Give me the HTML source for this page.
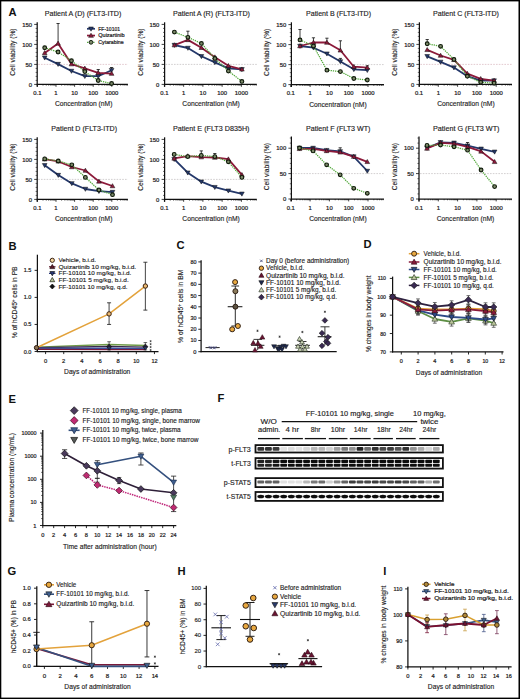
<!DOCTYPE html>
<html><head><meta charset="utf-8"><style>
html,body{margin:0;padding:0;background:#fff;}
svg{display:block;}
text{font-family:"Liberation Sans",sans-serif;stroke:#1e1c1d;}
</style></head><body>
<svg width="520" height="699" viewBox="0 0 520 699" fill="#1e1c1d">
<rect x="0" y="0" width="520" height="699" fill="#fff"/>
<text x="8.60" y="15.90" font-size="11.2" font-weight="bold" fill="#111" stroke-width="0">A</text>
<line x1="38.20" y1="64.40" x2="127.90" y2="64.40" stroke="#dcbcc4" stroke-width="0.8" stroke-dasharray="1.6,1.2"/>
<line x1="37.20" y1="22.30" x2="37.20" y2="86.80" stroke="#111" stroke-width="1.25"/>
<line x1="34.20" y1="84.40" x2="37.20" y2="84.40" stroke="#111" stroke-width="0.8"/>
<line x1="35.60" y1="80.40" x2="37.20" y2="80.40" stroke="#111" stroke-width="0.6"/>
<line x1="35.60" y1="76.40" x2="37.20" y2="76.40" stroke="#111" stroke-width="0.6"/>
<line x1="35.60" y1="72.40" x2="37.20" y2="72.40" stroke="#111" stroke-width="0.6"/>
<line x1="35.60" y1="68.40" x2="37.20" y2="68.40" stroke="#111" stroke-width="0.6"/>
<line x1="34.20" y1="64.40" x2="37.20" y2="64.40" stroke="#111" stroke-width="0.8"/>
<line x1="35.60" y1="60.40" x2="37.20" y2="60.40" stroke="#111" stroke-width="0.6"/>
<line x1="35.60" y1="56.40" x2="37.20" y2="56.40" stroke="#111" stroke-width="0.6"/>
<line x1="35.60" y1="52.40" x2="37.20" y2="52.40" stroke="#111" stroke-width="0.6"/>
<line x1="35.60" y1="48.40" x2="37.20" y2="48.40" stroke="#111" stroke-width="0.6"/>
<line x1="34.20" y1="44.40" x2="37.20" y2="44.40" stroke="#111" stroke-width="0.8"/>
<line x1="35.60" y1="40.40" x2="37.20" y2="40.40" stroke="#111" stroke-width="0.6"/>
<line x1="35.60" y1="36.40" x2="37.20" y2="36.40" stroke="#111" stroke-width="0.6"/>
<line x1="35.60" y1="32.40" x2="37.20" y2="32.40" stroke="#111" stroke-width="0.6"/>
<line x1="35.60" y1="28.40" x2="37.20" y2="28.40" stroke="#111" stroke-width="0.6"/>
<line x1="34.20" y1="24.40" x2="37.20" y2="24.40" stroke="#111" stroke-width="0.8"/>
<text x="32.00" y="86.50" font-size="5.9" text-anchor="end" stroke-width="0.22">0</text>
<text x="32.00" y="66.50" font-size="5.9" text-anchor="end" stroke-width="0.22">50</text>
<text x="32.00" y="46.50" font-size="5.9" text-anchor="end" stroke-width="0.22">100</text>
<text x="32.00" y="26.50" font-size="5.9" text-anchor="end" stroke-width="0.22">150</text>
<line x1="36.70" y1="84.40" x2="127.90" y2="84.40" stroke="#111" stroke-width="1.25"/>
<line x1="37.40" y1="84.40" x2="37.40" y2="86.80" stroke="#111" stroke-width="0.8"/>
<text x="37.40" y="95.00" font-size="5.9" text-anchor="middle" stroke-width="0.22">0.1</text>
<line x1="43.00" y1="84.40" x2="43.00" y2="85.70" stroke="#111" stroke-width="0.6"/>
<line x1="46.27" y1="84.40" x2="46.27" y2="85.70" stroke="#111" stroke-width="0.6"/>
<line x1="48.60" y1="84.40" x2="48.60" y2="85.70" stroke="#111" stroke-width="0.6"/>
<line x1="50.40" y1="84.40" x2="50.40" y2="85.70" stroke="#111" stroke-width="0.6"/>
<line x1="51.87" y1="84.40" x2="51.87" y2="85.70" stroke="#111" stroke-width="0.6"/>
<line x1="53.12" y1="84.40" x2="53.12" y2="85.70" stroke="#111" stroke-width="0.6"/>
<line x1="54.20" y1="84.40" x2="54.20" y2="85.70" stroke="#111" stroke-width="0.6"/>
<line x1="55.15" y1="84.40" x2="55.15" y2="85.70" stroke="#111" stroke-width="0.6"/>
<line x1="56.00" y1="84.40" x2="56.00" y2="86.80" stroke="#111" stroke-width="0.8"/>
<text x="56.00" y="95.00" font-size="5.9" text-anchor="middle" stroke-width="0.22">1</text>
<line x1="61.60" y1="84.40" x2="61.60" y2="85.70" stroke="#111" stroke-width="0.6"/>
<line x1="64.87" y1="84.40" x2="64.87" y2="85.70" stroke="#111" stroke-width="0.6"/>
<line x1="67.20" y1="84.40" x2="67.20" y2="85.70" stroke="#111" stroke-width="0.6"/>
<line x1="69.00" y1="84.40" x2="69.00" y2="85.70" stroke="#111" stroke-width="0.6"/>
<line x1="70.47" y1="84.40" x2="70.47" y2="85.70" stroke="#111" stroke-width="0.6"/>
<line x1="71.72" y1="84.40" x2="71.72" y2="85.70" stroke="#111" stroke-width="0.6"/>
<line x1="72.80" y1="84.40" x2="72.80" y2="85.70" stroke="#111" stroke-width="0.6"/>
<line x1="73.75" y1="84.40" x2="73.75" y2="85.70" stroke="#111" stroke-width="0.6"/>
<line x1="74.60" y1="84.40" x2="74.60" y2="86.80" stroke="#111" stroke-width="0.8"/>
<text x="74.60" y="95.00" font-size="5.9" text-anchor="middle" stroke-width="0.22">10</text>
<line x1="80.20" y1="84.40" x2="80.20" y2="85.70" stroke="#111" stroke-width="0.6"/>
<line x1="83.47" y1="84.40" x2="83.47" y2="85.70" stroke="#111" stroke-width="0.6"/>
<line x1="85.80" y1="84.40" x2="85.80" y2="85.70" stroke="#111" stroke-width="0.6"/>
<line x1="87.60" y1="84.40" x2="87.60" y2="85.70" stroke="#111" stroke-width="0.6"/>
<line x1="89.07" y1="84.40" x2="89.07" y2="85.70" stroke="#111" stroke-width="0.6"/>
<line x1="90.32" y1="84.40" x2="90.32" y2="85.70" stroke="#111" stroke-width="0.6"/>
<line x1="91.40" y1="84.40" x2="91.40" y2="85.70" stroke="#111" stroke-width="0.6"/>
<line x1="92.35" y1="84.40" x2="92.35" y2="85.70" stroke="#111" stroke-width="0.6"/>
<line x1="93.20" y1="84.40" x2="93.20" y2="86.80" stroke="#111" stroke-width="0.8"/>
<text x="93.20" y="95.00" font-size="5.9" text-anchor="middle" stroke-width="0.22">100</text>
<line x1="98.80" y1="84.40" x2="98.80" y2="85.70" stroke="#111" stroke-width="0.6"/>
<line x1="102.07" y1="84.40" x2="102.07" y2="85.70" stroke="#111" stroke-width="0.6"/>
<line x1="104.40" y1="84.40" x2="104.40" y2="85.70" stroke="#111" stroke-width="0.6"/>
<line x1="106.20" y1="84.40" x2="106.20" y2="85.70" stroke="#111" stroke-width="0.6"/>
<line x1="107.67" y1="84.40" x2="107.67" y2="85.70" stroke="#111" stroke-width="0.6"/>
<line x1="108.92" y1="84.40" x2="108.92" y2="85.70" stroke="#111" stroke-width="0.6"/>
<line x1="110.00" y1="84.40" x2="110.00" y2="85.70" stroke="#111" stroke-width="0.6"/>
<line x1="110.95" y1="84.40" x2="110.95" y2="85.70" stroke="#111" stroke-width="0.6"/>
<line x1="111.80" y1="84.40" x2="111.80" y2="86.80" stroke="#111" stroke-width="0.8"/>
<text x="111.80" y="95.00" font-size="5.9" text-anchor="middle" stroke-width="0.22">1000</text>
<line x1="117.40" y1="84.40" x2="117.40" y2="85.70" stroke="#111" stroke-width="0.6"/>
<line x1="120.67" y1="84.40" x2="120.67" y2="85.70" stroke="#111" stroke-width="0.6"/>
<line x1="123.00" y1="84.40" x2="123.00" y2="85.70" stroke="#111" stroke-width="0.6"/>
<line x1="124.80" y1="84.40" x2="124.80" y2="85.70" stroke="#111" stroke-width="0.6"/>
<line x1="126.27" y1="84.40" x2="126.27" y2="85.70" stroke="#111" stroke-width="0.6"/>
<line x1="127.52" y1="84.40" x2="127.52" y2="85.70" stroke="#111" stroke-width="0.6"/>
<text x="83.05" y="15.70" font-size="7.0" text-anchor="middle" textLength="76.50" lengthAdjust="spacingAndGlyphs" stroke-width="0.14">Patient A (D) (FLT3-ITD)</text>
<text x="83.70" y="106.40" font-size="7.2" text-anchor="middle" textLength="57.50" lengthAdjust="spacingAndGlyphs" stroke-width="0.14">Concentration (nM)</text>
<text x="15.20" y="52.10" font-size="7.0" text-anchor="middle" textLength="47.20" lengthAdjust="spacingAndGlyphs" transform="rotate(-90 15.20 52.10)" stroke-width="0.14">Cell viability (%)</text>
<polyline points="44.70,57.70 58.08,64.10 71.46,71.00 84.84,76.20 98.22,76.20 111.60,70.20" fill="none" stroke="#24386a" stroke-width="1.8" stroke-linejoin="round"/>
<polyline points="44.70,52.90 58.08,43.40 71.46,64.10 84.84,68.40 98.22,72.80 111.60,73.60" fill="none" stroke="#8c1a3a" stroke-width="1.8" stroke-linejoin="round"/>
<polyline points="44.70,47.70 58.08,52.00 71.46,60.70 84.84,71.60 98.22,80.50 111.60,83.50" fill="none" stroke="#52a83a" stroke-width="1.25" stroke-linejoin="round" stroke-dasharray="1.3,0.9"/>
<line x1="58.08" y1="43.40" x2="58.08" y2="23.50" stroke="#1a1a1a" stroke-width="0.85"/>
<line x1="56.48" y1="23.50" x2="59.68" y2="23.50" stroke="#1a1a1a" stroke-width="0.85"/>
<line x1="98.22" y1="72.80" x2="98.22" y2="69.50" stroke="#1a1a1a" stroke-width="0.85"/>
<line x1="96.62" y1="69.50" x2="99.82" y2="69.50" stroke="#1a1a1a" stroke-width="0.85"/>
<line x1="111.60" y1="70.20" x2="111.60" y2="67.50" stroke="#1a1a1a" stroke-width="0.85"/>
<line x1="110.00" y1="67.50" x2="113.20" y2="67.50" stroke="#1a1a1a" stroke-width="0.85"/>
<path d="M44.70,60.06 L47.06,55.93 L42.34,55.93Z" fill="#24386a" stroke="#111" stroke-width="0.5"/>
<path d="M58.08,66.46 L60.44,62.33 L55.72,62.33Z" fill="#24386a" stroke="#111" stroke-width="0.5"/>
<path d="M71.46,73.36 L73.82,69.23 L69.10,69.23Z" fill="#24386a" stroke="#111" stroke-width="0.5"/>
<path d="M84.84,78.56 L87.20,74.43 L82.48,74.43Z" fill="#24386a" stroke="#111" stroke-width="0.5"/>
<path d="M98.22,78.56 L100.58,74.43 L95.86,74.43Z" fill="#24386a" stroke="#111" stroke-width="0.5"/>
<path d="M111.60,72.56 L113.96,68.43 L109.24,68.43Z" fill="#24386a" stroke="#111" stroke-width="0.5"/>
<path d="M44.70,50.54 L47.06,54.67 L42.34,54.67Z" fill="#8c1a3a" stroke="#111" stroke-width="0.5"/>
<path d="M58.08,41.04 L60.44,45.17 L55.72,45.17Z" fill="#8c1a3a" stroke="#111" stroke-width="0.5"/>
<path d="M71.46,61.74 L73.82,65.87 L69.10,65.87Z" fill="#8c1a3a" stroke="#111" stroke-width="0.5"/>
<path d="M84.84,66.04 L87.20,70.17 L82.48,70.17Z" fill="#8c1a3a" stroke="#111" stroke-width="0.5"/>
<path d="M98.22,70.44 L100.58,74.57 L95.86,74.57Z" fill="#8c1a3a" stroke="#111" stroke-width="0.5"/>
<path d="M111.60,71.24 L113.96,75.37 L109.24,75.37Z" fill="#8c1a3a" stroke="#111" stroke-width="0.5"/>
<circle cx="44.70" cy="47.70" r="1.85" fill="#7d8a6a" stroke="#0f1a0a" stroke-width="1.15"/>
<circle cx="58.08" cy="52.00" r="1.85" fill="#7d8a6a" stroke="#0f1a0a" stroke-width="1.15"/>
<circle cx="71.46" cy="60.70" r="1.85" fill="#7d8a6a" stroke="#0f1a0a" stroke-width="1.15"/>
<circle cx="84.84" cy="71.60" r="1.85" fill="#7d8a6a" stroke="#0f1a0a" stroke-width="1.15"/>
<circle cx="98.22" cy="80.50" r="1.85" fill="#7d8a6a" stroke="#0f1a0a" stroke-width="1.15"/>
<circle cx="111.60" cy="83.50" r="1.85" fill="#7d8a6a" stroke="#0f1a0a" stroke-width="1.15"/>
<line x1="87.00" y1="28.80" x2="95.00" y2="28.80" stroke="#24386a" stroke-width="1.7"/>
<path d="M91.00,31.21 L93.42,26.99 L88.58,26.99Z" fill="#24386a" stroke="#111" stroke-width="0.5"/>
<text x="98.30" y="30.70" font-size="5.5" textLength="21.70" lengthAdjust="spacingAndGlyphs" stroke-width="0.22">FF-10101</text>
<line x1="87.00" y1="35.55" x2="95.00" y2="35.55" stroke="#8c1a3a" stroke-width="1.7"/>
<path d="M91.00,33.13 L93.42,37.36 L88.58,37.36Z" fill="#8c1a3a" stroke="#111" stroke-width="0.5"/>
<text x="98.30" y="37.45" font-size="5.5" stroke-width="0.22">Quizartinib</text>
<line x1="87.00" y1="42.30" x2="95.00" y2="42.30" stroke="#52a83a" stroke-width="1.2" stroke-dasharray="1.2,0.9"/>
<circle cx="91.00" cy="42.30" r="1.90" fill="#7d8a6a" stroke="#1a2616" stroke-width="1.0"/>
<text x="98.30" y="44.20" font-size="5.5" textLength="25.40" lengthAdjust="spacingAndGlyphs" stroke-width="0.22">Cytarabine</text>
<line x1="165.60" y1="64.40" x2="256.80" y2="64.40" stroke="#c6c3c4" stroke-width="0.8" stroke-dasharray="1.6,1.2"/>
<line x1="164.60" y1="22.30" x2="164.60" y2="86.80" stroke="#111" stroke-width="1.25"/>
<line x1="161.60" y1="84.40" x2="164.60" y2="84.40" stroke="#111" stroke-width="0.8"/>
<line x1="163.00" y1="80.40" x2="164.60" y2="80.40" stroke="#111" stroke-width="0.6"/>
<line x1="163.00" y1="76.40" x2="164.60" y2="76.40" stroke="#111" stroke-width="0.6"/>
<line x1="163.00" y1="72.40" x2="164.60" y2="72.40" stroke="#111" stroke-width="0.6"/>
<line x1="163.00" y1="68.40" x2="164.60" y2="68.40" stroke="#111" stroke-width="0.6"/>
<line x1="161.60" y1="64.40" x2="164.60" y2="64.40" stroke="#111" stroke-width="0.8"/>
<line x1="163.00" y1="60.40" x2="164.60" y2="60.40" stroke="#111" stroke-width="0.6"/>
<line x1="163.00" y1="56.40" x2="164.60" y2="56.40" stroke="#111" stroke-width="0.6"/>
<line x1="163.00" y1="52.40" x2="164.60" y2="52.40" stroke="#111" stroke-width="0.6"/>
<line x1="163.00" y1="48.40" x2="164.60" y2="48.40" stroke="#111" stroke-width="0.6"/>
<line x1="161.60" y1="44.40" x2="164.60" y2="44.40" stroke="#111" stroke-width="0.8"/>
<line x1="163.00" y1="40.40" x2="164.60" y2="40.40" stroke="#111" stroke-width="0.6"/>
<line x1="163.00" y1="36.40" x2="164.60" y2="36.40" stroke="#111" stroke-width="0.6"/>
<line x1="163.00" y1="32.40" x2="164.60" y2="32.40" stroke="#111" stroke-width="0.6"/>
<line x1="163.00" y1="28.40" x2="164.60" y2="28.40" stroke="#111" stroke-width="0.6"/>
<line x1="161.60" y1="24.40" x2="164.60" y2="24.40" stroke="#111" stroke-width="0.8"/>
<text x="159.40" y="86.50" font-size="5.9" text-anchor="end" stroke-width="0.22">0</text>
<text x="159.40" y="66.50" font-size="5.9" text-anchor="end" stroke-width="0.22">50</text>
<text x="159.40" y="46.50" font-size="5.9" text-anchor="end" stroke-width="0.22">100</text>
<text x="159.40" y="26.50" font-size="5.9" text-anchor="end" stroke-width="0.22">150</text>
<line x1="164.10" y1="84.40" x2="256.80" y2="84.40" stroke="#111" stroke-width="1.25"/>
<line x1="164.40" y1="84.40" x2="164.40" y2="86.80" stroke="#111" stroke-width="0.8"/>
<text x="164.40" y="95.00" font-size="5.9" text-anchor="middle" stroke-width="0.22">0.1</text>
<line x1="170.19" y1="84.40" x2="170.19" y2="85.70" stroke="#111" stroke-width="0.6"/>
<line x1="173.58" y1="84.40" x2="173.58" y2="85.70" stroke="#111" stroke-width="0.6"/>
<line x1="175.99" y1="84.40" x2="175.99" y2="85.70" stroke="#111" stroke-width="0.6"/>
<line x1="177.86" y1="84.40" x2="177.86" y2="85.70" stroke="#111" stroke-width="0.6"/>
<line x1="179.38" y1="84.40" x2="179.38" y2="85.70" stroke="#111" stroke-width="0.6"/>
<line x1="180.67" y1="84.40" x2="180.67" y2="85.70" stroke="#111" stroke-width="0.6"/>
<line x1="181.78" y1="84.40" x2="181.78" y2="85.70" stroke="#111" stroke-width="0.6"/>
<line x1="182.77" y1="84.40" x2="182.77" y2="85.70" stroke="#111" stroke-width="0.6"/>
<line x1="183.65" y1="84.40" x2="183.65" y2="86.80" stroke="#111" stroke-width="0.8"/>
<text x="183.65" y="95.00" font-size="5.9" text-anchor="middle" stroke-width="0.22">1</text>
<line x1="189.44" y1="84.40" x2="189.44" y2="85.70" stroke="#111" stroke-width="0.6"/>
<line x1="192.83" y1="84.40" x2="192.83" y2="85.70" stroke="#111" stroke-width="0.6"/>
<line x1="195.24" y1="84.40" x2="195.24" y2="85.70" stroke="#111" stroke-width="0.6"/>
<line x1="197.11" y1="84.40" x2="197.11" y2="85.70" stroke="#111" stroke-width="0.6"/>
<line x1="198.63" y1="84.40" x2="198.63" y2="85.70" stroke="#111" stroke-width="0.6"/>
<line x1="199.92" y1="84.40" x2="199.92" y2="85.70" stroke="#111" stroke-width="0.6"/>
<line x1="201.03" y1="84.40" x2="201.03" y2="85.70" stroke="#111" stroke-width="0.6"/>
<line x1="202.02" y1="84.40" x2="202.02" y2="85.70" stroke="#111" stroke-width="0.6"/>
<line x1="202.90" y1="84.40" x2="202.90" y2="86.80" stroke="#111" stroke-width="0.8"/>
<text x="202.90" y="95.00" font-size="5.9" text-anchor="middle" stroke-width="0.22">10</text>
<line x1="208.69" y1="84.40" x2="208.69" y2="85.70" stroke="#111" stroke-width="0.6"/>
<line x1="212.08" y1="84.40" x2="212.08" y2="85.70" stroke="#111" stroke-width="0.6"/>
<line x1="214.49" y1="84.40" x2="214.49" y2="85.70" stroke="#111" stroke-width="0.6"/>
<line x1="216.36" y1="84.40" x2="216.36" y2="85.70" stroke="#111" stroke-width="0.6"/>
<line x1="217.88" y1="84.40" x2="217.88" y2="85.70" stroke="#111" stroke-width="0.6"/>
<line x1="219.17" y1="84.40" x2="219.17" y2="85.70" stroke="#111" stroke-width="0.6"/>
<line x1="220.28" y1="84.40" x2="220.28" y2="85.70" stroke="#111" stroke-width="0.6"/>
<line x1="221.27" y1="84.40" x2="221.27" y2="85.70" stroke="#111" stroke-width="0.6"/>
<line x1="222.15" y1="84.40" x2="222.15" y2="86.80" stroke="#111" stroke-width="0.8"/>
<text x="222.15" y="95.00" font-size="5.9" text-anchor="middle" stroke-width="0.22">100</text>
<line x1="227.94" y1="84.40" x2="227.94" y2="85.70" stroke="#111" stroke-width="0.6"/>
<line x1="231.33" y1="84.40" x2="231.33" y2="85.70" stroke="#111" stroke-width="0.6"/>
<line x1="233.74" y1="84.40" x2="233.74" y2="85.70" stroke="#111" stroke-width="0.6"/>
<line x1="235.61" y1="84.40" x2="235.61" y2="85.70" stroke="#111" stroke-width="0.6"/>
<line x1="237.13" y1="84.40" x2="237.13" y2="85.70" stroke="#111" stroke-width="0.6"/>
<line x1="238.42" y1="84.40" x2="238.42" y2="85.70" stroke="#111" stroke-width="0.6"/>
<line x1="239.53" y1="84.40" x2="239.53" y2="85.70" stroke="#111" stroke-width="0.6"/>
<line x1="240.52" y1="84.40" x2="240.52" y2="85.70" stroke="#111" stroke-width="0.6"/>
<line x1="241.40" y1="84.40" x2="241.40" y2="86.80" stroke="#111" stroke-width="0.8"/>
<text x="241.40" y="95.00" font-size="5.9" text-anchor="middle" stroke-width="0.22">1000</text>
<line x1="247.19" y1="84.40" x2="247.19" y2="85.70" stroke="#111" stroke-width="0.6"/>
<line x1="250.58" y1="84.40" x2="250.58" y2="85.70" stroke="#111" stroke-width="0.6"/>
<line x1="252.99" y1="84.40" x2="252.99" y2="85.70" stroke="#111" stroke-width="0.6"/>
<line x1="254.86" y1="84.40" x2="254.86" y2="85.70" stroke="#111" stroke-width="0.6"/>
<line x1="256.38" y1="84.40" x2="256.38" y2="85.70" stroke="#111" stroke-width="0.6"/>
<text x="211.50" y="15.70" font-size="7.0" text-anchor="middle" textLength="77.00" lengthAdjust="spacingAndGlyphs" stroke-width="0.14">Patient A (R) (FLT3-ITD)</text>
<text x="211.10" y="106.40" font-size="7.2" text-anchor="middle" textLength="57.50" lengthAdjust="spacingAndGlyphs" stroke-width="0.14">Concentration (nM)</text>
<text x="142.60" y="52.10" font-size="7.0" text-anchor="middle" textLength="47.20" lengthAdjust="spacingAndGlyphs" transform="rotate(-90 142.60 52.10)" stroke-width="0.14">Cell viability (%)</text>
<polyline points="174.40,45.10 187.90,48.00 201.40,56.30 214.90,62.40 228.40,68.40 241.90,69.30" fill="none" stroke="#24386a" stroke-width="1.8" stroke-linejoin="round"/>
<polyline points="174.40,45.10 187.90,39.90 201.40,47.70 214.90,57.20 228.40,65.80 241.90,69.30" fill="none" stroke="#8c1a3a" stroke-width="1.8" stroke-linejoin="round"/>
<polyline points="174.40,32.10 187.90,37.30 201.40,43.40 214.90,58.40 228.40,71.00 241.90,81.40" fill="none" stroke="#52a83a" stroke-width="1.25" stroke-linejoin="round" stroke-dasharray="1.3,0.9"/>
<line x1="187.90" y1="37.30" x2="187.90" y2="31.20" stroke="#1a1a1a" stroke-width="0.85"/>
<line x1="186.30" y1="31.20" x2="189.50" y2="31.20" stroke="#1a1a1a" stroke-width="0.85"/>
<path d="M174.40,47.46 L176.76,43.33 L172.04,43.33Z" fill="#24386a" stroke="#111" stroke-width="0.5"/>
<path d="M187.90,50.36 L190.26,46.23 L185.54,46.23Z" fill="#24386a" stroke="#111" stroke-width="0.5"/>
<path d="M201.40,58.66 L203.76,54.53 L199.04,54.53Z" fill="#24386a" stroke="#111" stroke-width="0.5"/>
<path d="M214.90,64.76 L217.26,60.63 L212.54,60.63Z" fill="#24386a" stroke="#111" stroke-width="0.5"/>
<path d="M228.40,70.76 L230.76,66.63 L226.04,66.63Z" fill="#24386a" stroke="#111" stroke-width="0.5"/>
<path d="M241.90,71.66 L244.26,67.53 L239.54,67.53Z" fill="#24386a" stroke="#111" stroke-width="0.5"/>
<path d="M174.40,42.74 L176.76,46.87 L172.04,46.87Z" fill="#8c1a3a" stroke="#111" stroke-width="0.5"/>
<path d="M187.90,37.54 L190.26,41.67 L185.54,41.67Z" fill="#8c1a3a" stroke="#111" stroke-width="0.5"/>
<path d="M201.40,45.34 L203.76,49.47 L199.04,49.47Z" fill="#8c1a3a" stroke="#111" stroke-width="0.5"/>
<path d="M214.90,54.84 L217.26,58.97 L212.54,58.97Z" fill="#8c1a3a" stroke="#111" stroke-width="0.5"/>
<path d="M228.40,63.44 L230.76,67.57 L226.04,67.57Z" fill="#8c1a3a" stroke="#111" stroke-width="0.5"/>
<path d="M241.90,66.94 L244.26,71.07 L239.54,71.07Z" fill="#8c1a3a" stroke="#111" stroke-width="0.5"/>
<circle cx="174.40" cy="32.10" r="1.85" fill="#7d8a6a" stroke="#0f1a0a" stroke-width="1.15"/>
<circle cx="187.90" cy="37.30" r="1.85" fill="#7d8a6a" stroke="#0f1a0a" stroke-width="1.15"/>
<circle cx="201.40" cy="43.40" r="1.85" fill="#7d8a6a" stroke="#0f1a0a" stroke-width="1.15"/>
<circle cx="214.90" cy="58.40" r="1.85" fill="#7d8a6a" stroke="#0f1a0a" stroke-width="1.15"/>
<circle cx="228.40" cy="71.00" r="1.85" fill="#7d8a6a" stroke="#0f1a0a" stroke-width="1.15"/>
<circle cx="241.90" cy="81.40" r="1.85" fill="#7d8a6a" stroke="#0f1a0a" stroke-width="1.15"/>
<line x1="292.40" y1="64.60" x2="384.00" y2="64.60" stroke="#c6c3c4" stroke-width="0.8" stroke-dasharray="1.6,1.2"/>
<line x1="291.40" y1="22.30" x2="291.40" y2="87.00" stroke="#111" stroke-width="1.25"/>
<line x1="288.40" y1="84.60" x2="291.40" y2="84.60" stroke="#111" stroke-width="0.8"/>
<line x1="289.80" y1="80.60" x2="291.40" y2="80.60" stroke="#111" stroke-width="0.6"/>
<line x1="289.80" y1="76.60" x2="291.40" y2="76.60" stroke="#111" stroke-width="0.6"/>
<line x1="289.80" y1="72.60" x2="291.40" y2="72.60" stroke="#111" stroke-width="0.6"/>
<line x1="289.80" y1="68.60" x2="291.40" y2="68.60" stroke="#111" stroke-width="0.6"/>
<line x1="288.40" y1="64.60" x2="291.40" y2="64.60" stroke="#111" stroke-width="0.8"/>
<line x1="289.80" y1="60.60" x2="291.40" y2="60.60" stroke="#111" stroke-width="0.6"/>
<line x1="289.80" y1="56.60" x2="291.40" y2="56.60" stroke="#111" stroke-width="0.6"/>
<line x1="289.80" y1="52.60" x2="291.40" y2="52.60" stroke="#111" stroke-width="0.6"/>
<line x1="289.80" y1="48.60" x2="291.40" y2="48.60" stroke="#111" stroke-width="0.6"/>
<line x1="288.40" y1="44.60" x2="291.40" y2="44.60" stroke="#111" stroke-width="0.8"/>
<line x1="289.80" y1="40.60" x2="291.40" y2="40.60" stroke="#111" stroke-width="0.6"/>
<line x1="289.80" y1="36.60" x2="291.40" y2="36.60" stroke="#111" stroke-width="0.6"/>
<line x1="289.80" y1="32.60" x2="291.40" y2="32.60" stroke="#111" stroke-width="0.6"/>
<line x1="289.80" y1="28.60" x2="291.40" y2="28.60" stroke="#111" stroke-width="0.6"/>
<line x1="288.40" y1="24.60" x2="291.40" y2="24.60" stroke="#111" stroke-width="0.8"/>
<text x="286.20" y="86.70" font-size="5.9" text-anchor="end" stroke-width="0.22">0</text>
<text x="286.20" y="66.70" font-size="5.9" text-anchor="end" stroke-width="0.22">50</text>
<text x="286.20" y="46.70" font-size="5.9" text-anchor="end" stroke-width="0.22">100</text>
<text x="286.20" y="26.70" font-size="5.9" text-anchor="end" stroke-width="0.22">150</text>
<line x1="290.90" y1="84.60" x2="384.00" y2="84.60" stroke="#111" stroke-width="1.25"/>
<line x1="290.80" y1="84.60" x2="290.80" y2="87.00" stroke="#111" stroke-width="0.8"/>
<text x="290.80" y="95.20" font-size="5.9" text-anchor="middle" stroke-width="0.22">0.1</text>
<line x1="296.61" y1="84.60" x2="296.61" y2="85.90" stroke="#111" stroke-width="0.6"/>
<line x1="300.01" y1="84.60" x2="300.01" y2="85.90" stroke="#111" stroke-width="0.6"/>
<line x1="302.42" y1="84.60" x2="302.42" y2="85.90" stroke="#111" stroke-width="0.6"/>
<line x1="304.29" y1="84.60" x2="304.29" y2="85.90" stroke="#111" stroke-width="0.6"/>
<line x1="305.82" y1="84.60" x2="305.82" y2="85.90" stroke="#111" stroke-width="0.6"/>
<line x1="307.11" y1="84.60" x2="307.11" y2="85.90" stroke="#111" stroke-width="0.6"/>
<line x1="308.23" y1="84.60" x2="308.23" y2="85.90" stroke="#111" stroke-width="0.6"/>
<line x1="309.22" y1="84.60" x2="309.22" y2="85.90" stroke="#111" stroke-width="0.6"/>
<line x1="310.10" y1="84.60" x2="310.10" y2="87.00" stroke="#111" stroke-width="0.8"/>
<text x="310.10" y="95.20" font-size="5.9" text-anchor="middle" stroke-width="0.22">1</text>
<line x1="315.91" y1="84.60" x2="315.91" y2="85.90" stroke="#111" stroke-width="0.6"/>
<line x1="319.31" y1="84.60" x2="319.31" y2="85.90" stroke="#111" stroke-width="0.6"/>
<line x1="321.72" y1="84.60" x2="321.72" y2="85.90" stroke="#111" stroke-width="0.6"/>
<line x1="323.59" y1="84.60" x2="323.59" y2="85.90" stroke="#111" stroke-width="0.6"/>
<line x1="325.12" y1="84.60" x2="325.12" y2="85.90" stroke="#111" stroke-width="0.6"/>
<line x1="326.41" y1="84.60" x2="326.41" y2="85.90" stroke="#111" stroke-width="0.6"/>
<line x1="327.53" y1="84.60" x2="327.53" y2="85.90" stroke="#111" stroke-width="0.6"/>
<line x1="328.52" y1="84.60" x2="328.52" y2="85.90" stroke="#111" stroke-width="0.6"/>
<line x1="329.40" y1="84.60" x2="329.40" y2="87.00" stroke="#111" stroke-width="0.8"/>
<text x="329.40" y="95.20" font-size="5.9" text-anchor="middle" stroke-width="0.22">10</text>
<line x1="335.21" y1="84.60" x2="335.21" y2="85.90" stroke="#111" stroke-width="0.6"/>
<line x1="338.61" y1="84.60" x2="338.61" y2="85.90" stroke="#111" stroke-width="0.6"/>
<line x1="341.02" y1="84.60" x2="341.02" y2="85.90" stroke="#111" stroke-width="0.6"/>
<line x1="342.89" y1="84.60" x2="342.89" y2="85.90" stroke="#111" stroke-width="0.6"/>
<line x1="344.42" y1="84.60" x2="344.42" y2="85.90" stroke="#111" stroke-width="0.6"/>
<line x1="345.71" y1="84.60" x2="345.71" y2="85.90" stroke="#111" stroke-width="0.6"/>
<line x1="346.83" y1="84.60" x2="346.83" y2="85.90" stroke="#111" stroke-width="0.6"/>
<line x1="347.82" y1="84.60" x2="347.82" y2="85.90" stroke="#111" stroke-width="0.6"/>
<line x1="348.70" y1="84.60" x2="348.70" y2="87.00" stroke="#111" stroke-width="0.8"/>
<text x="348.70" y="95.20" font-size="5.9" text-anchor="middle" stroke-width="0.22">100</text>
<line x1="354.51" y1="84.60" x2="354.51" y2="85.90" stroke="#111" stroke-width="0.6"/>
<line x1="357.91" y1="84.60" x2="357.91" y2="85.90" stroke="#111" stroke-width="0.6"/>
<line x1="360.32" y1="84.60" x2="360.32" y2="85.90" stroke="#111" stroke-width="0.6"/>
<line x1="362.19" y1="84.60" x2="362.19" y2="85.90" stroke="#111" stroke-width="0.6"/>
<line x1="363.72" y1="84.60" x2="363.72" y2="85.90" stroke="#111" stroke-width="0.6"/>
<line x1="365.01" y1="84.60" x2="365.01" y2="85.90" stroke="#111" stroke-width="0.6"/>
<line x1="366.13" y1="84.60" x2="366.13" y2="85.90" stroke="#111" stroke-width="0.6"/>
<line x1="367.12" y1="84.60" x2="367.12" y2="85.90" stroke="#111" stroke-width="0.6"/>
<line x1="368.00" y1="84.60" x2="368.00" y2="87.00" stroke="#111" stroke-width="0.8"/>
<text x="368.00" y="95.20" font-size="5.9" text-anchor="middle" stroke-width="0.22">1000</text>
<line x1="373.81" y1="84.60" x2="373.81" y2="85.90" stroke="#111" stroke-width="0.6"/>
<line x1="377.21" y1="84.60" x2="377.21" y2="85.90" stroke="#111" stroke-width="0.6"/>
<line x1="379.62" y1="84.60" x2="379.62" y2="85.90" stroke="#111" stroke-width="0.6"/>
<line x1="381.49" y1="84.60" x2="381.49" y2="85.90" stroke="#111" stroke-width="0.6"/>
<line x1="383.02" y1="84.60" x2="383.02" y2="85.90" stroke="#111" stroke-width="0.6"/>
<text x="338.50" y="15.70" font-size="7.0" text-anchor="middle" textLength="65.00" lengthAdjust="spacingAndGlyphs" stroke-width="0.14">Patient B (FLT3-ITD)</text>
<text x="337.90" y="106.60" font-size="7.2" text-anchor="middle" textLength="57.50" lengthAdjust="spacingAndGlyphs" stroke-width="0.14">Concentration (nM)</text>
<text x="269.40" y="52.30" font-size="7.0" text-anchor="middle" textLength="47.20" lengthAdjust="spacingAndGlyphs" transform="rotate(-90 269.40 52.30)" stroke-width="0.14">Cell viability (%)</text>
<polyline points="300.00,46.00 313.46,47.70 326.92,53.70 340.38,61.50 353.84,69.30 367.30,70.20" fill="none" stroke="#24386a" stroke-width="1.8" stroke-linejoin="round"/>
<polyline points="300.00,46.00 313.46,42.50 326.92,42.50 340.38,50.30 353.84,66.70 367.30,67.60" fill="none" stroke="#8c1a3a" stroke-width="1.8" stroke-linejoin="round"/>
<polyline points="300.00,39.90 313.46,46.00 326.92,70.20 340.38,71.60 353.84,78.50 367.30,80.00" fill="none" stroke="#52a83a" stroke-width="1.25" stroke-linejoin="round" stroke-dasharray="1.3,0.9"/>
<line x1="300.00" y1="39.90" x2="300.00" y2="29.50" stroke="#1a1a1a" stroke-width="0.85"/>
<line x1="298.40" y1="29.50" x2="301.60" y2="29.50" stroke="#1a1a1a" stroke-width="0.85"/>
<line x1="313.46" y1="42.50" x2="313.46" y2="37.80" stroke="#1a1a1a" stroke-width="0.85"/>
<line x1="311.86" y1="37.80" x2="315.06" y2="37.80" stroke="#1a1a1a" stroke-width="0.85"/>
<line x1="326.92" y1="42.50" x2="326.92" y2="38.20" stroke="#1a1a1a" stroke-width="0.85"/>
<line x1="325.32" y1="38.20" x2="328.52" y2="38.20" stroke="#1a1a1a" stroke-width="0.85"/>
<line x1="340.38" y1="50.30" x2="340.38" y2="40.80" stroke="#1a1a1a" stroke-width="0.85"/>
<line x1="338.78" y1="40.80" x2="341.98" y2="40.80" stroke="#1a1a1a" stroke-width="0.85"/>
<line x1="340.38" y1="61.50" x2="340.38" y2="58.40" stroke="#1a1a1a" stroke-width="0.85"/>
<line x1="338.78" y1="58.40" x2="341.98" y2="58.40" stroke="#1a1a1a" stroke-width="0.85"/>
<line x1="367.30" y1="67.60" x2="367.30" y2="65.80" stroke="#1a1a1a" stroke-width="0.85"/>
<line x1="365.70" y1="65.80" x2="368.90" y2="65.80" stroke="#1a1a1a" stroke-width="0.85"/>
<path d="M300.00,48.36 L302.36,44.23 L297.64,44.23Z" fill="#24386a" stroke="#111" stroke-width="0.5"/>
<path d="M313.46,50.06 L315.82,45.93 L311.10,45.93Z" fill="#24386a" stroke="#111" stroke-width="0.5"/>
<path d="M326.92,56.06 L329.28,51.93 L324.56,51.93Z" fill="#24386a" stroke="#111" stroke-width="0.5"/>
<path d="M340.38,63.86 L342.74,59.73 L338.02,59.73Z" fill="#24386a" stroke="#111" stroke-width="0.5"/>
<path d="M353.84,71.66 L356.20,67.53 L351.48,67.53Z" fill="#24386a" stroke="#111" stroke-width="0.5"/>
<path d="M367.30,72.56 L369.66,68.43 L364.94,68.43Z" fill="#24386a" stroke="#111" stroke-width="0.5"/>
<path d="M300.00,43.64 L302.36,47.77 L297.64,47.77Z" fill="#8c1a3a" stroke="#111" stroke-width="0.5"/>
<path d="M313.46,40.14 L315.82,44.27 L311.10,44.27Z" fill="#8c1a3a" stroke="#111" stroke-width="0.5"/>
<path d="M326.92,40.14 L329.28,44.27 L324.56,44.27Z" fill="#8c1a3a" stroke="#111" stroke-width="0.5"/>
<path d="M340.38,47.94 L342.74,52.07 L338.02,52.07Z" fill="#8c1a3a" stroke="#111" stroke-width="0.5"/>
<path d="M353.84,64.34 L356.20,68.47 L351.48,68.47Z" fill="#8c1a3a" stroke="#111" stroke-width="0.5"/>
<path d="M367.30,65.24 L369.66,69.37 L364.94,69.37Z" fill="#8c1a3a" stroke="#111" stroke-width="0.5"/>
<circle cx="300.00" cy="39.90" r="1.85" fill="#7d8a6a" stroke="#0f1a0a" stroke-width="1.15"/>
<circle cx="313.46" cy="46.00" r="1.85" fill="#7d8a6a" stroke="#0f1a0a" stroke-width="1.15"/>
<circle cx="326.92" cy="70.20" r="1.85" fill="#7d8a6a" stroke="#0f1a0a" stroke-width="1.15"/>
<circle cx="340.38" cy="71.60" r="1.85" fill="#7d8a6a" stroke="#0f1a0a" stroke-width="1.15"/>
<circle cx="353.84" cy="78.50" r="1.85" fill="#7d8a6a" stroke="#0f1a0a" stroke-width="1.15"/>
<circle cx="367.30" cy="80.00" r="1.85" fill="#7d8a6a" stroke="#0f1a0a" stroke-width="1.15"/>
<line x1="420.40" y1="64.40" x2="512.00" y2="64.40" stroke="#dcbcc4" stroke-width="0.8" stroke-dasharray="1.6,1.2"/>
<line x1="419.40" y1="22.30" x2="419.40" y2="86.80" stroke="#111" stroke-width="1.25"/>
<line x1="416.40" y1="84.40" x2="419.40" y2="84.40" stroke="#111" stroke-width="0.8"/>
<line x1="417.80" y1="80.40" x2="419.40" y2="80.40" stroke="#111" stroke-width="0.6"/>
<line x1="417.80" y1="76.40" x2="419.40" y2="76.40" stroke="#111" stroke-width="0.6"/>
<line x1="417.80" y1="72.40" x2="419.40" y2="72.40" stroke="#111" stroke-width="0.6"/>
<line x1="417.80" y1="68.40" x2="419.40" y2="68.40" stroke="#111" stroke-width="0.6"/>
<line x1="416.40" y1="64.40" x2="419.40" y2="64.40" stroke="#111" stroke-width="0.8"/>
<line x1="417.80" y1="60.40" x2="419.40" y2="60.40" stroke="#111" stroke-width="0.6"/>
<line x1="417.80" y1="56.40" x2="419.40" y2="56.40" stroke="#111" stroke-width="0.6"/>
<line x1="417.80" y1="52.40" x2="419.40" y2="52.40" stroke="#111" stroke-width="0.6"/>
<line x1="417.80" y1="48.40" x2="419.40" y2="48.40" stroke="#111" stroke-width="0.6"/>
<line x1="416.40" y1="44.40" x2="419.40" y2="44.40" stroke="#111" stroke-width="0.8"/>
<line x1="417.80" y1="40.40" x2="419.40" y2="40.40" stroke="#111" stroke-width="0.6"/>
<line x1="417.80" y1="36.40" x2="419.40" y2="36.40" stroke="#111" stroke-width="0.6"/>
<line x1="417.80" y1="32.40" x2="419.40" y2="32.40" stroke="#111" stroke-width="0.6"/>
<line x1="417.80" y1="28.40" x2="419.40" y2="28.40" stroke="#111" stroke-width="0.6"/>
<line x1="416.40" y1="24.40" x2="419.40" y2="24.40" stroke="#111" stroke-width="0.8"/>
<text x="414.20" y="86.50" font-size="5.9" text-anchor="end" stroke-width="0.22">0</text>
<text x="414.20" y="66.50" font-size="5.9" text-anchor="end" stroke-width="0.22">50</text>
<text x="414.20" y="46.50" font-size="5.9" text-anchor="end" stroke-width="0.22">100</text>
<text x="414.20" y="26.50" font-size="5.9" text-anchor="end" stroke-width="0.22">150</text>
<line x1="418.90" y1="84.40" x2="512.00" y2="84.40" stroke="#111" stroke-width="1.25"/>
<line x1="419.00" y1="84.40" x2="419.00" y2="86.80" stroke="#111" stroke-width="0.8"/>
<text x="419.00" y="95.00" font-size="5.9" text-anchor="middle" stroke-width="0.22">0.1</text>
<line x1="424.81" y1="84.40" x2="424.81" y2="85.70" stroke="#111" stroke-width="0.6"/>
<line x1="428.21" y1="84.40" x2="428.21" y2="85.70" stroke="#111" stroke-width="0.6"/>
<line x1="430.62" y1="84.40" x2="430.62" y2="85.70" stroke="#111" stroke-width="0.6"/>
<line x1="432.49" y1="84.40" x2="432.49" y2="85.70" stroke="#111" stroke-width="0.6"/>
<line x1="434.02" y1="84.40" x2="434.02" y2="85.70" stroke="#111" stroke-width="0.6"/>
<line x1="435.31" y1="84.40" x2="435.31" y2="85.70" stroke="#111" stroke-width="0.6"/>
<line x1="436.43" y1="84.40" x2="436.43" y2="85.70" stroke="#111" stroke-width="0.6"/>
<line x1="437.42" y1="84.40" x2="437.42" y2="85.70" stroke="#111" stroke-width="0.6"/>
<line x1="438.30" y1="84.40" x2="438.30" y2="86.80" stroke="#111" stroke-width="0.8"/>
<text x="438.30" y="95.00" font-size="5.9" text-anchor="middle" stroke-width="0.22">1</text>
<line x1="444.11" y1="84.40" x2="444.11" y2="85.70" stroke="#111" stroke-width="0.6"/>
<line x1="447.51" y1="84.40" x2="447.51" y2="85.70" stroke="#111" stroke-width="0.6"/>
<line x1="449.92" y1="84.40" x2="449.92" y2="85.70" stroke="#111" stroke-width="0.6"/>
<line x1="451.79" y1="84.40" x2="451.79" y2="85.70" stroke="#111" stroke-width="0.6"/>
<line x1="453.32" y1="84.40" x2="453.32" y2="85.70" stroke="#111" stroke-width="0.6"/>
<line x1="454.61" y1="84.40" x2="454.61" y2="85.70" stroke="#111" stroke-width="0.6"/>
<line x1="455.73" y1="84.40" x2="455.73" y2="85.70" stroke="#111" stroke-width="0.6"/>
<line x1="456.72" y1="84.40" x2="456.72" y2="85.70" stroke="#111" stroke-width="0.6"/>
<line x1="457.60" y1="84.40" x2="457.60" y2="86.80" stroke="#111" stroke-width="0.8"/>
<text x="457.60" y="95.00" font-size="5.9" text-anchor="middle" stroke-width="0.22">10</text>
<line x1="463.41" y1="84.40" x2="463.41" y2="85.70" stroke="#111" stroke-width="0.6"/>
<line x1="466.81" y1="84.40" x2="466.81" y2="85.70" stroke="#111" stroke-width="0.6"/>
<line x1="469.22" y1="84.40" x2="469.22" y2="85.70" stroke="#111" stroke-width="0.6"/>
<line x1="471.09" y1="84.40" x2="471.09" y2="85.70" stroke="#111" stroke-width="0.6"/>
<line x1="472.62" y1="84.40" x2="472.62" y2="85.70" stroke="#111" stroke-width="0.6"/>
<line x1="473.91" y1="84.40" x2="473.91" y2="85.70" stroke="#111" stroke-width="0.6"/>
<line x1="475.03" y1="84.40" x2="475.03" y2="85.70" stroke="#111" stroke-width="0.6"/>
<line x1="476.02" y1="84.40" x2="476.02" y2="85.70" stroke="#111" stroke-width="0.6"/>
<line x1="476.90" y1="84.40" x2="476.90" y2="86.80" stroke="#111" stroke-width="0.8"/>
<text x="476.90" y="95.00" font-size="5.9" text-anchor="middle" stroke-width="0.22">100</text>
<line x1="482.71" y1="84.40" x2="482.71" y2="85.70" stroke="#111" stroke-width="0.6"/>
<line x1="486.11" y1="84.40" x2="486.11" y2="85.70" stroke="#111" stroke-width="0.6"/>
<line x1="488.52" y1="84.40" x2="488.52" y2="85.70" stroke="#111" stroke-width="0.6"/>
<line x1="490.39" y1="84.40" x2="490.39" y2="85.70" stroke="#111" stroke-width="0.6"/>
<line x1="491.92" y1="84.40" x2="491.92" y2="85.70" stroke="#111" stroke-width="0.6"/>
<line x1="493.21" y1="84.40" x2="493.21" y2="85.70" stroke="#111" stroke-width="0.6"/>
<line x1="494.33" y1="84.40" x2="494.33" y2="85.70" stroke="#111" stroke-width="0.6"/>
<line x1="495.32" y1="84.40" x2="495.32" y2="85.70" stroke="#111" stroke-width="0.6"/>
<line x1="496.20" y1="84.40" x2="496.20" y2="86.80" stroke="#111" stroke-width="0.8"/>
<text x="496.20" y="95.00" font-size="5.9" text-anchor="middle" stroke-width="0.22">1000</text>
<line x1="502.01" y1="84.40" x2="502.01" y2="85.70" stroke="#111" stroke-width="0.6"/>
<line x1="505.41" y1="84.40" x2="505.41" y2="85.70" stroke="#111" stroke-width="0.6"/>
<line x1="507.82" y1="84.40" x2="507.82" y2="85.70" stroke="#111" stroke-width="0.6"/>
<line x1="509.69" y1="84.40" x2="509.69" y2="85.70" stroke="#111" stroke-width="0.6"/>
<line x1="511.22" y1="84.40" x2="511.22" y2="85.70" stroke="#111" stroke-width="0.6"/>
<text x="466.00" y="15.70" font-size="7.0" text-anchor="middle" textLength="66.00" lengthAdjust="spacingAndGlyphs" stroke-width="0.14">Patient C (FLT3-ITD)</text>
<text x="465.90" y="106.40" font-size="7.2" text-anchor="middle" textLength="57.50" lengthAdjust="spacingAndGlyphs" stroke-width="0.14">Concentration (nM)</text>
<text x="397.40" y="52.10" font-size="7.0" text-anchor="middle" textLength="47.20" lengthAdjust="spacingAndGlyphs" transform="rotate(-90 397.40 52.10)" stroke-width="0.14">Cell viability (%)</text>
<polyline points="427.20,56.30 440.58,61.90 453.96,67.60 467.34,76.20 480.72,80.60 494.10,80.60" fill="none" stroke="#24386a" stroke-width="1.8" stroke-linejoin="round"/>
<polyline points="427.20,49.80 440.58,55.50 453.96,59.80 467.34,73.60 480.72,78.80 494.10,80.60" fill="none" stroke="#8c1a3a" stroke-width="1.8" stroke-linejoin="round"/>
<polyline points="427.20,43.70 440.58,46.30 453.96,59.40 467.34,76.20 480.72,82.30 494.10,83.10" fill="none" stroke="#52a83a" stroke-width="1.25" stroke-linejoin="round" stroke-dasharray="1.3,0.9"/>
<line x1="427.20" y1="43.70" x2="427.20" y2="39.50" stroke="#1a1a1a" stroke-width="0.85"/>
<line x1="425.60" y1="39.50" x2="428.80" y2="39.50" stroke="#1a1a1a" stroke-width="0.85"/>
<path d="M427.20,58.66 L429.56,54.53 L424.84,54.53Z" fill="#24386a" stroke="#111" stroke-width="0.5"/>
<path d="M440.58,64.26 L442.94,60.13 L438.22,60.13Z" fill="#24386a" stroke="#111" stroke-width="0.5"/>
<path d="M453.96,69.96 L456.32,65.83 L451.60,65.83Z" fill="#24386a" stroke="#111" stroke-width="0.5"/>
<path d="M467.34,78.56 L469.70,74.43 L464.98,74.43Z" fill="#24386a" stroke="#111" stroke-width="0.5"/>
<path d="M480.72,82.96 L483.08,78.83 L478.36,78.83Z" fill="#24386a" stroke="#111" stroke-width="0.5"/>
<path d="M494.10,82.96 L496.46,78.83 L491.74,78.83Z" fill="#24386a" stroke="#111" stroke-width="0.5"/>
<path d="M427.20,47.44 L429.56,51.57 L424.84,51.57Z" fill="#8c1a3a" stroke="#111" stroke-width="0.5"/>
<path d="M440.58,53.14 L442.94,57.27 L438.22,57.27Z" fill="#8c1a3a" stroke="#111" stroke-width="0.5"/>
<path d="M453.96,57.44 L456.32,61.57 L451.60,61.57Z" fill="#8c1a3a" stroke="#111" stroke-width="0.5"/>
<path d="M467.34,71.24 L469.70,75.37 L464.98,75.37Z" fill="#8c1a3a" stroke="#111" stroke-width="0.5"/>
<path d="M480.72,76.44 L483.08,80.57 L478.36,80.57Z" fill="#8c1a3a" stroke="#111" stroke-width="0.5"/>
<path d="M494.10,78.24 L496.46,82.37 L491.74,82.37Z" fill="#8c1a3a" stroke="#111" stroke-width="0.5"/>
<circle cx="427.20" cy="43.70" r="1.85" fill="#7d8a6a" stroke="#0f1a0a" stroke-width="1.15"/>
<circle cx="440.58" cy="46.30" r="1.85" fill="#7d8a6a" stroke="#0f1a0a" stroke-width="1.15"/>
<circle cx="453.96" cy="59.40" r="1.85" fill="#7d8a6a" stroke="#0f1a0a" stroke-width="1.15"/>
<circle cx="467.34" cy="76.20" r="1.85" fill="#7d8a6a" stroke="#0f1a0a" stroke-width="1.15"/>
<circle cx="480.72" cy="82.30" r="1.85" fill="#7d8a6a" stroke="#0f1a0a" stroke-width="1.15"/>
<circle cx="494.10" cy="83.10" r="1.85" fill="#7d8a6a" stroke="#0f1a0a" stroke-width="1.15"/>
<line x1="38.20" y1="179.40" x2="127.90" y2="179.40" stroke="#c6c3c4" stroke-width="0.8" stroke-dasharray="1.6,1.2"/>
<line x1="37.20" y1="137.30" x2="37.20" y2="201.80" stroke="#111" stroke-width="1.25"/>
<line x1="34.20" y1="199.40" x2="37.20" y2="199.40" stroke="#111" stroke-width="0.8"/>
<line x1="35.60" y1="195.40" x2="37.20" y2="195.40" stroke="#111" stroke-width="0.6"/>
<line x1="35.60" y1="191.40" x2="37.20" y2="191.40" stroke="#111" stroke-width="0.6"/>
<line x1="35.60" y1="187.40" x2="37.20" y2="187.40" stroke="#111" stroke-width="0.6"/>
<line x1="35.60" y1="183.40" x2="37.20" y2="183.40" stroke="#111" stroke-width="0.6"/>
<line x1="34.20" y1="179.40" x2="37.20" y2="179.40" stroke="#111" stroke-width="0.8"/>
<line x1="35.60" y1="175.40" x2="37.20" y2="175.40" stroke="#111" stroke-width="0.6"/>
<line x1="35.60" y1="171.40" x2="37.20" y2="171.40" stroke="#111" stroke-width="0.6"/>
<line x1="35.60" y1="167.40" x2="37.20" y2="167.40" stroke="#111" stroke-width="0.6"/>
<line x1="35.60" y1="163.40" x2="37.20" y2="163.40" stroke="#111" stroke-width="0.6"/>
<line x1="34.20" y1="159.40" x2="37.20" y2="159.40" stroke="#111" stroke-width="0.8"/>
<line x1="35.60" y1="155.40" x2="37.20" y2="155.40" stroke="#111" stroke-width="0.6"/>
<line x1="35.60" y1="151.40" x2="37.20" y2="151.40" stroke="#111" stroke-width="0.6"/>
<line x1="35.60" y1="147.40" x2="37.20" y2="147.40" stroke="#111" stroke-width="0.6"/>
<line x1="35.60" y1="143.40" x2="37.20" y2="143.40" stroke="#111" stroke-width="0.6"/>
<line x1="34.20" y1="139.40" x2="37.20" y2="139.40" stroke="#111" stroke-width="0.8"/>
<text x="32.00" y="201.50" font-size="5.9" text-anchor="end" stroke-width="0.22">0</text>
<text x="32.00" y="181.50" font-size="5.9" text-anchor="end" stroke-width="0.22">50</text>
<text x="32.00" y="161.50" font-size="5.9" text-anchor="end" stroke-width="0.22">100</text>
<text x="32.00" y="141.50" font-size="5.9" text-anchor="end" stroke-width="0.22">150</text>
<line x1="36.70" y1="199.40" x2="127.90" y2="199.40" stroke="#111" stroke-width="1.25"/>
<line x1="37.40" y1="199.40" x2="37.40" y2="201.80" stroke="#111" stroke-width="0.8"/>
<text x="37.40" y="210.00" font-size="5.9" text-anchor="middle" stroke-width="0.22">0.1</text>
<line x1="43.00" y1="199.40" x2="43.00" y2="200.70" stroke="#111" stroke-width="0.6"/>
<line x1="46.27" y1="199.40" x2="46.27" y2="200.70" stroke="#111" stroke-width="0.6"/>
<line x1="48.60" y1="199.40" x2="48.60" y2="200.70" stroke="#111" stroke-width="0.6"/>
<line x1="50.40" y1="199.40" x2="50.40" y2="200.70" stroke="#111" stroke-width="0.6"/>
<line x1="51.87" y1="199.40" x2="51.87" y2="200.70" stroke="#111" stroke-width="0.6"/>
<line x1="53.12" y1="199.40" x2="53.12" y2="200.70" stroke="#111" stroke-width="0.6"/>
<line x1="54.20" y1="199.40" x2="54.20" y2="200.70" stroke="#111" stroke-width="0.6"/>
<line x1="55.15" y1="199.40" x2="55.15" y2="200.70" stroke="#111" stroke-width="0.6"/>
<line x1="56.00" y1="199.40" x2="56.00" y2="201.80" stroke="#111" stroke-width="0.8"/>
<text x="56.00" y="210.00" font-size="5.9" text-anchor="middle" stroke-width="0.22">1</text>
<line x1="61.60" y1="199.40" x2="61.60" y2="200.70" stroke="#111" stroke-width="0.6"/>
<line x1="64.87" y1="199.40" x2="64.87" y2="200.70" stroke="#111" stroke-width="0.6"/>
<line x1="67.20" y1="199.40" x2="67.20" y2="200.70" stroke="#111" stroke-width="0.6"/>
<line x1="69.00" y1="199.40" x2="69.00" y2="200.70" stroke="#111" stroke-width="0.6"/>
<line x1="70.47" y1="199.40" x2="70.47" y2="200.70" stroke="#111" stroke-width="0.6"/>
<line x1="71.72" y1="199.40" x2="71.72" y2="200.70" stroke="#111" stroke-width="0.6"/>
<line x1="72.80" y1="199.40" x2="72.80" y2="200.70" stroke="#111" stroke-width="0.6"/>
<line x1="73.75" y1="199.40" x2="73.75" y2="200.70" stroke="#111" stroke-width="0.6"/>
<line x1="74.60" y1="199.40" x2="74.60" y2="201.80" stroke="#111" stroke-width="0.8"/>
<text x="74.60" y="210.00" font-size="5.9" text-anchor="middle" stroke-width="0.22">10</text>
<line x1="80.20" y1="199.40" x2="80.20" y2="200.70" stroke="#111" stroke-width="0.6"/>
<line x1="83.47" y1="199.40" x2="83.47" y2="200.70" stroke="#111" stroke-width="0.6"/>
<line x1="85.80" y1="199.40" x2="85.80" y2="200.70" stroke="#111" stroke-width="0.6"/>
<line x1="87.60" y1="199.40" x2="87.60" y2="200.70" stroke="#111" stroke-width="0.6"/>
<line x1="89.07" y1="199.40" x2="89.07" y2="200.70" stroke="#111" stroke-width="0.6"/>
<line x1="90.32" y1="199.40" x2="90.32" y2="200.70" stroke="#111" stroke-width="0.6"/>
<line x1="91.40" y1="199.40" x2="91.40" y2="200.70" stroke="#111" stroke-width="0.6"/>
<line x1="92.35" y1="199.40" x2="92.35" y2="200.70" stroke="#111" stroke-width="0.6"/>
<line x1="93.20" y1="199.40" x2="93.20" y2="201.80" stroke="#111" stroke-width="0.8"/>
<text x="93.20" y="210.00" font-size="5.9" text-anchor="middle" stroke-width="0.22">100</text>
<line x1="98.80" y1="199.40" x2="98.80" y2="200.70" stroke="#111" stroke-width="0.6"/>
<line x1="102.07" y1="199.40" x2="102.07" y2="200.70" stroke="#111" stroke-width="0.6"/>
<line x1="104.40" y1="199.40" x2="104.40" y2="200.70" stroke="#111" stroke-width="0.6"/>
<line x1="106.20" y1="199.40" x2="106.20" y2="200.70" stroke="#111" stroke-width="0.6"/>
<line x1="107.67" y1="199.40" x2="107.67" y2="200.70" stroke="#111" stroke-width="0.6"/>
<line x1="108.92" y1="199.40" x2="108.92" y2="200.70" stroke="#111" stroke-width="0.6"/>
<line x1="110.00" y1="199.40" x2="110.00" y2="200.70" stroke="#111" stroke-width="0.6"/>
<line x1="110.95" y1="199.40" x2="110.95" y2="200.70" stroke="#111" stroke-width="0.6"/>
<line x1="111.80" y1="199.40" x2="111.80" y2="201.80" stroke="#111" stroke-width="0.8"/>
<text x="111.80" y="210.00" font-size="5.9" text-anchor="middle" stroke-width="0.22">1000</text>
<line x1="117.40" y1="199.40" x2="117.40" y2="200.70" stroke="#111" stroke-width="0.6"/>
<line x1="120.67" y1="199.40" x2="120.67" y2="200.70" stroke="#111" stroke-width="0.6"/>
<line x1="123.00" y1="199.40" x2="123.00" y2="200.70" stroke="#111" stroke-width="0.6"/>
<line x1="124.80" y1="199.40" x2="124.80" y2="200.70" stroke="#111" stroke-width="0.6"/>
<line x1="126.27" y1="199.40" x2="126.27" y2="200.70" stroke="#111" stroke-width="0.6"/>
<line x1="127.52" y1="199.40" x2="127.52" y2="200.70" stroke="#111" stroke-width="0.6"/>
<text x="84.15" y="130.50" font-size="7.0" text-anchor="middle" textLength="65.70" lengthAdjust="spacingAndGlyphs" stroke-width="0.14">Patient D (FLT3-ITD)</text>
<text x="83.70" y="221.40" font-size="7.2" text-anchor="middle" textLength="57.50" lengthAdjust="spacingAndGlyphs" stroke-width="0.14">Concentration (nM)</text>
<text x="15.20" y="167.10" font-size="7.0" text-anchor="middle" textLength="47.20" lengthAdjust="spacingAndGlyphs" transform="rotate(-90 15.20 167.10)" stroke-width="0.14">Cell viability (%)</text>
<polyline points="44.70,165.30 58.26,175.10 71.82,183.40 85.38,189.00 98.94,191.20 112.50,192.10" fill="none" stroke="#24386a" stroke-width="1.8" stroke-linejoin="round"/>
<polyline points="44.70,159.20 58.26,161.30 71.82,167.00 85.38,170.50 98.94,181.40 112.50,186.00" fill="none" stroke="#8c1a3a" stroke-width="1.8" stroke-linejoin="round"/>
<polyline points="44.70,158.90 58.26,161.00 71.82,164.80 85.38,177.40 98.94,190.00 112.50,194.70" fill="none" stroke="#52a83a" stroke-width="1.25" stroke-linejoin="round" stroke-dasharray="1.3,0.9"/>
<path d="M44.70,167.66 L47.06,163.53 L42.34,163.53Z" fill="#24386a" stroke="#111" stroke-width="0.5"/>
<path d="M58.26,177.46 L60.62,173.33 L55.90,173.33Z" fill="#24386a" stroke="#111" stroke-width="0.5"/>
<path d="M71.82,185.76 L74.18,181.63 L69.46,181.63Z" fill="#24386a" stroke="#111" stroke-width="0.5"/>
<path d="M85.38,191.36 L87.74,187.23 L83.02,187.23Z" fill="#24386a" stroke="#111" stroke-width="0.5"/>
<path d="M98.94,193.56 L101.30,189.43 L96.58,189.43Z" fill="#24386a" stroke="#111" stroke-width="0.5"/>
<path d="M112.50,194.46 L114.86,190.33 L110.14,190.33Z" fill="#24386a" stroke="#111" stroke-width="0.5"/>
<path d="M44.70,156.84 L47.06,160.97 L42.34,160.97Z" fill="#8c1a3a" stroke="#111" stroke-width="0.5"/>
<path d="M58.26,158.94 L60.62,163.07 L55.90,163.07Z" fill="#8c1a3a" stroke="#111" stroke-width="0.5"/>
<path d="M71.82,164.64 L74.18,168.77 L69.46,168.77Z" fill="#8c1a3a" stroke="#111" stroke-width="0.5"/>
<path d="M85.38,168.14 L87.74,172.27 L83.02,172.27Z" fill="#8c1a3a" stroke="#111" stroke-width="0.5"/>
<path d="M98.94,179.04 L101.30,183.17 L96.58,183.17Z" fill="#8c1a3a" stroke="#111" stroke-width="0.5"/>
<path d="M112.50,183.64 L114.86,187.77 L110.14,187.77Z" fill="#8c1a3a" stroke="#111" stroke-width="0.5"/>
<circle cx="44.70" cy="158.90" r="1.85" fill="#7d8a6a" stroke="#0f1a0a" stroke-width="1.15"/>
<circle cx="58.26" cy="161.00" r="1.85" fill="#7d8a6a" stroke="#0f1a0a" stroke-width="1.15"/>
<circle cx="71.82" cy="164.80" r="1.85" fill="#7d8a6a" stroke="#0f1a0a" stroke-width="1.15"/>
<circle cx="85.38" cy="177.40" r="1.85" fill="#7d8a6a" stroke="#0f1a0a" stroke-width="1.15"/>
<circle cx="98.94" cy="190.00" r="1.85" fill="#7d8a6a" stroke="#0f1a0a" stroke-width="1.15"/>
<circle cx="112.50" cy="194.70" r="1.85" fill="#7d8a6a" stroke="#0f1a0a" stroke-width="1.15"/>
<line x1="165.60" y1="179.40" x2="256.80" y2="179.40" stroke="#c6c3c4" stroke-width="0.8" stroke-dasharray="1.6,1.2"/>
<line x1="164.60" y1="137.30" x2="164.60" y2="201.80" stroke="#111" stroke-width="1.25"/>
<line x1="161.60" y1="199.40" x2="164.60" y2="199.40" stroke="#111" stroke-width="0.8"/>
<line x1="163.00" y1="195.40" x2="164.60" y2="195.40" stroke="#111" stroke-width="0.6"/>
<line x1="163.00" y1="191.40" x2="164.60" y2="191.40" stroke="#111" stroke-width="0.6"/>
<line x1="163.00" y1="187.40" x2="164.60" y2="187.40" stroke="#111" stroke-width="0.6"/>
<line x1="163.00" y1="183.40" x2="164.60" y2="183.40" stroke="#111" stroke-width="0.6"/>
<line x1="161.60" y1="179.40" x2="164.60" y2="179.40" stroke="#111" stroke-width="0.8"/>
<line x1="163.00" y1="175.40" x2="164.60" y2="175.40" stroke="#111" stroke-width="0.6"/>
<line x1="163.00" y1="171.40" x2="164.60" y2="171.40" stroke="#111" stroke-width="0.6"/>
<line x1="163.00" y1="167.40" x2="164.60" y2="167.40" stroke="#111" stroke-width="0.6"/>
<line x1="163.00" y1="163.40" x2="164.60" y2="163.40" stroke="#111" stroke-width="0.6"/>
<line x1="161.60" y1="159.40" x2="164.60" y2="159.40" stroke="#111" stroke-width="0.8"/>
<line x1="163.00" y1="155.40" x2="164.60" y2="155.40" stroke="#111" stroke-width="0.6"/>
<line x1="163.00" y1="151.40" x2="164.60" y2="151.40" stroke="#111" stroke-width="0.6"/>
<line x1="163.00" y1="147.40" x2="164.60" y2="147.40" stroke="#111" stroke-width="0.6"/>
<line x1="163.00" y1="143.40" x2="164.60" y2="143.40" stroke="#111" stroke-width="0.6"/>
<line x1="161.60" y1="139.40" x2="164.60" y2="139.40" stroke="#111" stroke-width="0.8"/>
<text x="159.40" y="201.50" font-size="5.9" text-anchor="end" stroke-width="0.22">0</text>
<text x="159.40" y="181.50" font-size="5.9" text-anchor="end" stroke-width="0.22">50</text>
<text x="159.40" y="161.50" font-size="5.9" text-anchor="end" stroke-width="0.22">100</text>
<text x="159.40" y="141.50" font-size="5.9" text-anchor="end" stroke-width="0.22">150</text>
<line x1="164.10" y1="199.40" x2="256.80" y2="199.40" stroke="#111" stroke-width="1.25"/>
<line x1="164.40" y1="199.40" x2="164.40" y2="201.80" stroke="#111" stroke-width="0.8"/>
<text x="164.40" y="210.00" font-size="5.9" text-anchor="middle" stroke-width="0.22">0.1</text>
<line x1="170.19" y1="199.40" x2="170.19" y2="200.70" stroke="#111" stroke-width="0.6"/>
<line x1="173.58" y1="199.40" x2="173.58" y2="200.70" stroke="#111" stroke-width="0.6"/>
<line x1="175.99" y1="199.40" x2="175.99" y2="200.70" stroke="#111" stroke-width="0.6"/>
<line x1="177.86" y1="199.40" x2="177.86" y2="200.70" stroke="#111" stroke-width="0.6"/>
<line x1="179.38" y1="199.40" x2="179.38" y2="200.70" stroke="#111" stroke-width="0.6"/>
<line x1="180.67" y1="199.40" x2="180.67" y2="200.70" stroke="#111" stroke-width="0.6"/>
<line x1="181.78" y1="199.40" x2="181.78" y2="200.70" stroke="#111" stroke-width="0.6"/>
<line x1="182.77" y1="199.40" x2="182.77" y2="200.70" stroke="#111" stroke-width="0.6"/>
<line x1="183.65" y1="199.40" x2="183.65" y2="201.80" stroke="#111" stroke-width="0.8"/>
<text x="183.65" y="210.00" font-size="5.9" text-anchor="middle" stroke-width="0.22">1</text>
<line x1="189.44" y1="199.40" x2="189.44" y2="200.70" stroke="#111" stroke-width="0.6"/>
<line x1="192.83" y1="199.40" x2="192.83" y2="200.70" stroke="#111" stroke-width="0.6"/>
<line x1="195.24" y1="199.40" x2="195.24" y2="200.70" stroke="#111" stroke-width="0.6"/>
<line x1="197.11" y1="199.40" x2="197.11" y2="200.70" stroke="#111" stroke-width="0.6"/>
<line x1="198.63" y1="199.40" x2="198.63" y2="200.70" stroke="#111" stroke-width="0.6"/>
<line x1="199.92" y1="199.40" x2="199.92" y2="200.70" stroke="#111" stroke-width="0.6"/>
<line x1="201.03" y1="199.40" x2="201.03" y2="200.70" stroke="#111" stroke-width="0.6"/>
<line x1="202.02" y1="199.40" x2="202.02" y2="200.70" stroke="#111" stroke-width="0.6"/>
<line x1="202.90" y1="199.40" x2="202.90" y2="201.80" stroke="#111" stroke-width="0.8"/>
<text x="202.90" y="210.00" font-size="5.9" text-anchor="middle" stroke-width="0.22">10</text>
<line x1="208.69" y1="199.40" x2="208.69" y2="200.70" stroke="#111" stroke-width="0.6"/>
<line x1="212.08" y1="199.40" x2="212.08" y2="200.70" stroke="#111" stroke-width="0.6"/>
<line x1="214.49" y1="199.40" x2="214.49" y2="200.70" stroke="#111" stroke-width="0.6"/>
<line x1="216.36" y1="199.40" x2="216.36" y2="200.70" stroke="#111" stroke-width="0.6"/>
<line x1="217.88" y1="199.40" x2="217.88" y2="200.70" stroke="#111" stroke-width="0.6"/>
<line x1="219.17" y1="199.40" x2="219.17" y2="200.70" stroke="#111" stroke-width="0.6"/>
<line x1="220.28" y1="199.40" x2="220.28" y2="200.70" stroke="#111" stroke-width="0.6"/>
<line x1="221.27" y1="199.40" x2="221.27" y2="200.70" stroke="#111" stroke-width="0.6"/>
<line x1="222.15" y1="199.40" x2="222.15" y2="201.80" stroke="#111" stroke-width="0.8"/>
<text x="222.15" y="210.00" font-size="5.9" text-anchor="middle" stroke-width="0.22">100</text>
<line x1="227.94" y1="199.40" x2="227.94" y2="200.70" stroke="#111" stroke-width="0.6"/>
<line x1="231.33" y1="199.40" x2="231.33" y2="200.70" stroke="#111" stroke-width="0.6"/>
<line x1="233.74" y1="199.40" x2="233.74" y2="200.70" stroke="#111" stroke-width="0.6"/>
<line x1="235.61" y1="199.40" x2="235.61" y2="200.70" stroke="#111" stroke-width="0.6"/>
<line x1="237.13" y1="199.40" x2="237.13" y2="200.70" stroke="#111" stroke-width="0.6"/>
<line x1="238.42" y1="199.40" x2="238.42" y2="200.70" stroke="#111" stroke-width="0.6"/>
<line x1="239.53" y1="199.40" x2="239.53" y2="200.70" stroke="#111" stroke-width="0.6"/>
<line x1="240.52" y1="199.40" x2="240.52" y2="200.70" stroke="#111" stroke-width="0.6"/>
<line x1="241.40" y1="199.40" x2="241.40" y2="201.80" stroke="#111" stroke-width="0.8"/>
<text x="241.40" y="210.00" font-size="5.9" text-anchor="middle" stroke-width="0.22">1000</text>
<line x1="247.19" y1="199.40" x2="247.19" y2="200.70" stroke="#111" stroke-width="0.6"/>
<line x1="250.58" y1="199.40" x2="250.58" y2="200.70" stroke="#111" stroke-width="0.6"/>
<line x1="252.99" y1="199.40" x2="252.99" y2="200.70" stroke="#111" stroke-width="0.6"/>
<line x1="254.86" y1="199.40" x2="254.86" y2="200.70" stroke="#111" stroke-width="0.6"/>
<line x1="256.38" y1="199.40" x2="256.38" y2="200.70" stroke="#111" stroke-width="0.6"/>
<text x="211.25" y="130.50" font-size="7.0" text-anchor="middle" textLength="76.50" lengthAdjust="spacingAndGlyphs" stroke-width="0.14">Patient E (FLT3 D835H)</text>
<text x="211.10" y="221.40" font-size="7.2" text-anchor="middle" textLength="57.50" lengthAdjust="spacingAndGlyphs" stroke-width="0.14">Concentration (nM)</text>
<text x="142.60" y="167.10" font-size="7.0" text-anchor="middle" textLength="47.20" lengthAdjust="spacingAndGlyphs" transform="rotate(-90 142.60 167.10)" stroke-width="0.14">Cell viability (%)</text>
<polyline points="174.20,159.20 187.74,172.70 201.28,181.70 214.82,187.20 228.36,190.70 241.90,193.80" fill="none" stroke="#24386a" stroke-width="1.8" stroke-linejoin="round"/>
<polyline points="174.20,158.40 187.74,156.10 201.28,157.10 214.82,157.50 228.36,159.20 241.90,174.80" fill="none" stroke="#8c1a3a" stroke-width="1.8" stroke-linejoin="round"/>
<polyline points="174.20,154.40 187.74,156.60 201.28,155.40 214.82,156.60 228.36,161.80 241.90,177.40" fill="none" stroke="#52a83a" stroke-width="1.25" stroke-linejoin="round" stroke-dasharray="1.3,0.9"/>
<line x1="201.28" y1="155.40" x2="201.28" y2="150.90" stroke="#1a1a1a" stroke-width="0.85"/>
<line x1="199.68" y1="150.90" x2="202.88" y2="150.90" stroke="#1a1a1a" stroke-width="0.85"/>
<line x1="214.82" y1="156.60" x2="214.82" y2="153.50" stroke="#1a1a1a" stroke-width="0.85"/>
<line x1="213.22" y1="153.50" x2="216.42" y2="153.50" stroke="#1a1a1a" stroke-width="0.85"/>
<path d="M174.20,161.56 L176.56,157.43 L171.84,157.43Z" fill="#24386a" stroke="#111" stroke-width="0.5"/>
<path d="M187.74,175.06 L190.10,170.93 L185.38,170.93Z" fill="#24386a" stroke="#111" stroke-width="0.5"/>
<path d="M201.28,184.06 L203.64,179.93 L198.92,179.93Z" fill="#24386a" stroke="#111" stroke-width="0.5"/>
<path d="M214.82,189.56 L217.18,185.43 L212.46,185.43Z" fill="#24386a" stroke="#111" stroke-width="0.5"/>
<path d="M228.36,193.06 L230.72,188.93 L226.00,188.93Z" fill="#24386a" stroke="#111" stroke-width="0.5"/>
<path d="M241.90,196.16 L244.26,192.03 L239.54,192.03Z" fill="#24386a" stroke="#111" stroke-width="0.5"/>
<path d="M174.20,156.04 L176.56,160.17 L171.84,160.17Z" fill="#8c1a3a" stroke="#111" stroke-width="0.5"/>
<path d="M187.74,153.74 L190.10,157.87 L185.38,157.87Z" fill="#8c1a3a" stroke="#111" stroke-width="0.5"/>
<path d="M201.28,154.74 L203.64,158.87 L198.92,158.87Z" fill="#8c1a3a" stroke="#111" stroke-width="0.5"/>
<path d="M214.82,155.14 L217.18,159.27 L212.46,159.27Z" fill="#8c1a3a" stroke="#111" stroke-width="0.5"/>
<path d="M228.36,156.84 L230.72,160.97 L226.00,160.97Z" fill="#8c1a3a" stroke="#111" stroke-width="0.5"/>
<path d="M241.90,172.44 L244.26,176.57 L239.54,176.57Z" fill="#8c1a3a" stroke="#111" stroke-width="0.5"/>
<circle cx="174.20" cy="154.40" r="1.85" fill="#7d8a6a" stroke="#0f1a0a" stroke-width="1.15"/>
<circle cx="187.74" cy="156.60" r="1.85" fill="#7d8a6a" stroke="#0f1a0a" stroke-width="1.15"/>
<circle cx="201.28" cy="155.40" r="1.85" fill="#7d8a6a" stroke="#0f1a0a" stroke-width="1.15"/>
<circle cx="214.82" cy="156.60" r="1.85" fill="#7d8a6a" stroke="#0f1a0a" stroke-width="1.15"/>
<circle cx="228.36" cy="161.80" r="1.85" fill="#7d8a6a" stroke="#0f1a0a" stroke-width="1.15"/>
<circle cx="241.90" cy="177.40" r="1.85" fill="#7d8a6a" stroke="#0f1a0a" stroke-width="1.15"/>
<line x1="292.40" y1="173.60" x2="384.00" y2="173.60" stroke="#c6c3c4" stroke-width="0.8" stroke-dasharray="1.6,1.2"/>
<line x1="291.40" y1="136.50" x2="291.40" y2="201.40" stroke="#111" stroke-width="1.25"/>
<line x1="288.40" y1="199.00" x2="291.40" y2="199.00" stroke="#111" stroke-width="0.8"/>
<line x1="289.80" y1="193.92" x2="291.40" y2="193.92" stroke="#111" stroke-width="0.6"/>
<line x1="289.80" y1="188.84" x2="291.40" y2="188.84" stroke="#111" stroke-width="0.6"/>
<line x1="289.80" y1="183.76" x2="291.40" y2="183.76" stroke="#111" stroke-width="0.6"/>
<line x1="289.80" y1="178.68" x2="291.40" y2="178.68" stroke="#111" stroke-width="0.6"/>
<line x1="288.40" y1="173.60" x2="291.40" y2="173.60" stroke="#111" stroke-width="0.8"/>
<line x1="289.80" y1="168.52" x2="291.40" y2="168.52" stroke="#111" stroke-width="0.6"/>
<line x1="289.80" y1="163.44" x2="291.40" y2="163.44" stroke="#111" stroke-width="0.6"/>
<line x1="289.80" y1="158.36" x2="291.40" y2="158.36" stroke="#111" stroke-width="0.6"/>
<line x1="289.80" y1="153.28" x2="291.40" y2="153.28" stroke="#111" stroke-width="0.6"/>
<line x1="288.40" y1="148.20" x2="291.40" y2="148.20" stroke="#111" stroke-width="0.8"/>
<line x1="289.80" y1="143.12" x2="291.40" y2="143.12" stroke="#111" stroke-width="0.6"/>
<line x1="289.80" y1="138.04" x2="291.40" y2="138.04" stroke="#111" stroke-width="0.6"/>
<text x="286.20" y="201.10" font-size="5.9" text-anchor="end" stroke-width="0.22">0</text>
<text x="286.20" y="175.70" font-size="5.9" text-anchor="end" stroke-width="0.22">50</text>
<text x="286.20" y="150.30" font-size="5.9" text-anchor="end" stroke-width="0.22">100</text>
<line x1="290.90" y1="199.00" x2="384.00" y2="199.00" stroke="#111" stroke-width="1.25"/>
<line x1="290.80" y1="199.00" x2="290.80" y2="201.40" stroke="#111" stroke-width="0.8"/>
<text x="290.80" y="209.60" font-size="5.9" text-anchor="middle" stroke-width="0.22">0.1</text>
<line x1="296.61" y1="199.00" x2="296.61" y2="200.30" stroke="#111" stroke-width="0.6"/>
<line x1="300.01" y1="199.00" x2="300.01" y2="200.30" stroke="#111" stroke-width="0.6"/>
<line x1="302.42" y1="199.00" x2="302.42" y2="200.30" stroke="#111" stroke-width="0.6"/>
<line x1="304.29" y1="199.00" x2="304.29" y2="200.30" stroke="#111" stroke-width="0.6"/>
<line x1="305.82" y1="199.00" x2="305.82" y2="200.30" stroke="#111" stroke-width="0.6"/>
<line x1="307.11" y1="199.00" x2="307.11" y2="200.30" stroke="#111" stroke-width="0.6"/>
<line x1="308.23" y1="199.00" x2="308.23" y2="200.30" stroke="#111" stroke-width="0.6"/>
<line x1="309.22" y1="199.00" x2="309.22" y2="200.30" stroke="#111" stroke-width="0.6"/>
<line x1="310.10" y1="199.00" x2="310.10" y2="201.40" stroke="#111" stroke-width="0.8"/>
<text x="310.10" y="209.60" font-size="5.9" text-anchor="middle" stroke-width="0.22">1</text>
<line x1="315.91" y1="199.00" x2="315.91" y2="200.30" stroke="#111" stroke-width="0.6"/>
<line x1="319.31" y1="199.00" x2="319.31" y2="200.30" stroke="#111" stroke-width="0.6"/>
<line x1="321.72" y1="199.00" x2="321.72" y2="200.30" stroke="#111" stroke-width="0.6"/>
<line x1="323.59" y1="199.00" x2="323.59" y2="200.30" stroke="#111" stroke-width="0.6"/>
<line x1="325.12" y1="199.00" x2="325.12" y2="200.30" stroke="#111" stroke-width="0.6"/>
<line x1="326.41" y1="199.00" x2="326.41" y2="200.30" stroke="#111" stroke-width="0.6"/>
<line x1="327.53" y1="199.00" x2="327.53" y2="200.30" stroke="#111" stroke-width="0.6"/>
<line x1="328.52" y1="199.00" x2="328.52" y2="200.30" stroke="#111" stroke-width="0.6"/>
<line x1="329.40" y1="199.00" x2="329.40" y2="201.40" stroke="#111" stroke-width="0.8"/>
<text x="329.40" y="209.60" font-size="5.9" text-anchor="middle" stroke-width="0.22">10</text>
<line x1="335.21" y1="199.00" x2="335.21" y2="200.30" stroke="#111" stroke-width="0.6"/>
<line x1="338.61" y1="199.00" x2="338.61" y2="200.30" stroke="#111" stroke-width="0.6"/>
<line x1="341.02" y1="199.00" x2="341.02" y2="200.30" stroke="#111" stroke-width="0.6"/>
<line x1="342.89" y1="199.00" x2="342.89" y2="200.30" stroke="#111" stroke-width="0.6"/>
<line x1="344.42" y1="199.00" x2="344.42" y2="200.30" stroke="#111" stroke-width="0.6"/>
<line x1="345.71" y1="199.00" x2="345.71" y2="200.30" stroke="#111" stroke-width="0.6"/>
<line x1="346.83" y1="199.00" x2="346.83" y2="200.30" stroke="#111" stroke-width="0.6"/>
<line x1="347.82" y1="199.00" x2="347.82" y2="200.30" stroke="#111" stroke-width="0.6"/>
<line x1="348.70" y1="199.00" x2="348.70" y2="201.40" stroke="#111" stroke-width="0.8"/>
<text x="348.70" y="209.60" font-size="5.9" text-anchor="middle" stroke-width="0.22">100</text>
<line x1="354.51" y1="199.00" x2="354.51" y2="200.30" stroke="#111" stroke-width="0.6"/>
<line x1="357.91" y1="199.00" x2="357.91" y2="200.30" stroke="#111" stroke-width="0.6"/>
<line x1="360.32" y1="199.00" x2="360.32" y2="200.30" stroke="#111" stroke-width="0.6"/>
<line x1="362.19" y1="199.00" x2="362.19" y2="200.30" stroke="#111" stroke-width="0.6"/>
<line x1="363.72" y1="199.00" x2="363.72" y2="200.30" stroke="#111" stroke-width="0.6"/>
<line x1="365.01" y1="199.00" x2="365.01" y2="200.30" stroke="#111" stroke-width="0.6"/>
<line x1="366.13" y1="199.00" x2="366.13" y2="200.30" stroke="#111" stroke-width="0.6"/>
<line x1="367.12" y1="199.00" x2="367.12" y2="200.30" stroke="#111" stroke-width="0.6"/>
<line x1="368.00" y1="199.00" x2="368.00" y2="201.40" stroke="#111" stroke-width="0.8"/>
<text x="368.00" y="209.60" font-size="5.9" text-anchor="middle" stroke-width="0.22">1000</text>
<line x1="373.81" y1="199.00" x2="373.81" y2="200.30" stroke="#111" stroke-width="0.6"/>
<line x1="377.21" y1="199.00" x2="377.21" y2="200.30" stroke="#111" stroke-width="0.6"/>
<line x1="379.62" y1="199.00" x2="379.62" y2="200.30" stroke="#111" stroke-width="0.6"/>
<line x1="381.49" y1="199.00" x2="381.49" y2="200.30" stroke="#111" stroke-width="0.6"/>
<line x1="383.02" y1="199.00" x2="383.02" y2="200.30" stroke="#111" stroke-width="0.6"/>
<text x="338.25" y="130.50" font-size="7.0" text-anchor="middle" textLength="64.50" lengthAdjust="spacingAndGlyphs" stroke-width="0.14">Patient F (FLT3 WT)</text>
<text x="337.90" y="221.00" font-size="7.2" text-anchor="middle" textLength="57.50" lengthAdjust="spacingAndGlyphs" stroke-width="0.14">Concentration (nM)</text>
<text x="269.40" y="166.70" font-size="7.0" text-anchor="middle" textLength="47.20" lengthAdjust="spacingAndGlyphs" transform="rotate(-90 269.40 166.70)" stroke-width="0.14">Cell viability (%)</text>
<polyline points="299.50,148.00 313.06,148.00 326.62,150.20 340.18,151.40 353.74,156.60 367.30,171.00" fill="none" stroke="#24386a" stroke-width="1.8" stroke-linejoin="round"/>
<polyline points="299.50,148.80 313.06,148.80 326.62,150.90 340.18,152.30 353.74,156.60 367.30,161.80" fill="none" stroke="#8c1a3a" stroke-width="1.8" stroke-linejoin="round"/>
<polyline points="299.50,148.00 313.06,150.90 326.62,164.80 340.18,174.80 353.74,188.30 367.30,193.30" fill="none" stroke="#52a83a" stroke-width="1.25" stroke-linejoin="round" stroke-dasharray="1.3,0.9"/>
<line x1="340.18" y1="151.40" x2="340.18" y2="147.80" stroke="#1a1a1a" stroke-width="0.85"/>
<line x1="338.58" y1="147.80" x2="341.78" y2="147.80" stroke="#1a1a1a" stroke-width="0.85"/>
<path d="M299.50,150.36 L301.86,146.23 L297.14,146.23Z" fill="#24386a" stroke="#111" stroke-width="0.5"/>
<path d="M313.06,150.36 L315.42,146.23 L310.70,146.23Z" fill="#24386a" stroke="#111" stroke-width="0.5"/>
<path d="M326.62,152.56 L328.98,148.43 L324.26,148.43Z" fill="#24386a" stroke="#111" stroke-width="0.5"/>
<path d="M340.18,153.76 L342.54,149.63 L337.82,149.63Z" fill="#24386a" stroke="#111" stroke-width="0.5"/>
<path d="M353.74,158.96 L356.10,154.83 L351.38,154.83Z" fill="#24386a" stroke="#111" stroke-width="0.5"/>
<path d="M367.30,173.36 L369.66,169.23 L364.94,169.23Z" fill="#24386a" stroke="#111" stroke-width="0.5"/>
<path d="M299.50,146.44 L301.86,150.57 L297.14,150.57Z" fill="#8c1a3a" stroke="#111" stroke-width="0.5"/>
<path d="M313.06,146.44 L315.42,150.57 L310.70,150.57Z" fill="#8c1a3a" stroke="#111" stroke-width="0.5"/>
<path d="M326.62,148.54 L328.98,152.67 L324.26,152.67Z" fill="#8c1a3a" stroke="#111" stroke-width="0.5"/>
<path d="M340.18,149.94 L342.54,154.07 L337.82,154.07Z" fill="#8c1a3a" stroke="#111" stroke-width="0.5"/>
<path d="M353.74,154.24 L356.10,158.37 L351.38,158.37Z" fill="#8c1a3a" stroke="#111" stroke-width="0.5"/>
<path d="M367.30,159.44 L369.66,163.57 L364.94,163.57Z" fill="#8c1a3a" stroke="#111" stroke-width="0.5"/>
<circle cx="299.50" cy="148.00" r="1.85" fill="#7d8a6a" stroke="#0f1a0a" stroke-width="1.15"/>
<circle cx="313.06" cy="150.90" r="1.85" fill="#7d8a6a" stroke="#0f1a0a" stroke-width="1.15"/>
<circle cx="326.62" cy="164.80" r="1.85" fill="#7d8a6a" stroke="#0f1a0a" stroke-width="1.15"/>
<circle cx="340.18" cy="174.80" r="1.85" fill="#7d8a6a" stroke="#0f1a0a" stroke-width="1.15"/>
<circle cx="353.74" cy="188.30" r="1.85" fill="#7d8a6a" stroke="#0f1a0a" stroke-width="1.15"/>
<circle cx="367.30" cy="193.30" r="1.85" fill="#7d8a6a" stroke="#0f1a0a" stroke-width="1.15"/>
<line x1="420.00" y1="173.60" x2="512.00" y2="173.60" stroke="#c6c3c4" stroke-width="0.8" stroke-dasharray="1.6,1.2"/>
<line x1="419.00" y1="136.50" x2="419.00" y2="201.40" stroke="#111" stroke-width="1.25"/>
<line x1="416.00" y1="199.00" x2="419.00" y2="199.00" stroke="#111" stroke-width="0.8"/>
<line x1="417.40" y1="193.92" x2="419.00" y2="193.92" stroke="#111" stroke-width="0.6"/>
<line x1="417.40" y1="188.84" x2="419.00" y2="188.84" stroke="#111" stroke-width="0.6"/>
<line x1="417.40" y1="183.76" x2="419.00" y2="183.76" stroke="#111" stroke-width="0.6"/>
<line x1="417.40" y1="178.68" x2="419.00" y2="178.68" stroke="#111" stroke-width="0.6"/>
<line x1="416.00" y1="173.60" x2="419.00" y2="173.60" stroke="#111" stroke-width="0.8"/>
<line x1="417.40" y1="168.52" x2="419.00" y2="168.52" stroke="#111" stroke-width="0.6"/>
<line x1="417.40" y1="163.44" x2="419.00" y2="163.44" stroke="#111" stroke-width="0.6"/>
<line x1="417.40" y1="158.36" x2="419.00" y2="158.36" stroke="#111" stroke-width="0.6"/>
<line x1="417.40" y1="153.28" x2="419.00" y2="153.28" stroke="#111" stroke-width="0.6"/>
<line x1="416.00" y1="148.20" x2="419.00" y2="148.20" stroke="#111" stroke-width="0.8"/>
<line x1="417.40" y1="143.12" x2="419.00" y2="143.12" stroke="#111" stroke-width="0.6"/>
<line x1="417.40" y1="138.04" x2="419.00" y2="138.04" stroke="#111" stroke-width="0.6"/>
<text x="413.80" y="201.10" font-size="5.9" text-anchor="end" stroke-width="0.22">0</text>
<text x="413.80" y="175.70" font-size="5.9" text-anchor="end" stroke-width="0.22">50</text>
<text x="413.80" y="150.30" font-size="5.9" text-anchor="end" stroke-width="0.22">100</text>
<line x1="418.50" y1="199.00" x2="512.00" y2="199.00" stroke="#111" stroke-width="1.25"/>
<line x1="419.00" y1="199.00" x2="419.00" y2="201.40" stroke="#111" stroke-width="0.8"/>
<text x="419.00" y="209.60" font-size="5.9" text-anchor="middle" stroke-width="0.22">0.1</text>
<line x1="424.81" y1="199.00" x2="424.81" y2="200.30" stroke="#111" stroke-width="0.6"/>
<line x1="428.21" y1="199.00" x2="428.21" y2="200.30" stroke="#111" stroke-width="0.6"/>
<line x1="430.62" y1="199.00" x2="430.62" y2="200.30" stroke="#111" stroke-width="0.6"/>
<line x1="432.49" y1="199.00" x2="432.49" y2="200.30" stroke="#111" stroke-width="0.6"/>
<line x1="434.02" y1="199.00" x2="434.02" y2="200.30" stroke="#111" stroke-width="0.6"/>
<line x1="435.31" y1="199.00" x2="435.31" y2="200.30" stroke="#111" stroke-width="0.6"/>
<line x1="436.43" y1="199.00" x2="436.43" y2="200.30" stroke="#111" stroke-width="0.6"/>
<line x1="437.42" y1="199.00" x2="437.42" y2="200.30" stroke="#111" stroke-width="0.6"/>
<line x1="438.30" y1="199.00" x2="438.30" y2="201.40" stroke="#111" stroke-width="0.8"/>
<text x="438.30" y="209.60" font-size="5.9" text-anchor="middle" stroke-width="0.22">1</text>
<line x1="444.11" y1="199.00" x2="444.11" y2="200.30" stroke="#111" stroke-width="0.6"/>
<line x1="447.51" y1="199.00" x2="447.51" y2="200.30" stroke="#111" stroke-width="0.6"/>
<line x1="449.92" y1="199.00" x2="449.92" y2="200.30" stroke="#111" stroke-width="0.6"/>
<line x1="451.79" y1="199.00" x2="451.79" y2="200.30" stroke="#111" stroke-width="0.6"/>
<line x1="453.32" y1="199.00" x2="453.32" y2="200.30" stroke="#111" stroke-width="0.6"/>
<line x1="454.61" y1="199.00" x2="454.61" y2="200.30" stroke="#111" stroke-width="0.6"/>
<line x1="455.73" y1="199.00" x2="455.73" y2="200.30" stroke="#111" stroke-width="0.6"/>
<line x1="456.72" y1="199.00" x2="456.72" y2="200.30" stroke="#111" stroke-width="0.6"/>
<line x1="457.60" y1="199.00" x2="457.60" y2="201.40" stroke="#111" stroke-width="0.8"/>
<text x="457.60" y="209.60" font-size="5.9" text-anchor="middle" stroke-width="0.22">10</text>
<line x1="463.41" y1="199.00" x2="463.41" y2="200.30" stroke="#111" stroke-width="0.6"/>
<line x1="466.81" y1="199.00" x2="466.81" y2="200.30" stroke="#111" stroke-width="0.6"/>
<line x1="469.22" y1="199.00" x2="469.22" y2="200.30" stroke="#111" stroke-width="0.6"/>
<line x1="471.09" y1="199.00" x2="471.09" y2="200.30" stroke="#111" stroke-width="0.6"/>
<line x1="472.62" y1="199.00" x2="472.62" y2="200.30" stroke="#111" stroke-width="0.6"/>
<line x1="473.91" y1="199.00" x2="473.91" y2="200.30" stroke="#111" stroke-width="0.6"/>
<line x1="475.03" y1="199.00" x2="475.03" y2="200.30" stroke="#111" stroke-width="0.6"/>
<line x1="476.02" y1="199.00" x2="476.02" y2="200.30" stroke="#111" stroke-width="0.6"/>
<line x1="476.90" y1="199.00" x2="476.90" y2="201.40" stroke="#111" stroke-width="0.8"/>
<text x="476.90" y="209.60" font-size="5.9" text-anchor="middle" stroke-width="0.22">100</text>
<line x1="482.71" y1="199.00" x2="482.71" y2="200.30" stroke="#111" stroke-width="0.6"/>
<line x1="486.11" y1="199.00" x2="486.11" y2="200.30" stroke="#111" stroke-width="0.6"/>
<line x1="488.52" y1="199.00" x2="488.52" y2="200.30" stroke="#111" stroke-width="0.6"/>
<line x1="490.39" y1="199.00" x2="490.39" y2="200.30" stroke="#111" stroke-width="0.6"/>
<line x1="491.92" y1="199.00" x2="491.92" y2="200.30" stroke="#111" stroke-width="0.6"/>
<line x1="493.21" y1="199.00" x2="493.21" y2="200.30" stroke="#111" stroke-width="0.6"/>
<line x1="494.33" y1="199.00" x2="494.33" y2="200.30" stroke="#111" stroke-width="0.6"/>
<line x1="495.32" y1="199.00" x2="495.32" y2="200.30" stroke="#111" stroke-width="0.6"/>
<line x1="496.20" y1="199.00" x2="496.20" y2="201.40" stroke="#111" stroke-width="0.8"/>
<text x="496.20" y="209.60" font-size="5.9" text-anchor="middle" stroke-width="0.22">1000</text>
<line x1="502.01" y1="199.00" x2="502.01" y2="200.30" stroke="#111" stroke-width="0.6"/>
<line x1="505.41" y1="199.00" x2="505.41" y2="200.30" stroke="#111" stroke-width="0.6"/>
<line x1="507.82" y1="199.00" x2="507.82" y2="200.30" stroke="#111" stroke-width="0.6"/>
<line x1="509.69" y1="199.00" x2="509.69" y2="200.30" stroke="#111" stroke-width="0.6"/>
<line x1="511.22" y1="199.00" x2="511.22" y2="200.30" stroke="#111" stroke-width="0.6"/>
<text x="466.25" y="130.50" font-size="7.0" text-anchor="middle" textLength="66.50" lengthAdjust="spacingAndGlyphs" stroke-width="0.14">Patient G (FLT3 WT)</text>
<text x="465.50" y="221.00" font-size="7.2" text-anchor="middle" textLength="57.50" lengthAdjust="spacingAndGlyphs" stroke-width="0.14">Concentration (nM)</text>
<text x="397.00" y="166.70" font-size="7.0" text-anchor="middle" textLength="47.20" lengthAdjust="spacingAndGlyphs" transform="rotate(-90 397.00 166.70)" stroke-width="0.14">Cell viability (%)</text>
<polyline points="427.00,148.00 440.52,142.30 454.04,142.80 467.56,145.70 481.08,148.80 494.60,151.80" fill="none" stroke="#24386a" stroke-width="1.8" stroke-linejoin="round"/>
<polyline points="427.00,148.50 440.52,142.80 454.04,143.70 467.56,146.80 481.08,151.40 494.60,161.80" fill="none" stroke="#8c1a3a" stroke-width="1.8" stroke-linejoin="round"/>
<polyline points="427.00,145.40 440.52,145.00 454.04,146.80 467.56,150.20 481.08,170.00 494.60,186.60" fill="none" stroke="#52a83a" stroke-width="1.25" stroke-linejoin="round" stroke-dasharray="1.3,0.9"/>
<line x1="467.56" y1="145.70" x2="467.56" y2="142.50" stroke="#1a1a1a" stroke-width="0.85"/>
<line x1="465.96" y1="142.50" x2="469.16" y2="142.50" stroke="#1a1a1a" stroke-width="0.85"/>
<path d="M427.00,150.36 L429.36,146.23 L424.64,146.23Z" fill="#24386a" stroke="#111" stroke-width="0.5"/>
<path d="M440.52,144.66 L442.88,140.53 L438.16,140.53Z" fill="#24386a" stroke="#111" stroke-width="0.5"/>
<path d="M454.04,145.16 L456.40,141.03 L451.68,141.03Z" fill="#24386a" stroke="#111" stroke-width="0.5"/>
<path d="M467.56,148.06 L469.92,143.93 L465.20,143.93Z" fill="#24386a" stroke="#111" stroke-width="0.5"/>
<path d="M481.08,151.16 L483.44,147.03 L478.72,147.03Z" fill="#24386a" stroke="#111" stroke-width="0.5"/>
<path d="M494.60,154.16 L496.96,150.03 L492.24,150.03Z" fill="#24386a" stroke="#111" stroke-width="0.5"/>
<path d="M427.00,146.14 L429.36,150.27 L424.64,150.27Z" fill="#8c1a3a" stroke="#111" stroke-width="0.5"/>
<path d="M440.52,140.44 L442.88,144.57 L438.16,144.57Z" fill="#8c1a3a" stroke="#111" stroke-width="0.5"/>
<path d="M454.04,141.34 L456.40,145.47 L451.68,145.47Z" fill="#8c1a3a" stroke="#111" stroke-width="0.5"/>
<path d="M467.56,144.44 L469.92,148.57 L465.20,148.57Z" fill="#8c1a3a" stroke="#111" stroke-width="0.5"/>
<path d="M481.08,149.04 L483.44,153.17 L478.72,153.17Z" fill="#8c1a3a" stroke="#111" stroke-width="0.5"/>
<path d="M494.60,159.44 L496.96,163.57 L492.24,163.57Z" fill="#8c1a3a" stroke="#111" stroke-width="0.5"/>
<circle cx="427.00" cy="145.40" r="1.85" fill="#7d8a6a" stroke="#0f1a0a" stroke-width="1.15"/>
<circle cx="440.52" cy="145.00" r="1.85" fill="#7d8a6a" stroke="#0f1a0a" stroke-width="1.15"/>
<circle cx="454.04" cy="146.80" r="1.85" fill="#7d8a6a" stroke="#0f1a0a" stroke-width="1.15"/>
<circle cx="467.56" cy="150.20" r="1.85" fill="#7d8a6a" stroke="#0f1a0a" stroke-width="1.15"/>
<circle cx="481.08" cy="170.00" r="1.85" fill="#7d8a6a" stroke="#0f1a0a" stroke-width="1.15"/>
<circle cx="494.60" cy="186.60" r="1.85" fill="#7d8a6a" stroke="#0f1a0a" stroke-width="1.15"/>
<text x="8.40" y="249.50" font-size="11.2" font-weight="bold" fill="#111" stroke-width="0">B</text>
<line x1="37.40" y1="254.70" x2="37.40" y2="352.10" stroke="#111" stroke-width="1.25"/>
<line x1="36.80" y1="351.50" x2="158.50" y2="351.50" stroke="#111" stroke-width="1.25"/>
<line x1="34.60" y1="351.50" x2="37.40" y2="351.50" stroke="#111" stroke-width="0.9"/>
<text x="31.40" y="353.50" font-size="5.8" text-anchor="end" textLength="7.66" lengthAdjust="spacingAndGlyphs" stroke-width="0.22">0.0</text>
<line x1="34.60" y1="324.45" x2="37.40" y2="324.45" stroke="#111" stroke-width="0.9"/>
<text x="31.40" y="326.45" font-size="5.8" text-anchor="end" textLength="7.66" lengthAdjust="spacingAndGlyphs" stroke-width="0.22">0.5</text>
<line x1="34.60" y1="297.40" x2="37.40" y2="297.40" stroke="#111" stroke-width="0.9"/>
<text x="31.40" y="299.40" font-size="5.8" text-anchor="end" textLength="7.66" lengthAdjust="spacingAndGlyphs" stroke-width="0.22">1.0</text>
<line x1="34.60" y1="270.35" x2="37.40" y2="270.35" stroke="#111" stroke-width="0.9"/>
<text x="31.40" y="272.35" font-size="5.8" text-anchor="end" textLength="7.66" lengthAdjust="spacingAndGlyphs" stroke-width="0.22">1.5</text>
<line x1="45.60" y1="351.50" x2="45.60" y2="354.10" stroke="#111" stroke-width="0.9"/>
<text x="45.60" y="363.30" font-size="5.8" text-anchor="middle" stroke-width="0.22">0</text>
<line x1="63.74" y1="351.50" x2="63.74" y2="354.10" stroke="#111" stroke-width="0.9"/>
<text x="63.74" y="363.30" font-size="5.8" text-anchor="middle" stroke-width="0.22">2</text>
<line x1="81.88" y1="351.50" x2="81.88" y2="354.10" stroke="#111" stroke-width="0.9"/>
<text x="81.88" y="363.30" font-size="5.8" text-anchor="middle" stroke-width="0.22">4</text>
<line x1="100.02" y1="351.50" x2="100.02" y2="354.10" stroke="#111" stroke-width="0.9"/>
<text x="100.02" y="363.30" font-size="5.8" text-anchor="middle" stroke-width="0.22">6</text>
<line x1="118.16" y1="351.50" x2="118.16" y2="354.10" stroke="#111" stroke-width="0.9"/>
<text x="118.16" y="363.30" font-size="5.8" text-anchor="middle" stroke-width="0.22">8</text>
<line x1="136.30" y1="351.50" x2="136.30" y2="354.10" stroke="#111" stroke-width="0.9"/>
<text x="136.30" y="363.30" font-size="5.8" text-anchor="middle" textLength="6.13" lengthAdjust="spacingAndGlyphs" stroke-width="0.22">10</text>
<line x1="154.44" y1="351.50" x2="154.44" y2="354.10" stroke="#111" stroke-width="0.9"/>
<text x="154.44" y="363.30" font-size="5.8" text-anchor="middle" textLength="6.13" lengthAdjust="spacingAndGlyphs" stroke-width="0.22">12</text>
<text x="97.20" y="374.40" font-size="7.0" text-anchor="middle" textLength="66.30" lengthAdjust="spacingAndGlyphs" stroke-width="0.14">Days of administration</text>
<text x="16.80" y="302.30" font-size="6.8" text-anchor="middle" textLength="71.70" lengthAdjust="spacingAndGlyphs" transform="rotate(-90 16.80 302.30)" stroke-width="0.14">% of hCD45<tspan dy="-2.2" font-size="4.6">+</tspan><tspan dy="2.2"> cells in PB</tspan></text>
<polyline points="36.53,347.17 109.09,344.47 145.37,345.55" fill="none" stroke="#6f9a48" stroke-width="1.4" stroke-linejoin="round"/>
<polyline points="36.53,347.71 109.09,346.36 145.37,347.17" fill="none" stroke="#3b2a4e" stroke-width="1.4" stroke-linejoin="round"/>
<polyline points="36.53,348.25 109.09,348.25 145.37,348.52" fill="none" stroke="#3a4f9a" stroke-width="1.4" stroke-linejoin="round"/>
<polyline points="36.53,349.34 109.09,349.61 145.37,349.61" fill="none" stroke="#7a1a3a" stroke-width="1.4" stroke-linejoin="round"/>
<polyline points="36.53,347.71 109.09,313.90 145.37,286.04" fill="none" stroke="#e3a23b" stroke-width="1.5" stroke-linejoin="round"/>
<line x1="109.09" y1="302.81" x2="109.09" y2="324.45" stroke="#222" stroke-width="0.85"/>
<line x1="107.09" y1="302.81" x2="111.09" y2="302.81" stroke="#222" stroke-width="0.85"/>
<line x1="107.09" y1="324.45" x2="111.09" y2="324.45" stroke="#222" stroke-width="0.85"/>
<line x1="145.37" y1="262.24" x2="145.37" y2="310.11" stroke="#222" stroke-width="0.85"/>
<line x1="143.37" y1="262.24" x2="147.37" y2="262.24" stroke="#222" stroke-width="0.85"/>
<line x1="143.37" y1="310.11" x2="147.37" y2="310.11" stroke="#222" stroke-width="0.85"/>
<line x1="109.09" y1="341.76" x2="109.09" y2="349.88" stroke="#222" stroke-width="0.7"/>
<line x1="107.29" y1="341.76" x2="110.89" y2="341.76" stroke="#222" stroke-width="0.7"/>
<line x1="107.29" y1="349.88" x2="110.89" y2="349.88" stroke="#222" stroke-width="0.7"/>
<line x1="145.37" y1="342.57" x2="145.37" y2="349.88" stroke="#222" stroke-width="0.7"/>
<line x1="143.57" y1="342.57" x2="147.17" y2="342.57" stroke="#222" stroke-width="0.7"/>
<line x1="143.57" y1="349.88" x2="147.17" y2="349.88" stroke="#222" stroke-width="0.7"/>
<circle cx="36.53" cy="347.71" r="2.20" fill="#8a7050" stroke="#2a1a10" stroke-width="1.0"/>
<path d="M109.09,344.03 L111.69,346.63 L109.09,349.23 L106.49,346.63Z" fill="#2a2238" stroke="#111" stroke-width="0.5"/>
<path d="M109.09,350.32 L111.16,346.70 L107.02,346.70Z" fill="#2a3a6a" stroke="#111" stroke-width="0.5"/>
<path d="M145.37,344.03 L147.97,346.63 L145.37,349.23 L142.77,346.63Z" fill="#2a2238" stroke="#111" stroke-width="0.5"/>
<path d="M145.37,350.32 L147.44,346.70 L143.30,346.70Z" fill="#2a3a6a" stroke="#111" stroke-width="0.5"/>
<circle cx="109.09" cy="313.90" r="2.20" fill="#e9b870" stroke="#3a2010" stroke-width="1.0"/>
<circle cx="145.37" cy="286.04" r="2.20" fill="#e9b870" stroke="#3a2010" stroke-width="1.0"/>
<path d="M150.60,340.20L150.60,342.20M151.47,340.70L149.73,341.70M151.47,341.70L149.73,340.70" stroke="#222" stroke-width="0.55"/>
<path d="M150.60,343.15L150.60,345.15M151.47,343.65L149.73,344.65M151.47,344.65L149.73,343.65" stroke="#222" stroke-width="0.55"/>
<path d="M150.60,346.10L150.60,348.10M151.47,346.60L149.73,347.60M151.47,347.60L149.73,346.60" stroke="#222" stroke-width="0.55"/>
<path d="M150.60,349.05L150.60,351.05M151.47,349.55L149.73,350.55M151.47,350.55L149.73,349.55" stroke="#222" stroke-width="0.55"/>
<circle cx="52.30" cy="260.30" r="2.10" fill="#f4d7a0" stroke="#3a2010" stroke-width="1.0"/>
<text x="58.50" y="262.30" font-size="6.2" textLength="37.40" lengthAdjust="spacingAndGlyphs" stroke-width="0.14">Vehicle, b.i.d.</text>
<line x1="49.00" y1="266.80" x2="55.50" y2="266.80" stroke="#5a1a2a" stroke-width="1.2"/>
<path d="M52.30,264.38 L54.71,268.61 L49.88,268.61Z" fill="#5a1a2a" stroke="#2a0a10" stroke-width="0.7"/>
<text x="58.50" y="268.80" font-size="6.2" textLength="77.70" lengthAdjust="spacingAndGlyphs" stroke-width="0.14">Quizartinib 10 mg/kg, b.i.d.</text>
<line x1="49.00" y1="273.40" x2="55.50" y2="273.40" stroke="#2a3a7a" stroke-width="1.2"/>
<path d="M52.30,275.81 L54.71,271.59 L49.88,271.59Z" fill="#2a3a7a" stroke="#111" stroke-width="0.7"/>
<text x="58.50" y="275.40" font-size="6.2" textLength="72.70" lengthAdjust="spacingAndGlyphs" stroke-width="0.14">FF-10101 10 mg/kg, b.i.d.</text>
<path d="M52.30,277.48 L54.71,281.71 L49.88,281.71Z" fill="#b9c49a" stroke="#1a2010" stroke-width="0.7"/>
<text x="58.50" y="281.90" font-size="6.2" textLength="70.20" lengthAdjust="spacingAndGlyphs" stroke-width="0.14">FF-10101 5 mg/kg, b.i.d.</text>
<path d="M52.30,284.03 L54.77,286.50 L52.30,288.97 L49.83,286.50Z" fill="#111" stroke="#111" stroke-width="0.7"/>
<text x="58.50" y="288.50" font-size="6.2" textLength="69.00" lengthAdjust="spacingAndGlyphs" stroke-width="0.14">FF-10101 10 mg/kg, q.d.</text>
<text x="176.60" y="249.00" font-size="11.2" font-weight="bold" fill="#111" stroke-width="0">C</text>
<line x1="201.10" y1="260.20" x2="201.10" y2="352.30" stroke="#111" stroke-width="1.25"/>
<line x1="200.50" y1="351.70" x2="336.70" y2="351.70" stroke="#111" stroke-width="1.25"/>
<line x1="198.30" y1="351.70" x2="201.10" y2="351.70" stroke="#111" stroke-width="0.9"/>
<text x="196.40" y="353.70" font-size="5.7" text-anchor="end" stroke-width="0.22">0</text>
<line x1="198.30" y1="340.47" x2="201.10" y2="340.47" stroke="#111" stroke-width="0.9"/>
<text x="196.40" y="342.47" font-size="5.7" text-anchor="end" textLength="6.02" lengthAdjust="spacingAndGlyphs" stroke-width="0.22">10</text>
<line x1="198.30" y1="329.25" x2="201.10" y2="329.25" stroke="#111" stroke-width="0.9"/>
<text x="196.40" y="331.25" font-size="5.7" text-anchor="end" textLength="6.02" lengthAdjust="spacingAndGlyphs" stroke-width="0.22">20</text>
<line x1="198.30" y1="318.02" x2="201.10" y2="318.02" stroke="#111" stroke-width="0.9"/>
<text x="196.40" y="320.02" font-size="5.7" text-anchor="end" textLength="6.02" lengthAdjust="spacingAndGlyphs" stroke-width="0.22">30</text>
<line x1="198.30" y1="306.80" x2="201.10" y2="306.80" stroke="#111" stroke-width="0.9"/>
<text x="196.40" y="308.80" font-size="5.7" text-anchor="end" textLength="6.02" lengthAdjust="spacingAndGlyphs" stroke-width="0.22">40</text>
<line x1="198.30" y1="295.57" x2="201.10" y2="295.57" stroke="#111" stroke-width="0.9"/>
<text x="196.40" y="297.57" font-size="5.7" text-anchor="end" textLength="6.02" lengthAdjust="spacingAndGlyphs" stroke-width="0.22">50</text>
<line x1="198.30" y1="284.35" x2="201.10" y2="284.35" stroke="#111" stroke-width="0.9"/>
<text x="196.40" y="286.35" font-size="5.7" text-anchor="end" textLength="6.02" lengthAdjust="spacingAndGlyphs" stroke-width="0.22">60</text>
<line x1="198.30" y1="273.12" x2="201.10" y2="273.12" stroke="#111" stroke-width="0.9"/>
<text x="196.40" y="275.12" font-size="5.7" text-anchor="end" textLength="6.02" lengthAdjust="spacingAndGlyphs" stroke-width="0.22">70</text>
<line x1="198.30" y1="261.90" x2="201.10" y2="261.90" stroke="#111" stroke-width="0.9"/>
<text x="196.40" y="263.90" font-size="5.7" text-anchor="end" textLength="6.02" lengthAdjust="spacingAndGlyphs" stroke-width="0.22">80</text>
<text x="183.00" y="306.30" font-size="6.8" text-anchor="middle" textLength="73.20" lengthAdjust="spacingAndGlyphs" transform="rotate(-90 183.00 306.30)" stroke-width="0.14">% of hCD45<tspan dy="-2.2" font-size="4.6">+</tspan><tspan dy="2.2"> cells in BM</tspan></text>
<line x1="205.50" y1="347.60" x2="219.70" y2="347.60" stroke="#222" stroke-width="1.0"/>
<path d="M208.56,345.96 L210.64,348.04 M210.64,345.96 L208.56,348.04" stroke="#4a4e7a" stroke-width="0.6"/>
<path d="M210.06,347.06 L212.14,349.14 M212.14,347.06 L210.06,349.14" stroke="#4a4e7a" stroke-width="0.6"/>
<path d="M211.56,346.26 L213.64,348.34 M213.64,346.26 L211.56,348.34" stroke="#4a4e7a" stroke-width="0.6"/>
<path d="M213.06,347.16 L215.14,349.24 M215.14,347.16 L213.06,349.24" stroke="#4a4e7a" stroke-width="0.6"/>
<path d="M214.56,346.16 L216.64,348.24 M216.64,346.16 L214.56,348.24" stroke="#4a4e7a" stroke-width="0.6"/>
<path d="M213.56,346.76 L215.64,348.84 M215.64,346.76 L213.56,348.84" stroke="#4a4e7a" stroke-width="0.6"/>
<path d="M209.56,346.76 L211.64,348.84 M211.64,346.76 L209.56,348.84" stroke="#4a4e7a" stroke-width="0.6"/>
<line x1="235.30" y1="286.00" x2="235.30" y2="326.00" stroke="#222" stroke-width="0.95"/>
<line x1="231.40" y1="286.00" x2="239.10" y2="286.00" stroke="#222" stroke-width="0.95"/>
<line x1="231.40" y1="326.00" x2="239.10" y2="326.00" stroke="#222" stroke-width="0.95"/>
<line x1="227.70" y1="306.70" x2="242.40" y2="306.70" stroke="#222" stroke-width="1.1"/>
<circle cx="235.10" cy="282.10" r="2.50" fill="#e8a840" stroke="#2a1a10" stroke-width="0.95"/>
<circle cx="235.40" cy="291.20" r="2.50" fill="#8a7a5a" stroke="#2a1a10" stroke-width="0.95"/>
<circle cx="235.40" cy="306.70" r="2.50" fill="#5a5040" stroke="#2a1a10" stroke-width="0.95"/>
<circle cx="237.90" cy="326.00" r="2.50" fill="#e8a840" stroke="#2a1a10" stroke-width="0.95"/>
<circle cx="232.20" cy="329.30" r="2.50" fill="#e8a840" stroke="#2a1a10" stroke-width="0.95"/>
<line x1="257.70" y1="339.40" x2="257.70" y2="350.00" stroke="#222" stroke-width="0.9"/>
<line x1="253.50" y1="339.40" x2="262.00" y2="339.40" stroke="#222" stroke-width="0.9"/>
<line x1="251.00" y1="345.30" x2="264.40" y2="345.30" stroke="#222" stroke-width="1.0"/>
<path d="M262.30,334.67 L264.83,339.10 L259.77,339.10Z" fill="#6a1432" stroke="#2a0a14" stroke-width="0.55"/>
<path d="M253.30,340.37 L255.83,344.80 L250.77,344.80Z" fill="#6a1432" stroke="#2a0a14" stroke-width="0.55"/>
<path d="M258.00,340.77 L260.53,345.20 L255.47,345.20Z" fill="#6a1432" stroke="#2a0a14" stroke-width="0.55"/>
<path d="M260.60,343.87 L263.13,348.30 L258.07,348.30Z" fill="#6a1432" stroke="#2a0a14" stroke-width="0.55"/>
<path d="M255.00,347.47 L257.53,351.90 L252.47,351.90Z" fill="#6a1432" stroke="#2a0a14" stroke-width="0.55"/>
<path d="M257.50,329.65L257.50,331.95M258.50,330.23L256.50,331.38M258.50,331.38L256.50,330.23" stroke="#222" stroke-width="0.6"/>
<line x1="272.00" y1="345.80" x2="287.00" y2="345.80" stroke="#222" stroke-width="1.0"/>
<path d="M274.00,348.92 L276.42,344.69 L271.58,344.69Z" fill="#1e2a50" stroke="#111" stroke-width="0.45"/>
<path d="M277.50,350.92 L279.92,346.69 L275.08,346.69Z" fill="#1e2a50" stroke="#111" stroke-width="0.45"/>
<path d="M280.50,349.42 L282.92,345.19 L278.08,345.19Z" fill="#1e2a50" stroke="#111" stroke-width="0.45"/>
<path d="M283.50,348.42 L285.92,344.19 L281.08,344.19Z" fill="#1e2a50" stroke="#111" stroke-width="0.45"/>
<path d="M286.00,348.92 L288.42,344.69 L283.58,344.69Z" fill="#1e2a50" stroke="#111" stroke-width="0.45"/>
<path d="M279.00,351.92 L281.42,347.69 L276.58,347.69Z" fill="#1e2a50" stroke="#111" stroke-width="0.45"/>
<path d="M282.00,351.92 L284.42,347.69 L279.58,347.69Z" fill="#1e2a50" stroke="#111" stroke-width="0.45"/>
<path d="M279.60,335.55L279.60,337.85M280.60,336.12L278.60,337.27M280.60,337.27L278.60,336.12" stroke="#222" stroke-width="0.6"/>
<line x1="302.50" y1="341.50" x2="302.50" y2="349.50" stroke="#222" stroke-width="0.9"/>
<line x1="298.50" y1="341.50" x2="306.50" y2="341.50" stroke="#222" stroke-width="0.9"/>
<line x1="295.20" y1="345.30" x2="309.90" y2="345.30" stroke="#222" stroke-width="1.0"/>
<path d="M299.50,336.48 L301.92,340.71 L297.08,340.71Z" fill="#cdd6b8" stroke="#1a2414" stroke-width="0.6"/>
<path d="M302.00,339.58 L304.42,343.81 L299.58,343.81Z" fill="#cdd6b8" stroke="#1a2414" stroke-width="0.6"/>
<path d="M298.00,343.98 L300.42,348.21 L295.58,348.21Z" fill="#cdd6b8" stroke="#1a2414" stroke-width="0.6"/>
<path d="M302.50,343.98 L304.92,348.21 L300.08,348.21Z" fill="#cdd6b8" stroke="#1a2414" stroke-width="0.6"/>
<path d="M307.00,343.98 L309.42,348.21 L304.58,348.21Z" fill="#cdd6b8" stroke="#1a2414" stroke-width="0.6"/>
<path d="M300.00,347.08 L302.42,351.31 L297.58,351.31Z" fill="#cdd6b8" stroke="#1a2414" stroke-width="0.6"/>
<path d="M305.00,347.08 L307.42,351.31 L302.58,351.31Z" fill="#cdd6b8" stroke="#1a2414" stroke-width="0.6"/>
<path d="M302.40,330.85L302.40,333.15M303.40,331.43L301.40,332.57M303.40,332.57L301.40,331.43" stroke="#222" stroke-width="0.6"/>
<line x1="324.90" y1="326.80" x2="324.90" y2="345.00" stroke="#222" stroke-width="0.9"/>
<line x1="320.50" y1="326.80" x2="329.50" y2="326.80" stroke="#222" stroke-width="0.9"/>
<line x1="317.70" y1="336.70" x2="331.50" y2="336.70" stroke="#222" stroke-width="1.1"/>
<path d="M324.90,317.54 L327.76,320.40 L324.90,323.26 L322.04,320.40Z" fill="#3a2a52" stroke="#111" stroke-width="0.55"/>
<path d="M322.00,330.34 L324.86,333.20 L322.00,336.06 L319.14,333.20Z" fill="#3a2a52" stroke="#111" stroke-width="0.55"/>
<path d="M328.00,334.34 L330.86,337.20 L328.00,340.06 L325.14,337.20Z" fill="#3a2a52" stroke="#111" stroke-width="0.55"/>
<path d="M326.30,338.64 L329.16,341.50 L326.30,344.36 L323.44,341.50Z" fill="#3a2a52" stroke="#111" stroke-width="0.55"/>
<path d="M322.00,342.94 L324.86,345.80 L322.00,348.66 L319.14,345.80Z" fill="#3a2a52" stroke="#111" stroke-width="0.55"/>
<path d="M328.00,340.44 L330.86,343.30 L328.00,346.16 L325.14,343.30Z" fill="#3a2a52" stroke="#111" stroke-width="0.55"/>
<path d="M324.90,310.65L324.90,312.95M325.90,311.23L323.90,312.38M325.90,312.38L323.90,311.23" stroke="#222" stroke-width="0.6"/>
<path d="M260.20,259.70 L262.60,262.10 M262.60,259.70 L260.20,262.10" stroke="#4a4e7a" stroke-width="0.9"/>
<text x="266.00" y="263.00" font-size="6.3" textLength="83.20" lengthAdjust="spacingAndGlyphs" stroke-width="0.14">Day 0 (before administration)</text>
<circle cx="261.40" cy="268.20" r="2.20" fill="#e8a840" stroke="#2a1a10" stroke-width="0.9"/>
<text x="266.00" y="270.30" font-size="6.3" textLength="38.20" lengthAdjust="spacingAndGlyphs" stroke-width="0.14">Vehicle, b.i.d.</text>
<path d="M261.40,272.87 L263.93,277.30 L258.87,277.30Z" fill="#6a1432" stroke="#2a0a14" stroke-width="0.6"/>
<text x="266.00" y="277.50" font-size="6.3" textLength="78.60" lengthAdjust="spacingAndGlyphs" stroke-width="0.14">Quizartinib 10 mg/kg, b.i.d.</text>
<path d="M261.40,285.13 L263.93,280.70 L258.87,280.70Z" fill="#1e2a50" stroke="#111" stroke-width="0.6"/>
<text x="266.00" y="284.70" font-size="6.3" textLength="74.80" lengthAdjust="spacingAndGlyphs" stroke-width="0.14">FF-10101 10 mg/kg, b.i.d.</text>
<path d="M261.40,287.37 L263.93,291.80 L258.87,291.80Z" fill="#cdd6b8" stroke="#1a2414" stroke-width="0.6"/>
<text x="266.00" y="292.00" font-size="6.3" textLength="70.20" lengthAdjust="spacingAndGlyphs" stroke-width="0.14">FF-10101 5 mg/kg, b.i.d.</text>
<path d="M261.40,294.34 L264.26,297.20 L261.40,300.06 L258.54,297.20Z" fill="#3a2a52" stroke="#111" stroke-width="0.6"/>
<text x="266.00" y="299.30" font-size="6.3" textLength="71.00" lengthAdjust="spacingAndGlyphs" stroke-width="0.14">FF-10101 10 mg/kg, q.d.</text>
<text x="363.40" y="247.90" font-size="11.2" font-weight="bold" fill="#111" stroke-width="0">D</text>
<line x1="392.60" y1="276.60" x2="392.60" y2="352.50" stroke="#111" stroke-width="1.25"/>
<line x1="392.00" y1="351.90" x2="503.50" y2="351.90" stroke="#111" stroke-width="1.25"/>
<line x1="389.80" y1="351.90" x2="392.60" y2="351.90" stroke="#111" stroke-width="0.9"/>
<text x="386.00" y="353.90" font-size="5.5" text-anchor="end" textLength="5.81" lengthAdjust="spacingAndGlyphs" stroke-width="0.22">70</text>
<line x1="389.80" y1="333.53" x2="392.60" y2="333.53" stroke="#111" stroke-width="0.9"/>
<text x="386.00" y="335.53" font-size="5.5" text-anchor="end" textLength="5.81" lengthAdjust="spacingAndGlyphs" stroke-width="0.22">80</text>
<line x1="389.80" y1="315.16" x2="392.60" y2="315.16" stroke="#111" stroke-width="0.9"/>
<text x="386.00" y="317.16" font-size="5.5" text-anchor="end" textLength="5.81" lengthAdjust="spacingAndGlyphs" stroke-width="0.22">90</text>
<line x1="389.80" y1="296.79" x2="392.60" y2="296.79" stroke="#111" stroke-width="0.9"/>
<text x="386.00" y="298.79" font-size="5.5" text-anchor="end" textLength="8.72" lengthAdjust="spacingAndGlyphs" stroke-width="0.22">100</text>
<line x1="389.80" y1="278.42" x2="392.60" y2="278.42" stroke="#111" stroke-width="0.9"/>
<text x="386.00" y="280.42" font-size="5.5" text-anchor="end" textLength="8.33" lengthAdjust="spacingAndGlyphs" stroke-width="0.22">110</text>
<line x1="401.30" y1="351.90" x2="401.30" y2="354.50" stroke="#111" stroke-width="0.9"/>
<text x="401.30" y="363.40" font-size="5.5" text-anchor="middle" stroke-width="0.22">0</text>
<line x1="418.10" y1="351.90" x2="418.10" y2="354.50" stroke="#111" stroke-width="0.9"/>
<text x="418.10" y="363.40" font-size="5.5" text-anchor="middle" stroke-width="0.22">2</text>
<line x1="434.90" y1="351.90" x2="434.90" y2="354.50" stroke="#111" stroke-width="0.9"/>
<text x="434.90" y="363.40" font-size="5.5" text-anchor="middle" stroke-width="0.22">4</text>
<line x1="451.70" y1="351.90" x2="451.70" y2="354.50" stroke="#111" stroke-width="0.9"/>
<text x="451.70" y="363.40" font-size="5.5" text-anchor="middle" stroke-width="0.22">6</text>
<line x1="468.50" y1="351.90" x2="468.50" y2="354.50" stroke="#111" stroke-width="0.9"/>
<text x="468.50" y="363.40" font-size="5.5" text-anchor="middle" stroke-width="0.22">8</text>
<line x1="485.30" y1="351.90" x2="485.30" y2="354.50" stroke="#111" stroke-width="0.9"/>
<text x="485.30" y="363.40" font-size="5.5" text-anchor="middle" textLength="5.81" lengthAdjust="spacingAndGlyphs" stroke-width="0.22">10</text>
<line x1="502.10" y1="351.90" x2="502.10" y2="354.50" stroke="#111" stroke-width="0.9"/>
<text x="502.10" y="363.40" font-size="5.5" text-anchor="middle" textLength="5.81" lengthAdjust="spacingAndGlyphs" stroke-width="0.22">12</text>
<text x="449.00" y="374.60" font-size="7.0" text-anchor="middle" textLength="66.30" lengthAdjust="spacingAndGlyphs" stroke-width="0.14">Days of administration</text>
<text x="370.70" y="313.70" font-size="6.8" text-anchor="middle" textLength="76.40" lengthAdjust="spacingAndGlyphs" transform="rotate(-90 370.70 313.70)" stroke-width="0.14">% changes in body weight</text>
<line x1="418.00" y1="306.80" x2="418.00" y2="315.20" stroke="#444" stroke-width="0.75"/>
<line x1="416.10" y1="306.80" x2="419.90" y2="306.80" stroke="#444" stroke-width="0.75"/>
<line x1="416.10" y1="315.20" x2="419.90" y2="315.20" stroke="#444" stroke-width="0.75"/>
<line x1="434.80" y1="314.80" x2="434.80" y2="323.20" stroke="#444" stroke-width="0.75"/>
<line x1="432.90" y1="314.80" x2="436.70" y2="314.80" stroke="#444" stroke-width="0.75"/>
<line x1="432.90" y1="323.20" x2="436.70" y2="323.20" stroke="#444" stroke-width="0.75"/>
<line x1="451.60" y1="317.70" x2="451.60" y2="326.10" stroke="#444" stroke-width="0.75"/>
<line x1="449.70" y1="317.70" x2="453.50" y2="317.70" stroke="#444" stroke-width="0.75"/>
<line x1="449.70" y1="326.10" x2="453.50" y2="326.10" stroke="#444" stroke-width="0.75"/>
<line x1="468.40" y1="314.10" x2="468.40" y2="322.50" stroke="#444" stroke-width="0.75"/>
<line x1="466.50" y1="314.10" x2="470.30" y2="314.10" stroke="#444" stroke-width="0.75"/>
<line x1="466.50" y1="322.50" x2="470.30" y2="322.50" stroke="#444" stroke-width="0.75"/>
<line x1="485.50" y1="316.50" x2="485.50" y2="324.90" stroke="#444" stroke-width="0.75"/>
<line x1="483.60" y1="316.50" x2="487.40" y2="316.50" stroke="#444" stroke-width="0.75"/>
<line x1="483.60" y1="324.90" x2="487.40" y2="324.90" stroke="#444" stroke-width="0.75"/>
<line x1="493.70" y1="318.90" x2="493.70" y2="327.30" stroke="#444" stroke-width="0.75"/>
<line x1="491.80" y1="318.90" x2="495.60" y2="318.90" stroke="#444" stroke-width="0.75"/>
<line x1="491.80" y1="327.30" x2="495.60" y2="327.30" stroke="#444" stroke-width="0.75"/>
<line x1="418.00" y1="306.10" x2="418.00" y2="314.50" stroke="#444" stroke-width="0.75"/>
<line x1="416.10" y1="306.10" x2="419.90" y2="306.10" stroke="#444" stroke-width="0.75"/>
<line x1="416.10" y1="314.50" x2="419.90" y2="314.50" stroke="#444" stroke-width="0.75"/>
<line x1="434.80" y1="310.50" x2="434.80" y2="318.90" stroke="#444" stroke-width="0.75"/>
<line x1="432.90" y1="310.50" x2="436.70" y2="310.50" stroke="#444" stroke-width="0.75"/>
<line x1="432.90" y1="318.90" x2="436.70" y2="318.90" stroke="#444" stroke-width="0.75"/>
<line x1="451.60" y1="312.80" x2="451.60" y2="321.20" stroke="#444" stroke-width="0.75"/>
<line x1="449.70" y1="312.80" x2="453.50" y2="312.80" stroke="#444" stroke-width="0.75"/>
<line x1="449.70" y1="321.20" x2="453.50" y2="321.20" stroke="#444" stroke-width="0.75"/>
<line x1="468.40" y1="313.60" x2="468.40" y2="322.00" stroke="#444" stroke-width="0.75"/>
<line x1="466.50" y1="313.60" x2="470.30" y2="313.60" stroke="#444" stroke-width="0.75"/>
<line x1="466.50" y1="322.00" x2="470.30" y2="322.00" stroke="#444" stroke-width="0.75"/>
<line x1="485.50" y1="315.30" x2="485.50" y2="323.70" stroke="#444" stroke-width="0.75"/>
<line x1="483.60" y1="315.30" x2="487.40" y2="315.30" stroke="#444" stroke-width="0.75"/>
<line x1="483.60" y1="323.70" x2="487.40" y2="323.70" stroke="#444" stroke-width="0.75"/>
<line x1="493.70" y1="314.10" x2="493.70" y2="322.50" stroke="#444" stroke-width="0.75"/>
<line x1="491.80" y1="314.10" x2="495.60" y2="314.10" stroke="#444" stroke-width="0.75"/>
<line x1="491.80" y1="322.50" x2="495.60" y2="322.50" stroke="#444" stroke-width="0.75"/>
<line x1="418.00" y1="304.40" x2="418.00" y2="312.80" stroke="#444" stroke-width="0.75"/>
<line x1="416.10" y1="304.40" x2="419.90" y2="304.40" stroke="#444" stroke-width="0.75"/>
<line x1="416.10" y1="312.80" x2="419.90" y2="312.80" stroke="#444" stroke-width="0.75"/>
<line x1="434.80" y1="305.20" x2="434.80" y2="313.60" stroke="#444" stroke-width="0.75"/>
<line x1="432.90" y1="305.20" x2="436.70" y2="305.20" stroke="#444" stroke-width="0.75"/>
<line x1="432.90" y1="313.60" x2="436.70" y2="313.60" stroke="#444" stroke-width="0.75"/>
<line x1="451.60" y1="305.20" x2="451.60" y2="313.60" stroke="#444" stroke-width="0.75"/>
<line x1="449.70" y1="305.20" x2="453.50" y2="305.20" stroke="#444" stroke-width="0.75"/>
<line x1="449.70" y1="313.60" x2="453.50" y2="313.60" stroke="#444" stroke-width="0.75"/>
<line x1="468.40" y1="304.40" x2="468.40" y2="312.80" stroke="#444" stroke-width="0.75"/>
<line x1="466.50" y1="304.40" x2="470.30" y2="304.40" stroke="#444" stroke-width="0.75"/>
<line x1="466.50" y1="312.80" x2="470.30" y2="312.80" stroke="#444" stroke-width="0.75"/>
<line x1="485.50" y1="304.90" x2="485.50" y2="313.30" stroke="#444" stroke-width="0.75"/>
<line x1="483.60" y1="304.90" x2="487.40" y2="304.90" stroke="#444" stroke-width="0.75"/>
<line x1="483.60" y1="313.30" x2="487.40" y2="313.30" stroke="#444" stroke-width="0.75"/>
<line x1="493.70" y1="306.80" x2="493.70" y2="315.20" stroke="#444" stroke-width="0.75"/>
<line x1="491.80" y1="306.80" x2="495.60" y2="306.80" stroke="#444" stroke-width="0.75"/>
<line x1="491.80" y1="315.20" x2="495.60" y2="315.20" stroke="#444" stroke-width="0.75"/>
<line x1="418.00" y1="305.20" x2="418.00" y2="313.60" stroke="#444" stroke-width="0.75"/>
<line x1="416.10" y1="305.20" x2="419.90" y2="305.20" stroke="#444" stroke-width="0.75"/>
<line x1="416.10" y1="313.60" x2="419.90" y2="313.60" stroke="#444" stroke-width="0.75"/>
<line x1="434.80" y1="306.40" x2="434.80" y2="314.80" stroke="#444" stroke-width="0.75"/>
<line x1="432.90" y1="306.40" x2="436.70" y2="306.40" stroke="#444" stroke-width="0.75"/>
<line x1="432.90" y1="314.80" x2="436.70" y2="314.80" stroke="#444" stroke-width="0.75"/>
<line x1="451.60" y1="305.70" x2="451.60" y2="314.10" stroke="#444" stroke-width="0.75"/>
<line x1="449.70" y1="305.70" x2="453.50" y2="305.70" stroke="#444" stroke-width="0.75"/>
<line x1="449.70" y1="314.10" x2="453.50" y2="314.10" stroke="#444" stroke-width="0.75"/>
<line x1="468.40" y1="305.20" x2="468.40" y2="313.60" stroke="#444" stroke-width="0.75"/>
<line x1="466.50" y1="305.20" x2="470.30" y2="305.20" stroke="#444" stroke-width="0.75"/>
<line x1="466.50" y1="313.60" x2="470.30" y2="313.60" stroke="#444" stroke-width="0.75"/>
<line x1="485.50" y1="306.80" x2="485.50" y2="315.20" stroke="#444" stroke-width="0.75"/>
<line x1="483.60" y1="306.80" x2="487.40" y2="306.80" stroke="#444" stroke-width="0.75"/>
<line x1="483.60" y1="315.20" x2="487.40" y2="315.20" stroke="#444" stroke-width="0.75"/>
<line x1="493.70" y1="308.10" x2="493.70" y2="316.50" stroke="#444" stroke-width="0.75"/>
<line x1="491.80" y1="308.10" x2="495.60" y2="308.10" stroke="#444" stroke-width="0.75"/>
<line x1="491.80" y1="316.50" x2="495.60" y2="316.50" stroke="#444" stroke-width="0.75"/>
<line x1="418.00" y1="298.90" x2="418.00" y2="307.30" stroke="#444" stroke-width="0.75"/>
<line x1="416.10" y1="298.90" x2="419.90" y2="298.90" stroke="#444" stroke-width="0.75"/>
<line x1="416.10" y1="307.30" x2="419.90" y2="307.30" stroke="#444" stroke-width="0.75"/>
<line x1="434.80" y1="302.50" x2="434.80" y2="310.90" stroke="#444" stroke-width="0.75"/>
<line x1="432.90" y1="302.50" x2="436.70" y2="302.50" stroke="#444" stroke-width="0.75"/>
<line x1="432.90" y1="310.90" x2="436.70" y2="310.90" stroke="#444" stroke-width="0.75"/>
<line x1="451.60" y1="300.80" x2="451.60" y2="309.20" stroke="#444" stroke-width="0.75"/>
<line x1="449.70" y1="300.80" x2="453.50" y2="300.80" stroke="#444" stroke-width="0.75"/>
<line x1="449.70" y1="309.20" x2="453.50" y2="309.20" stroke="#444" stroke-width="0.75"/>
<line x1="468.40" y1="295.60" x2="468.40" y2="304.00" stroke="#444" stroke-width="0.75"/>
<line x1="466.50" y1="295.60" x2="470.30" y2="295.60" stroke="#444" stroke-width="0.75"/>
<line x1="466.50" y1="304.00" x2="470.30" y2="304.00" stroke="#444" stroke-width="0.75"/>
<line x1="485.50" y1="302.80" x2="485.50" y2="311.20" stroke="#444" stroke-width="0.75"/>
<line x1="483.60" y1="302.80" x2="487.40" y2="302.80" stroke="#444" stroke-width="0.75"/>
<line x1="483.60" y1="311.20" x2="487.40" y2="311.20" stroke="#444" stroke-width="0.75"/>
<line x1="493.70" y1="302.80" x2="493.70" y2="311.20" stroke="#444" stroke-width="0.75"/>
<line x1="491.80" y1="302.80" x2="495.60" y2="302.80" stroke="#444" stroke-width="0.75"/>
<line x1="491.80" y1="311.20" x2="495.60" y2="311.20" stroke="#444" stroke-width="0.75"/>
<polyline points="392.60,296.80 418.00,311.00 434.80,319.00 451.60,321.90 468.40,318.30 485.50,320.70 493.70,323.10" fill="none" stroke="#5e8f45" stroke-width="1.8" stroke-linejoin="round"/>
<polyline points="392.60,296.80 418.00,310.30 434.80,314.70 451.60,317.00 468.40,317.80 485.50,319.50 493.70,318.30" fill="none" stroke="#2e4a88" stroke-width="1.8" stroke-linejoin="round"/>
<polyline points="392.60,296.80 418.00,308.60 434.80,309.40 451.60,309.40 468.40,308.60 485.50,309.10 493.70,311.00" fill="none" stroke="#e3a23b" stroke-width="1.8" stroke-linejoin="round"/>
<polyline points="392.60,296.80 418.00,309.40 434.80,310.60 451.60,309.90 468.40,309.40 485.50,311.00 493.70,312.30" fill="none" stroke="#8a1a3a" stroke-width="1.8" stroke-linejoin="round"/>
<polyline points="392.60,296.80 418.00,303.10 434.80,306.70 451.60,305.00 468.40,299.80 485.50,307.00 493.70,307.00" fill="none" stroke="#2e2240" stroke-width="1.8" stroke-linejoin="round"/>
<path d="M392.60,293.93 L395.48,298.96 L389.73,298.96Z" fill="#b9c49a" stroke="#1a2414" stroke-width="0.55"/>
<path d="M418.00,308.12 L420.88,313.16 L415.12,313.16Z" fill="#b9c49a" stroke="#1a2414" stroke-width="0.55"/>
<path d="M434.80,316.12 L437.68,321.16 L431.93,321.16Z" fill="#b9c49a" stroke="#1a2414" stroke-width="0.55"/>
<path d="M451.60,319.02 L454.48,324.06 L448.73,324.06Z" fill="#b9c49a" stroke="#1a2414" stroke-width="0.55"/>
<path d="M468.40,315.43 L471.27,320.46 L465.52,320.46Z" fill="#b9c49a" stroke="#1a2414" stroke-width="0.55"/>
<path d="M485.50,317.82 L488.38,322.86 L482.62,322.86Z" fill="#b9c49a" stroke="#1a2414" stroke-width="0.55"/>
<path d="M493.70,320.23 L496.57,325.26 L490.82,325.26Z" fill="#b9c49a" stroke="#1a2414" stroke-width="0.55"/>
<path d="M392.60,299.68 L395.48,294.64 L389.73,294.64Z" fill="#2e4a88" stroke="#111" stroke-width="0.55"/>
<path d="M418.00,313.18 L420.88,308.14 L415.12,308.14Z" fill="#2e4a88" stroke="#111" stroke-width="0.55"/>
<path d="M434.80,317.57 L437.68,312.54 L431.93,312.54Z" fill="#2e4a88" stroke="#111" stroke-width="0.55"/>
<path d="M451.60,319.88 L454.48,314.84 L448.73,314.84Z" fill="#2e4a88" stroke="#111" stroke-width="0.55"/>
<path d="M468.40,320.68 L471.27,315.64 L465.52,315.64Z" fill="#2e4a88" stroke="#111" stroke-width="0.55"/>
<path d="M485.50,322.38 L488.38,317.34 L482.62,317.34Z" fill="#2e4a88" stroke="#111" stroke-width="0.55"/>
<path d="M493.70,321.18 L496.57,316.14 L490.82,316.14Z" fill="#2e4a88" stroke="#111" stroke-width="0.55"/>
<circle cx="392.60" cy="296.80" r="2.50" fill="#e8a840" stroke="#2a1a10" stroke-width="0.9"/>
<circle cx="418.00" cy="308.60" r="2.50" fill="#e8a840" stroke="#2a1a10" stroke-width="0.9"/>
<circle cx="434.80" cy="309.40" r="2.50" fill="#e8a840" stroke="#2a1a10" stroke-width="0.9"/>
<circle cx="451.60" cy="309.40" r="2.50" fill="#e8a840" stroke="#2a1a10" stroke-width="0.9"/>
<circle cx="468.40" cy="308.60" r="2.50" fill="#e8a840" stroke="#2a1a10" stroke-width="0.9"/>
<circle cx="485.50" cy="309.10" r="2.50" fill="#e8a840" stroke="#2a1a10" stroke-width="0.9"/>
<circle cx="493.70" cy="311.00" r="2.50" fill="#e8a840" stroke="#2a1a10" stroke-width="0.9"/>
<path d="M392.60,293.93 L395.48,298.96 L389.73,298.96Z" fill="#8a1a3a" stroke="#2a0a14" stroke-width="0.55"/>
<path d="M418.00,306.52 L420.88,311.56 L415.12,311.56Z" fill="#8a1a3a" stroke="#2a0a14" stroke-width="0.55"/>
<path d="M434.80,307.73 L437.68,312.76 L431.93,312.76Z" fill="#8a1a3a" stroke="#2a0a14" stroke-width="0.55"/>
<path d="M451.60,307.02 L454.48,312.06 L448.73,312.06Z" fill="#8a1a3a" stroke="#2a0a14" stroke-width="0.55"/>
<path d="M468.40,306.52 L471.27,311.56 L465.52,311.56Z" fill="#8a1a3a" stroke="#2a0a14" stroke-width="0.55"/>
<path d="M485.50,308.12 L488.38,313.16 L482.62,313.16Z" fill="#8a1a3a" stroke="#2a0a14" stroke-width="0.55"/>
<path d="M493.70,309.43 L496.57,314.46 L490.82,314.46Z" fill="#8a1a3a" stroke="#2a0a14" stroke-width="0.55"/>
<path d="M392.60,293.55 L395.85,296.80 L392.60,300.05 L389.35,296.80Z" fill="#3a2a52" stroke="#111" stroke-width="0.55"/>
<path d="M418.00,299.85 L421.25,303.10 L418.00,306.35 L414.75,303.10Z" fill="#3a2a52" stroke="#111" stroke-width="0.55"/>
<path d="M434.80,303.45 L438.05,306.70 L434.80,309.95 L431.55,306.70Z" fill="#3a2a52" stroke="#111" stroke-width="0.55"/>
<path d="M451.60,301.75 L454.85,305.00 L451.60,308.25 L448.35,305.00Z" fill="#3a2a52" stroke="#111" stroke-width="0.55"/>
<path d="M468.40,296.55 L471.65,299.80 L468.40,303.05 L465.15,299.80Z" fill="#3a2a52" stroke="#111" stroke-width="0.55"/>
<path d="M485.50,303.75 L488.75,307.00 L485.50,310.25 L482.25,307.00Z" fill="#3a2a52" stroke="#111" stroke-width="0.55"/>
<path d="M493.70,303.75 L496.95,307.00 L493.70,310.25 L490.45,307.00Z" fill="#3a2a52" stroke="#111" stroke-width="0.55"/>
<line x1="408.80" y1="253.70" x2="419.40" y2="253.70" stroke="#e3a23b" stroke-width="1.5"/>
<circle cx="414.10" cy="253.70" r="2.50" fill="#e8a840" stroke="#2a1a10" stroke-width="0.9"/>
<text x="423.60" y="255.80" font-size="6.3" stroke-width="0.14">Vehicle, b.i.d.</text>
<line x1="408.80" y1="262.00" x2="419.40" y2="262.00" stroke="#8a1a3a" stroke-width="1.5"/>
<path d="M414.10,259.12 L416.98,264.16 L411.23,264.16Z" fill="#8a1a3a" stroke="#2a0a14" stroke-width="0.6"/>
<text x="423.60" y="264.10" font-size="6.3" textLength="78.00" lengthAdjust="spacingAndGlyphs" stroke-width="0.14">Quizartinib 10 mg/kg, b.i.d.</text>
<line x1="408.80" y1="269.50" x2="419.40" y2="269.50" stroke="#2e4a88" stroke-width="1.5"/>
<path d="M414.10,272.38 L416.98,267.34 L411.23,267.34Z" fill="#2e4a88" stroke="#111" stroke-width="0.6"/>
<text x="423.60" y="271.60" font-size="6.3" textLength="73.30" lengthAdjust="spacingAndGlyphs" stroke-width="0.14">FF-10101 10 mg/kg, b.i.d.</text>
<line x1="408.80" y1="277.40" x2="419.40" y2="277.40" stroke="#5e8f45" stroke-width="1.5"/>
<path d="M414.10,274.52 L416.98,279.56 L411.23,279.56Z" fill="#b9c49a" stroke="#1a2414" stroke-width="0.6"/>
<text x="423.60" y="279.50" font-size="6.3" textLength="69.90" lengthAdjust="spacingAndGlyphs" stroke-width="0.14">FF-10101 5 mg/kg, b.i.d.</text>
<line x1="408.80" y1="285.40" x2="419.40" y2="285.40" stroke="#2e2240" stroke-width="1.5"/>
<path d="M414.10,282.15 L417.35,285.40 L414.10,288.65 L410.85,285.40Z" fill="#3a2a52" stroke="#111" stroke-width="0.6"/>
<text x="423.60" y="287.50" font-size="6.3" textLength="70.30" lengthAdjust="spacingAndGlyphs" stroke-width="0.14">FF-10101 10 mg/kg, q.d.</text>
<text x="8.40" y="402.60" font-size="11.2" font-weight="bold" fill="#111" stroke-width="0">E</text>
<line x1="42.80" y1="430.00" x2="42.80" y2="526.10" stroke="#111" stroke-width="1.25"/>
<line x1="42.20" y1="525.50" x2="176.30" y2="525.50" stroke="#111" stroke-width="1.25"/>
<line x1="40.00" y1="525.50" x2="42.80" y2="525.50" stroke="#111" stroke-width="0.9"/>
<text x="36.50" y="527.50" font-size="5.7" text-anchor="end" stroke-width="0.22">1</text>
<line x1="40.00" y1="502.40" x2="42.80" y2="502.40" stroke="#111" stroke-width="0.9"/>
<text x="36.50" y="504.40" font-size="5.7" text-anchor="end" textLength="6.02" lengthAdjust="spacingAndGlyphs" stroke-width="0.22">10</text>
<line x1="40.00" y1="479.30" x2="42.80" y2="479.30" stroke="#111" stroke-width="0.9"/>
<text x="36.50" y="481.30" font-size="5.7" text-anchor="end" textLength="9.03" lengthAdjust="spacingAndGlyphs" stroke-width="0.22">100</text>
<line x1="40.00" y1="456.20" x2="42.80" y2="456.20" stroke="#111" stroke-width="0.9"/>
<text x="36.50" y="458.20" font-size="5.7" text-anchor="end" textLength="12.04" lengthAdjust="spacingAndGlyphs" stroke-width="0.22">1000</text>
<line x1="40.00" y1="433.10" x2="42.80" y2="433.10" stroke="#111" stroke-width="0.9"/>
<text x="36.50" y="435.10" font-size="5.7" text-anchor="end" textLength="15.06" lengthAdjust="spacingAndGlyphs" stroke-width="0.22">10000</text>
<line x1="41.20" y1="518.55" x2="42.80" y2="518.55" stroke="#111" stroke-width="0.7"/>
<line x1="41.20" y1="514.48" x2="42.80" y2="514.48" stroke="#111" stroke-width="0.7"/>
<line x1="41.20" y1="511.59" x2="42.80" y2="511.59" stroke="#111" stroke-width="0.7"/>
<line x1="41.20" y1="509.35" x2="42.80" y2="509.35" stroke="#111" stroke-width="0.7"/>
<line x1="41.20" y1="507.52" x2="42.80" y2="507.52" stroke="#111" stroke-width="0.7"/>
<line x1="41.20" y1="505.98" x2="42.80" y2="505.98" stroke="#111" stroke-width="0.7"/>
<line x1="41.20" y1="504.64" x2="42.80" y2="504.64" stroke="#111" stroke-width="0.7"/>
<line x1="41.20" y1="503.46" x2="42.80" y2="503.46" stroke="#111" stroke-width="0.7"/>
<line x1="41.20" y1="495.45" x2="42.80" y2="495.45" stroke="#111" stroke-width="0.7"/>
<line x1="41.20" y1="491.38" x2="42.80" y2="491.38" stroke="#111" stroke-width="0.7"/>
<line x1="41.20" y1="488.49" x2="42.80" y2="488.49" stroke="#111" stroke-width="0.7"/>
<line x1="41.20" y1="486.25" x2="42.80" y2="486.25" stroke="#111" stroke-width="0.7"/>
<line x1="41.20" y1="484.42" x2="42.80" y2="484.42" stroke="#111" stroke-width="0.7"/>
<line x1="41.20" y1="482.88" x2="42.80" y2="482.88" stroke="#111" stroke-width="0.7"/>
<line x1="41.20" y1="481.54" x2="42.80" y2="481.54" stroke="#111" stroke-width="0.7"/>
<line x1="41.20" y1="480.36" x2="42.80" y2="480.36" stroke="#111" stroke-width="0.7"/>
<line x1="41.20" y1="472.35" x2="42.80" y2="472.35" stroke="#111" stroke-width="0.7"/>
<line x1="41.20" y1="468.28" x2="42.80" y2="468.28" stroke="#111" stroke-width="0.7"/>
<line x1="41.20" y1="465.39" x2="42.80" y2="465.39" stroke="#111" stroke-width="0.7"/>
<line x1="41.20" y1="463.15" x2="42.80" y2="463.15" stroke="#111" stroke-width="0.7"/>
<line x1="41.20" y1="461.32" x2="42.80" y2="461.32" stroke="#111" stroke-width="0.7"/>
<line x1="41.20" y1="459.78" x2="42.80" y2="459.78" stroke="#111" stroke-width="0.7"/>
<line x1="41.20" y1="458.44" x2="42.80" y2="458.44" stroke="#111" stroke-width="0.7"/>
<line x1="41.20" y1="457.26" x2="42.80" y2="457.26" stroke="#111" stroke-width="0.7"/>
<line x1="41.20" y1="449.25" x2="42.80" y2="449.25" stroke="#111" stroke-width="0.7"/>
<line x1="41.20" y1="445.18" x2="42.80" y2="445.18" stroke="#111" stroke-width="0.7"/>
<line x1="41.20" y1="442.29" x2="42.80" y2="442.29" stroke="#111" stroke-width="0.7"/>
<line x1="41.20" y1="440.05" x2="42.80" y2="440.05" stroke="#111" stroke-width="0.7"/>
<line x1="41.20" y1="438.22" x2="42.80" y2="438.22" stroke="#111" stroke-width="0.7"/>
<line x1="41.20" y1="436.68" x2="42.80" y2="436.68" stroke="#111" stroke-width="0.7"/>
<line x1="41.20" y1="435.34" x2="42.80" y2="435.34" stroke="#111" stroke-width="0.7"/>
<line x1="41.20" y1="434.16" x2="42.80" y2="434.16" stroke="#111" stroke-width="0.7"/>
<line x1="42.80" y1="525.50" x2="42.80" y2="528.10" stroke="#111" stroke-width="0.9"/>
<text x="42.80" y="536.80" font-size="5.7" text-anchor="middle" stroke-width="0.22">0</text>
<line x1="53.70" y1="525.50" x2="53.70" y2="528.10" stroke="#111" stroke-width="0.9"/>
<text x="53.70" y="536.80" font-size="5.7" text-anchor="middle" stroke-width="0.22">2</text>
<line x1="64.60" y1="525.50" x2="64.60" y2="528.10" stroke="#111" stroke-width="0.9"/>
<text x="64.60" y="536.80" font-size="5.7" text-anchor="middle" stroke-width="0.22">4</text>
<line x1="75.50" y1="525.50" x2="75.50" y2="528.10" stroke="#111" stroke-width="0.9"/>
<text x="75.50" y="536.80" font-size="5.7" text-anchor="middle" stroke-width="0.22">6</text>
<line x1="86.40" y1="525.50" x2="86.40" y2="528.10" stroke="#111" stroke-width="0.9"/>
<text x="86.40" y="536.80" font-size="5.7" text-anchor="middle" stroke-width="0.22">8</text>
<line x1="97.30" y1="525.50" x2="97.30" y2="528.10" stroke="#111" stroke-width="0.9"/>
<text x="97.30" y="536.80" font-size="5.7" text-anchor="middle" textLength="6.02" lengthAdjust="spacingAndGlyphs" stroke-width="0.22">10</text>
<line x1="108.20" y1="525.50" x2="108.20" y2="528.10" stroke="#111" stroke-width="0.9"/>
<text x="108.20" y="536.80" font-size="5.7" text-anchor="middle" textLength="6.02" lengthAdjust="spacingAndGlyphs" stroke-width="0.22">12</text>
<line x1="119.10" y1="525.50" x2="119.10" y2="528.10" stroke="#111" stroke-width="0.9"/>
<text x="119.10" y="536.80" font-size="5.7" text-anchor="middle" textLength="6.02" lengthAdjust="spacingAndGlyphs" stroke-width="0.22">14</text>
<line x1="130.00" y1="525.50" x2="130.00" y2="528.10" stroke="#111" stroke-width="0.9"/>
<text x="130.00" y="536.80" font-size="5.7" text-anchor="middle" textLength="6.02" lengthAdjust="spacingAndGlyphs" stroke-width="0.22">16</text>
<line x1="140.90" y1="525.50" x2="140.90" y2="528.10" stroke="#111" stroke-width="0.9"/>
<text x="140.90" y="536.80" font-size="5.7" text-anchor="middle" textLength="6.02" lengthAdjust="spacingAndGlyphs" stroke-width="0.22">18</text>
<line x1="151.80" y1="525.50" x2="151.80" y2="528.10" stroke="#111" stroke-width="0.9"/>
<text x="151.80" y="536.80" font-size="5.7" text-anchor="middle" textLength="6.02" lengthAdjust="spacingAndGlyphs" stroke-width="0.22">20</text>
<line x1="162.70" y1="525.50" x2="162.70" y2="528.10" stroke="#111" stroke-width="0.9"/>
<text x="162.70" y="536.80" font-size="5.7" text-anchor="middle" textLength="6.02" lengthAdjust="spacingAndGlyphs" stroke-width="0.22">22</text>
<line x1="173.60" y1="525.50" x2="173.60" y2="528.10" stroke="#111" stroke-width="0.9"/>
<text x="173.60" y="536.80" font-size="5.7" text-anchor="middle" textLength="6.02" lengthAdjust="spacingAndGlyphs" stroke-width="0.22">24</text>
<text x="109.90" y="548.60" font-size="7.0" text-anchor="middle" textLength="93.70" lengthAdjust="spacingAndGlyphs" stroke-width="0.14">Time after administration (hour)</text>
<text x="14.00" y="477.50" font-size="6.8" text-anchor="middle" textLength="89.00" lengthAdjust="spacingAndGlyphs" transform="rotate(-90 14.00 477.50)" stroke-width="0.14">Plasma concentration (ng/mL)</text>
<polyline points="97.30,464.69 140.90,456.30 173.60,482.32" fill="none" stroke="#34507e" stroke-width="1.6" stroke-linejoin="round"/>
<polyline points="64.60,453.50 86.40,465.80 97.30,470.81 119.10,480.47 140.90,489.01 173.60,492.81" fill="none" stroke="#2e1f38" stroke-width="1.6" stroke-linejoin="round"/>
<polyline points="86.40,475.43 97.30,484.94 119.10,490.58 173.60,507.52" fill="none" stroke="#c0267a" stroke-width="1.5" stroke-linejoin="round" stroke-dasharray="1.5,0.9"/>
<line x1="64.60" y1="449.76" x2="64.60" y2="458.44" stroke="#222" stroke-width="0.8"/>
<line x1="62.00" y1="449.76" x2="67.20" y2="449.76" stroke="#222" stroke-width="0.8"/>
<line x1="62.00" y1="458.44" x2="67.20" y2="458.44" stroke="#222" stroke-width="0.8"/>
<line x1="97.30" y1="460.68" x2="97.30" y2="478.34" stroke="#222" stroke-width="0.8"/>
<line x1="94.90" y1="460.68" x2="99.70" y2="460.68" stroke="#222" stroke-width="0.8"/>
<line x1="94.90" y1="478.34" x2="99.70" y2="478.34" stroke="#222" stroke-width="0.8"/>
<line x1="97.30" y1="478.34" x2="97.30" y2="482.19" stroke="#222" stroke-width="0.7"/>
<line x1="95.10" y1="478.34" x2="99.50" y2="478.34" stroke="#222" stroke-width="0.7"/>
<line x1="95.10" y1="482.19" x2="99.50" y2="482.19" stroke="#222" stroke-width="0.7"/>
<line x1="119.10" y1="477.47" x2="119.10" y2="483.62" stroke="#222" stroke-width="0.7"/>
<line x1="116.90" y1="477.47" x2="121.30" y2="477.47" stroke="#222" stroke-width="0.7"/>
<line x1="116.90" y1="483.62" x2="121.30" y2="483.62" stroke="#222" stroke-width="0.7"/>
<line x1="140.90" y1="452.97" x2="140.90" y2="465.02" stroke="#222" stroke-width="0.8"/>
<line x1="138.30" y1="452.97" x2="143.50" y2="452.97" stroke="#222" stroke-width="0.8"/>
<line x1="138.30" y1="465.02" x2="143.50" y2="465.02" stroke="#222" stroke-width="0.8"/>
<line x1="173.60" y1="476.14" x2="173.60" y2="511.59" stroke="#222" stroke-width="0.8"/>
<line x1="171.00" y1="476.14" x2="176.20" y2="476.14" stroke="#222" stroke-width="0.8"/>
<line x1="171.00" y1="511.59" x2="176.20" y2="511.59" stroke="#222" stroke-width="0.8"/>
<path d="M97.30,467.68 L100.29,462.45 L94.31,462.45Z" fill="#3f5f8e" stroke="#1a2a4a" stroke-width="0.6"/>
<path d="M140.90,459.29 L143.89,454.06 L137.91,454.06Z" fill="#3f5f8e" stroke="#1a2a4a" stroke-width="0.6"/>
<path d="M173.60,485.31 L176.59,480.08 L170.61,480.08Z" fill="#3f5f8e" stroke="#1a2a4a" stroke-width="0.6"/>
<path d="M64.60,450.12 L67.98,453.50 L64.60,456.88 L61.22,453.50Z" fill="#4a3a5c" stroke="#111" stroke-width="0.7"/>
<path d="M86.40,462.42 L89.78,465.80 L86.40,469.18 L83.02,465.80Z" fill="#4a3a5c" stroke="#111" stroke-width="0.7"/>
<path d="M97.30,467.43 L100.68,470.81 L97.30,474.19 L93.92,470.81Z" fill="#4a3a5c" stroke="#111" stroke-width="0.7"/>
<path d="M119.10,477.09 L122.48,480.47 L119.10,483.85 L115.72,480.47Z" fill="#4a3a5c" stroke="#111" stroke-width="0.7"/>
<path d="M140.90,485.63 L144.28,489.01 L140.90,492.39 L137.52,489.01Z" fill="#4a3a5c" stroke="#111" stroke-width="0.7"/>
<path d="M173.60,489.43 L176.98,492.81 L173.60,496.19 L170.22,492.81Z" fill="#4a3a5c" stroke="#111" stroke-width="0.7"/>
<path d="M86.40,472.05 L89.78,475.43 L86.40,478.81 L83.02,475.43Z" fill="#c02a72" stroke="#3a1020" stroke-width="0.7"/>
<path d="M97.30,481.56 L100.68,484.94 L97.30,488.32 L93.92,484.94Z" fill="#c02a72" stroke="#3a1020" stroke-width="0.7"/>
<path d="M119.10,487.20 L122.48,490.58 L119.10,493.96 L115.72,490.58Z" fill="#c02a72" stroke="#3a1020" stroke-width="0.7"/>
<path d="M173.60,504.14 L176.98,507.52 L173.60,510.90 L170.22,507.52Z" fill="#c02a72" stroke="#3a1020" stroke-width="0.7"/>
<path d="M173.60,500.37 L176.59,495.13 L170.61,495.13Z" fill="#4f7a5e" stroke="#1a2a2a" stroke-width="0.6"/>
<path d="M74.20,406.70 L78.10,410.60 L74.20,414.50 L70.30,410.60Z" fill="#4a3a5c" stroke="#111" stroke-width="0.7"/>
<text x="82.50" y="412.60" font-size="6.3" textLength="99.40" lengthAdjust="spacingAndGlyphs" stroke-width="0.14">FF-10101 10 mg/kg, single, plasma</text>
<path d="M74.20,416.60 L78.10,420.50 L74.20,424.40 L70.30,420.50Z" fill="#c02a72" stroke="#3a1020" stroke-width="0.7"/>
<text x="82.50" y="422.50" font-size="6.3" textLength="117.50" lengthAdjust="spacingAndGlyphs" stroke-width="0.14">FF-10101 10 mg/kg, single, bone marrow</text>
<line x1="68.60" y1="430.30" x2="79.60" y2="430.30" stroke="#34507e" stroke-width="1.6"/>
<path d="M74.20,433.75 L77.65,427.71 L70.75,427.71Z" fill="#3f5f8e" stroke="#1a2a4a" stroke-width="0.7"/>
<text x="82.50" y="432.30" font-size="6.3" textLength="98.10" lengthAdjust="spacingAndGlyphs" stroke-width="0.14">FF-10101 10 mg/kg, twice, plasma</text>
<path d="M74.20,443.45 L77.65,437.41 L70.75,437.41Z" fill="#555a58" stroke="#111" stroke-width="0.7"/>
<text x="82.50" y="442.00" font-size="6.3" textLength="116.00" lengthAdjust="spacingAndGlyphs" stroke-width="0.14">FF-10101 10 mg/kg, twice, bone marrow</text>
<text x="217.50" y="401.80" font-size="11.2" font-weight="bold" fill="#111" stroke-width="0">F</text>
<text x="268.75" y="423.80" font-size="6.8" text-anchor="middle" textLength="16.30" lengthAdjust="spacingAndGlyphs" stroke-width="0.14">W/O</text>
<text x="269.25" y="431.90" font-size="6.8" text-anchor="middle" textLength="22.30" lengthAdjust="spacingAndGlyphs" stroke-width="0.14">admin.</text>
<text x="305.80" y="416.30" font-size="6.8" textLength="88.10" lengthAdjust="spacingAndGlyphs" stroke-width="0.14">FF-10101 10 mg/kg, single</text>
<line x1="281.70" y1="421.70" x2="417.20" y2="421.70" stroke="#111" stroke-width="1.25"/>
<text x="429.40" y="416.00" font-size="6.8" text-anchor="middle" textLength="32.80" lengthAdjust="spacingAndGlyphs" stroke-width="0.14">10 mg/kg,</text>
<text x="429.40" y="424.00" font-size="6.8" text-anchor="middle" textLength="18.00" lengthAdjust="spacingAndGlyphs" stroke-width="0.14">twice</text>
<text x="292.30" y="432.30" font-size="6.8" text-anchor="middle" textLength="13.40" lengthAdjust="spacingAndGlyphs" stroke-width="0.14">4 hr</text>
<text x="315.60" y="432.30" font-size="6.8" text-anchor="middle" stroke-width="0.14">8hr</text>
<text x="338.00" y="432.30" font-size="6.8" text-anchor="middle" textLength="14.40" lengthAdjust="spacingAndGlyphs" stroke-width="0.14">10hr</text>
<text x="360.65" y="432.30" font-size="6.8" text-anchor="middle" stroke-width="0.14">14hr</text>
<text x="383.90" y="432.30" font-size="6.8" text-anchor="middle" stroke-width="0.14">18hr</text>
<text x="406.10" y="432.30" font-size="6.8" text-anchor="middle" stroke-width="0.14">24hr</text>
<text x="429.40" y="432.30" font-size="6.8" text-anchor="middle" stroke-width="0.14">24hr</text>
<line x1="258.00" y1="438.60" x2="279.80" y2="438.60" stroke="#111" stroke-width="1.3"/>
<line x1="282.30" y1="438.60" x2="302.90" y2="438.60" stroke="#111" stroke-width="1.3"/>
<line x1="304.80" y1="438.60" x2="326.00" y2="438.60" stroke="#111" stroke-width="1.3"/>
<line x1="328.80" y1="438.60" x2="347.50" y2="438.60" stroke="#111" stroke-width="1.3"/>
<line x1="349.80" y1="438.60" x2="370.70" y2="438.60" stroke="#111" stroke-width="1.3"/>
<line x1="373.40" y1="438.60" x2="392.90" y2="438.60" stroke="#111" stroke-width="1.3"/>
<line x1="396.00" y1="438.60" x2="415.70" y2="438.60" stroke="#111" stroke-width="1.3"/>
<line x1="419.30" y1="438.60" x2="439.40" y2="438.60" stroke="#111" stroke-width="1.3"/>
<defs><filter id="bl" x="-20%" y="-50%" width="140%" height="200%"><feGaussianBlur stdDeviation="0.55"/></filter></defs>
<text x="250.80" y="452.20" font-size="6.8" text-anchor="end" textLength="22.30" lengthAdjust="spacingAndGlyphs" stroke-width="0.14">p-FLT3</text>
<rect x="255.50" y="445.10" width="187.40" height="7.40" fill="#fdfdfd" stroke="#111" stroke-width="1.8"/>
<g filter="url(#bl)">
<rect x="257.40" y="447.00" width="6.8" height="3.8" rx="1.0" fill="#313131"/>
<rect x="265.03" y="447.00" width="6.8" height="3.8" rx="1.0" fill="#313131"/>
<rect x="272.66" y="447.00" width="6.8" height="3.8" rx="1.0" fill="#3d3d3d"/>
<rect x="280.29" y="447.00" width="6.8" height="3.8" rx="1.0" fill="#e1e1e1"/>
<rect x="287.92" y="447.00" width="6.8" height="3.8" rx="1.0" fill="#dcdcdc"/>
<rect x="295.55" y="447.00" width="6.8" height="3.8" rx="1.0" fill="#e1e1e1"/>
<rect x="303.18" y="447.00" width="6.8" height="3.8" rx="1.0" fill="#d7d7d7"/>
<rect x="310.81" y="447.00" width="6.8" height="3.8" rx="1.0" fill="#b7b7b7"/>
<rect x="318.44" y="447.00" width="6.8" height="3.8" rx="1.0" fill="#b7b7b7"/>
<rect x="326.07" y="447.00" width="6.8" height="3.8" rx="1.0" fill="#d0d0d0"/>
<rect x="333.70" y="447.00" width="6.8" height="3.8" rx="1.0" fill="#9f9f9f"/>
<rect x="341.33" y="447.00" width="6.8" height="3.8" rx="1.0" fill="#7a7a7a"/>
<rect x="348.96" y="447.00" width="6.8" height="3.8" rx="1.0" fill="#939393"/>
<rect x="356.59" y="447.00" width="6.8" height="3.8" rx="1.0" fill="#242424"/>
<rect x="364.22" y="447.00" width="6.8" height="3.8" rx="1.0" fill="#6e6e6e"/>
<rect x="371.85" y="447.00" width="6.8" height="3.8" rx="1.0" fill="#313131"/>
<rect x="379.48" y="447.00" width="6.8" height="3.8" rx="1.0" fill="#494949"/>
<rect x="387.11" y="447.00" width="6.8" height="3.8" rx="1.0" fill="#3d3d3d"/>
<rect x="394.74" y="447.00" width="6.8" height="3.8" rx="1.0" fill="#555555"/>
<rect x="402.37" y="447.00" width="6.8" height="3.8" rx="1.0" fill="#313131"/>
<rect x="410.00" y="447.00" width="6.8" height="3.8" rx="1.0" fill="#939393"/>
<rect x="417.63" y="447.00" width="6.8" height="3.8" rx="1.0" fill="#ababab"/>
<rect x="425.26" y="447.00" width="6.8" height="3.8" rx="1.0" fill="#d7d7d7"/>
<rect x="432.89" y="447.00" width="6.8" height="3.8" rx="1.0" fill="#ababab"/>
</g>
<text x="250.80" y="465.70" font-size="6.8" text-anchor="end" stroke-width="0.14">t-FLT3</text>
<rect x="255.50" y="458.10" width="187.40" height="10.50" fill="#fdfdfd" stroke="#111" stroke-width="1.8"/>
<g filter="url(#bl)">
<rect x="257.40" y="459.80" width="6.8" height="3.3" rx="0.8" fill="#242424"/>
<rect x="257.40" y="463.70" width="6.8" height="3.0" rx="0.8" fill="#242424"/>
<rect x="265.03" y="459.80" width="6.8" height="3.3" rx="0.8" fill="#242424"/>
<rect x="265.03" y="463.70" width="6.8" height="3.0" rx="0.8" fill="#242424"/>
<rect x="272.66" y="459.80" width="6.8" height="3.3" rx="0.8" fill="#181818"/>
<rect x="272.66" y="463.70" width="6.8" height="3.0" rx="0.8" fill="#181818"/>
<rect x="280.29" y="459.80" width="6.8" height="3.3" rx="0.8" fill="#0c0c0c"/>
<rect x="280.29" y="463.70" width="6.8" height="3.0" rx="0.8" fill="#0c0c0c"/>
<rect x="287.92" y="459.80" width="6.8" height="3.3" rx="0.8" fill="#0c0c0c"/>
<rect x="287.92" y="463.70" width="6.8" height="3.0" rx="0.8" fill="#0c0c0c"/>
<rect x="295.55" y="459.80" width="6.8" height="3.3" rx="0.8" fill="#0c0c0c"/>
<rect x="295.55" y="463.70" width="6.8" height="3.0" rx="0.8" fill="#0c0c0c"/>
<rect x="303.18" y="459.80" width="6.8" height="3.3" rx="0.8" fill="#0c0c0c"/>
<rect x="303.18" y="463.70" width="6.8" height="3.0" rx="0.8" fill="#0c0c0c"/>
<rect x="310.81" y="459.80" width="6.8" height="3.3" rx="0.8" fill="#0c0c0c"/>
<rect x="310.81" y="463.70" width="6.8" height="3.0" rx="0.8" fill="#0c0c0c"/>
<rect x="318.44" y="459.80" width="6.8" height="3.3" rx="0.8" fill="#0c0c0c"/>
<rect x="318.44" y="463.70" width="6.8" height="3.0" rx="0.8" fill="#0c0c0c"/>
<rect x="326.07" y="459.80" width="6.8" height="3.3" rx="0.8" fill="#0c0c0c"/>
<rect x="326.07" y="463.70" width="6.8" height="3.0" rx="0.8" fill="#0c0c0c"/>
<rect x="333.70" y="459.80" width="6.8" height="3.3" rx="0.8" fill="#0c0c0c"/>
<rect x="333.70" y="463.70" width="6.8" height="3.0" rx="0.8" fill="#0c0c0c"/>
<rect x="341.33" y="459.80" width="6.8" height="3.3" rx="0.8" fill="#0c0c0c"/>
<rect x="341.33" y="463.70" width="6.8" height="3.0" rx="0.8" fill="#0c0c0c"/>
<rect x="348.96" y="459.80" width="6.8" height="3.3" rx="0.8" fill="#0c0c0c"/>
<rect x="348.96" y="463.70" width="6.8" height="3.0" rx="0.8" fill="#0c0c0c"/>
<rect x="356.59" y="459.80" width="6.8" height="3.3" rx="0.8" fill="#0c0c0c"/>
<rect x="356.59" y="463.70" width="6.8" height="3.0" rx="0.8" fill="#0c0c0c"/>
<rect x="364.22" y="459.80" width="6.8" height="3.3" rx="0.8" fill="#0c0c0c"/>
<rect x="364.22" y="463.70" width="6.8" height="3.0" rx="0.8" fill="#0c0c0c"/>
<rect x="371.85" y="459.80" width="6.8" height="3.3" rx="0.8" fill="#0c0c0c"/>
<rect x="371.85" y="463.70" width="6.8" height="3.0" rx="0.8" fill="#0c0c0c"/>
<rect x="379.48" y="459.80" width="6.8" height="3.3" rx="0.8" fill="#0c0c0c"/>
<rect x="379.48" y="463.70" width="6.8" height="3.0" rx="0.8" fill="#0c0c0c"/>
<rect x="387.11" y="459.80" width="6.8" height="3.3" rx="0.8" fill="#0c0c0c"/>
<rect x="387.11" y="463.70" width="6.8" height="3.0" rx="0.8" fill="#0c0c0c"/>
<rect x="394.74" y="459.80" width="6.8" height="3.3" rx="0.8" fill="#0c0c0c"/>
<rect x="394.74" y="463.70" width="6.8" height="3.0" rx="0.8" fill="#0c0c0c"/>
<rect x="402.37" y="459.80" width="6.8" height="3.3" rx="0.8" fill="#0c0c0c"/>
<rect x="402.37" y="463.70" width="6.8" height="3.0" rx="0.8" fill="#0c0c0c"/>
<rect x="410.00" y="459.80" width="6.8" height="3.3" rx="0.8" fill="#0c0c0c"/>
<rect x="410.00" y="463.70" width="6.8" height="3.0" rx="0.8" fill="#0c0c0c"/>
<rect x="417.63" y="459.80" width="6.8" height="3.3" rx="0.8" fill="#0c0c0c"/>
<rect x="417.63" y="463.70" width="6.8" height="3.0" rx="0.8" fill="#0c0c0c"/>
<rect x="425.26" y="459.80" width="6.8" height="3.3" rx="0.8" fill="#0c0c0c"/>
<rect x="425.26" y="463.70" width="6.8" height="3.0" rx="0.8" fill="#0c0c0c"/>
<rect x="432.89" y="459.80" width="6.8" height="3.3" rx="0.8" fill="#0c0c0c"/>
<rect x="432.89" y="463.70" width="6.8" height="3.0" rx="0.8" fill="#0c0c0c"/>
</g>
<text x="250.80" y="484.90" font-size="6.8" text-anchor="end" textLength="27.00" lengthAdjust="spacingAndGlyphs" stroke-width="0.14">p-STAT5</text>
<rect x="255.50" y="478.10" width="187.40" height="9.00" fill="#fdfdfd" stroke="#111" stroke-width="1.8"/>
<g filter="url(#bl)">
<rect x="257.40" y="480.60" width="6.8" height="3.0" rx="1.0" fill="#626262"/>
<rect x="265.03" y="480.60" width="6.8" height="3.0" rx="1.0" fill="#626262"/>
<rect x="272.66" y="480.60" width="6.8" height="3.0" rx="1.0" fill="#626262"/>
<rect x="280.29" y="480.60" width="6.8" height="3.0" rx="1.0" fill="#e1e1e1"/>
<rect x="287.92" y="480.60" width="6.8" height="3.0" rx="1.0" fill="#e1e1e1"/>
<rect x="295.55" y="480.60" width="6.8" height="3.0" rx="1.0" fill="#e1e1e1"/>
<rect x="303.18" y="480.60" width="6.8" height="3.0" rx="1.0" fill="#b7b7b7"/>
<rect x="310.81" y="480.60" width="6.8" height="3.0" rx="1.0" fill="#7a7a7a"/>
<rect x="318.44" y="480.60" width="6.8" height="3.0" rx="1.0" fill="#6e6e6e"/>
<rect x="326.07" y="480.60" width="6.8" height="3.0" rx="1.0" fill="#d0d0d0"/>
<rect x="333.70" y="480.60" width="6.8" height="3.0" rx="1.0" fill="#939393"/>
<rect x="341.33" y="480.60" width="6.8" height="3.0" rx="1.0" fill="#626262"/>
<rect x="348.96" y="480.60" width="6.8" height="3.0" rx="1.0" fill="#3d3d3d"/>
<rect x="356.59" y="480.60" width="6.8" height="3.0" rx="1.0" fill="#494949"/>
<rect x="364.22" y="480.60" width="6.8" height="3.0" rx="1.0" fill="#494949"/>
<rect x="371.85" y="480.60" width="6.8" height="3.0" rx="1.0" fill="#3d3d3d"/>
<rect x="379.48" y="480.60" width="6.8" height="3.0" rx="1.0" fill="#494949"/>
<rect x="387.11" y="480.60" width="6.8" height="3.0" rx="1.0" fill="#494949"/>
<rect x="394.74" y="480.60" width="6.8" height="3.0" rx="1.0" fill="#3d3d3d"/>
<rect x="402.37" y="480.60" width="6.8" height="3.0" rx="1.0" fill="#494949"/>
<rect x="410.00" y="480.60" width="6.8" height="3.0" rx="1.0" fill="#626262"/>
<rect x="417.63" y="480.60" width="6.8" height="3.0" rx="1.0" fill="#626262"/>
<rect x="425.26" y="480.60" width="6.8" height="3.0" rx="1.0" fill="#ababab"/>
<rect x="432.89" y="480.60" width="6.8" height="3.0" rx="1.0" fill="#6e6e6e"/>
</g>
<text x="250.80" y="498.80" font-size="6.8" text-anchor="end" stroke-width="0.14">t-STAT5</text>
<rect x="255.50" y="492.00" width="187.40" height="8.90" fill="#fdfdfd" stroke="#111" stroke-width="1.8"/>
<g filter="url(#bl)">
<ellipse cx="260.80" cy="496.50" rx="3.5" ry="1.8" fill="#0c0c0c"/>
<ellipse cx="268.43" cy="496.50" rx="3.5" ry="1.8" fill="#0c0c0c"/>
<ellipse cx="276.06" cy="496.50" rx="3.5" ry="1.8" fill="#0c0c0c"/>
<ellipse cx="283.69" cy="496.50" rx="3.5" ry="1.8" fill="#0c0c0c"/>
<ellipse cx="291.32" cy="496.50" rx="3.5" ry="1.8" fill="#0c0c0c"/>
<ellipse cx="298.95" cy="496.50" rx="3.5" ry="1.8" fill="#0c0c0c"/>
<ellipse cx="306.58" cy="496.50" rx="3.5" ry="1.8" fill="#0c0c0c"/>
<ellipse cx="314.21" cy="496.50" rx="3.5" ry="1.8" fill="#0c0c0c"/>
<ellipse cx="321.84" cy="496.50" rx="3.5" ry="1.8" fill="#0c0c0c"/>
<ellipse cx="329.47" cy="496.50" rx="3.5" ry="1.8" fill="#0c0c0c"/>
<ellipse cx="337.10" cy="496.50" rx="3.5" ry="1.8" fill="#0c0c0c"/>
<ellipse cx="344.73" cy="496.50" rx="3.5" ry="1.8" fill="#0c0c0c"/>
<ellipse cx="352.36" cy="496.50" rx="3.5" ry="1.8" fill="#0c0c0c"/>
<ellipse cx="359.99" cy="496.50" rx="3.5" ry="1.8" fill="#0c0c0c"/>
<ellipse cx="367.62" cy="496.50" rx="3.5" ry="1.8" fill="#0c0c0c"/>
<ellipse cx="375.25" cy="496.50" rx="3.5" ry="1.8" fill="#0c0c0c"/>
<ellipse cx="382.88" cy="496.50" rx="3.5" ry="1.8" fill="#0c0c0c"/>
<ellipse cx="390.51" cy="496.50" rx="3.5" ry="1.8" fill="#0c0c0c"/>
<ellipse cx="398.14" cy="496.50" rx="3.5" ry="1.8" fill="#0c0c0c"/>
<ellipse cx="405.77" cy="496.50" rx="3.5" ry="1.8" fill="#0c0c0c"/>
<ellipse cx="413.40" cy="496.50" rx="3.5" ry="1.8" fill="#0c0c0c"/>
<ellipse cx="421.03" cy="496.50" rx="3.5" ry="1.8" fill="#0c0c0c"/>
<ellipse cx="428.66" cy="496.50" rx="3.5" ry="1.8" fill="#0c0c0c"/>
<ellipse cx="436.29" cy="496.50" rx="3.5" ry="1.8" fill="#0c0c0c"/>
</g>
<text x="7.40" y="575.40" font-size="11.2" font-weight="bold" fill="#111" stroke-width="0">G</text>
<line x1="36.80" y1="586.30" x2="36.80" y2="666.90" stroke="#111" stroke-width="1.25"/>
<line x1="36.20" y1="666.30" x2="158.50" y2="666.30" stroke="#111" stroke-width="1.25"/>
<line x1="34.00" y1="666.30" x2="36.80" y2="666.30" stroke="#111" stroke-width="0.9"/>
<text x="30.70" y="668.30" font-size="6.1" text-anchor="end" textLength="8.06" lengthAdjust="spacingAndGlyphs" stroke-width="0.22">0.0</text>
<line x1="34.00" y1="650.68" x2="36.80" y2="650.68" stroke="#111" stroke-width="0.9"/>
<text x="30.70" y="652.68" font-size="6.1" text-anchor="end" textLength="8.06" lengthAdjust="spacingAndGlyphs" stroke-width="0.22">0.2</text>
<line x1="34.00" y1="635.06" x2="36.80" y2="635.06" stroke="#111" stroke-width="0.9"/>
<text x="30.70" y="637.06" font-size="6.1" text-anchor="end" textLength="8.06" lengthAdjust="spacingAndGlyphs" stroke-width="0.22">0.4</text>
<line x1="34.00" y1="619.44" x2="36.80" y2="619.44" stroke="#111" stroke-width="0.9"/>
<text x="30.70" y="621.44" font-size="6.1" text-anchor="end" textLength="8.06" lengthAdjust="spacingAndGlyphs" stroke-width="0.22">0.6</text>
<line x1="34.00" y1="603.82" x2="36.80" y2="603.82" stroke="#111" stroke-width="0.9"/>
<text x="30.70" y="605.82" font-size="6.1" text-anchor="end" textLength="8.06" lengthAdjust="spacingAndGlyphs" stroke-width="0.22">0.8</text>
<line x1="34.00" y1="588.20" x2="36.80" y2="588.20" stroke="#111" stroke-width="0.9"/>
<text x="30.70" y="590.20" font-size="6.1" text-anchor="end" textLength="8.06" lengthAdjust="spacingAndGlyphs" stroke-width="0.22">1.0</text>
<line x1="44.40" y1="666.30" x2="44.40" y2="668.90" stroke="#111" stroke-width="0.9"/>
<text x="44.40" y="677.80" font-size="6.1" text-anchor="middle" stroke-width="0.22">0</text>
<line x1="60.18" y1="666.30" x2="60.18" y2="668.90" stroke="#111" stroke-width="0.9"/>
<text x="60.18" y="677.80" font-size="6.1" text-anchor="middle" stroke-width="0.22">2</text>
<line x1="75.96" y1="666.30" x2="75.96" y2="668.90" stroke="#111" stroke-width="0.9"/>
<text x="75.96" y="677.80" font-size="6.1" text-anchor="middle" stroke-width="0.22">4</text>
<line x1="91.74" y1="666.30" x2="91.74" y2="668.90" stroke="#111" stroke-width="0.9"/>
<text x="91.74" y="677.80" font-size="6.1" text-anchor="middle" stroke-width="0.22">6</text>
<line x1="107.52" y1="666.30" x2="107.52" y2="668.90" stroke="#111" stroke-width="0.9"/>
<text x="107.52" y="677.80" font-size="6.1" text-anchor="middle" stroke-width="0.22">8</text>
<line x1="123.30" y1="666.30" x2="123.30" y2="668.90" stroke="#111" stroke-width="0.9"/>
<text x="123.30" y="677.80" font-size="6.1" text-anchor="middle" textLength="6.45" lengthAdjust="spacingAndGlyphs" stroke-width="0.22">10</text>
<line x1="139.08" y1="666.30" x2="139.08" y2="668.90" stroke="#111" stroke-width="0.9"/>
<text x="139.08" y="677.80" font-size="6.1" text-anchor="middle" textLength="6.45" lengthAdjust="spacingAndGlyphs" stroke-width="0.22">12</text>
<line x1="154.86" y1="666.30" x2="154.86" y2="668.90" stroke="#111" stroke-width="0.9"/>
<text x="154.86" y="677.80" font-size="6.1" text-anchor="middle" textLength="6.45" lengthAdjust="spacingAndGlyphs" stroke-width="0.22">14</text>
<text x="97.50" y="689.30" font-size="7.0" text-anchor="middle" textLength="66.30" lengthAdjust="spacingAndGlyphs" stroke-width="0.14">Days of administration</text>
<text x="15.50" y="626.50" font-size="6.8" text-anchor="middle" textLength="53.40" lengthAdjust="spacingAndGlyphs" transform="rotate(-90 15.50 626.50)" stroke-width="0.14">hCD45+ (%) in PB</text>
<polyline points="36.51,648.34 91.74,664.74 146.97,664.74" fill="none" stroke="#7a1a3a" stroke-width="1.7" stroke-linejoin="round"/>
<polyline points="36.51,647.56 91.74,666.30 146.97,666.30" fill="none" stroke="#34507e" stroke-width="1.7" stroke-linejoin="round"/>
<polyline points="36.51,649.12 91.74,645.21 146.97,623.74" fill="none" stroke="#e3a23b" stroke-width="1.5" stroke-linejoin="round"/>
<line x1="36.51" y1="632.33" x2="36.51" y2="666.30" stroke="#111" stroke-width="0.9"/>
<line x1="33.31" y1="632.33" x2="39.71" y2="632.33" stroke="#111" stroke-width="0.9"/>
<line x1="33.31" y1="666.30" x2="39.71" y2="666.30" stroke="#111" stroke-width="0.9"/>
<line x1="91.74" y1="621.78" x2="91.74" y2="666.30" stroke="#222" stroke-width="0.9"/>
<line x1="89.34" y1="621.78" x2="94.14" y2="621.78" stroke="#222" stroke-width="0.9"/>
<line x1="89.34" y1="666.30" x2="94.14" y2="666.30" stroke="#222" stroke-width="0.9"/>
<line x1="146.97" y1="590.54" x2="146.97" y2="656.93" stroke="#222" stroke-width="0.9"/>
<line x1="144.57" y1="590.54" x2="149.37" y2="590.54" stroke="#222" stroke-width="0.9"/>
<line x1="144.57" y1="656.93" x2="149.37" y2="656.93" stroke="#222" stroke-width="0.9"/>
<circle cx="36.51" cy="649.12" r="2.60" fill="#e8a840" stroke="#2a1a10" stroke-width="0.9"/>
<path d="M36.51,650.16 L39.50,644.92 L33.52,644.92Z" fill="#3f5f8e" stroke="#111" stroke-width="0.6"/>
<circle cx="91.74" cy="645.21" r="2.60" fill="#e8a840" stroke="#2a1a10" stroke-width="0.9"/>
<circle cx="146.97" cy="623.74" r="2.60" fill="#e8a840" stroke="#2a1a10" stroke-width="0.9"/>
<path d="M91.74,668.51 L94.73,663.28 L88.75,663.28Z" fill="#3f5f8e" stroke="#111" stroke-width="0.6"/>
<path d="M146.97,668.51 L149.96,663.28 L143.98,663.28Z" fill="#3f5f8e" stroke="#111" stroke-width="0.6"/>
<path d="M154.90,655.55L154.90,657.85M155.90,656.12L153.90,657.28M155.90,657.28L153.90,656.12" stroke="#222" stroke-width="0.6"/>
<path d="M154.90,662.25L154.90,664.55M155.90,662.82L153.90,663.98M155.90,663.98L153.90,662.82" stroke="#222" stroke-width="0.6"/>
<line x1="44.00" y1="584.80" x2="54.00" y2="584.80" stroke="#e3a23b" stroke-width="1.6"/>
<circle cx="48.90" cy="584.80" r="2.70" fill="#e8a840" stroke="#2a1a10" stroke-width="0.9"/>
<text x="56.30" y="586.80" font-size="6.3" textLength="20.00" lengthAdjust="spacingAndGlyphs" stroke-width="0.14">Vehicle</text>
<line x1="44.00" y1="594.20" x2="54.00" y2="594.20" stroke="#34507e" stroke-width="1.6"/>
<path d="M48.90,597.31 L52.00,591.87 L45.80,591.87Z" fill="#3f5f8e" stroke="#111" stroke-width="0.6"/>
<text x="56.30" y="596.20" font-size="6.3" textLength="73.00" lengthAdjust="spacingAndGlyphs" stroke-width="0.14">FF-10101 10 mg/kg, b.i.d.</text>
<line x1="44.00" y1="604.30" x2="54.00" y2="604.30" stroke="#7a1a3a" stroke-width="1.6"/>
<path d="M48.90,601.19 L52.00,606.63 L45.80,606.63Z" fill="#7a1a3a" stroke="#2a0a10" stroke-width="0.6"/>
<text x="56.30" y="606.30" font-size="6.3" textLength="78.00" lengthAdjust="spacingAndGlyphs" stroke-width="0.14">Quizartinib 10 mg/kg, b.i.d.</text>
<text x="177.40" y="575.40" font-size="11.2" font-weight="bold" fill="#111" stroke-width="0">H</text>
<line x1="206.30" y1="585.70" x2="206.30" y2="667.30" stroke="#111" stroke-width="1.25"/>
<line x1="205.70" y1="666.70" x2="322.10" y2="666.70" stroke="#111" stroke-width="1.25"/>
<line x1="203.50" y1="666.70" x2="206.30" y2="666.70" stroke="#111" stroke-width="0.9"/>
<text x="201.10" y="668.70" font-size="6.2" text-anchor="end" stroke-width="0.14">0</text>
<line x1="203.50" y1="651.04" x2="206.30" y2="651.04" stroke="#111" stroke-width="0.9"/>
<text x="201.10" y="653.04" font-size="6.2" text-anchor="end" textLength="6.55" lengthAdjust="spacingAndGlyphs" stroke-width="0.14">20</text>
<line x1="203.50" y1="635.38" x2="206.30" y2="635.38" stroke="#111" stroke-width="0.9"/>
<text x="201.10" y="637.38" font-size="6.2" text-anchor="end" textLength="6.55" lengthAdjust="spacingAndGlyphs" stroke-width="0.14">40</text>
<line x1="203.50" y1="619.72" x2="206.30" y2="619.72" stroke="#111" stroke-width="0.9"/>
<text x="201.10" y="621.72" font-size="6.2" text-anchor="end" textLength="6.55" lengthAdjust="spacingAndGlyphs" stroke-width="0.14">60</text>
<line x1="203.50" y1="604.06" x2="206.30" y2="604.06" stroke="#111" stroke-width="0.9"/>
<text x="201.10" y="606.06" font-size="6.2" text-anchor="end" textLength="6.55" lengthAdjust="spacingAndGlyphs" stroke-width="0.14">80</text>
<line x1="203.50" y1="588.40" x2="206.30" y2="588.40" stroke="#111" stroke-width="0.9"/>
<text x="201.10" y="590.40" font-size="6.2" text-anchor="end" textLength="9.83" lengthAdjust="spacingAndGlyphs" stroke-width="0.14">100</text>
<text x="184.80" y="626.50" font-size="6.8" text-anchor="middle" textLength="56.00" lengthAdjust="spacingAndGlyphs" transform="rotate(-90 184.80 626.50)" stroke-width="0.14">hCD45+ (%) in BM</text>
<line x1="221.10" y1="615.60" x2="221.10" y2="639.60" stroke="#111" stroke-width="0.95"/>
<line x1="216.40" y1="615.60" x2="225.80" y2="615.60" stroke="#111" stroke-width="0.95"/>
<line x1="216.40" y1="639.60" x2="225.80" y2="639.60" stroke="#111" stroke-width="0.95"/>
<line x1="211.40" y1="627.80" x2="231.00" y2="627.80" stroke="#111" stroke-width="1.1"/>
<path d="M213.46,612.56 L217.14,616.24 M217.14,612.56 L213.46,616.24" stroke="#6a70b0" stroke-width="0.8"/>
<path d="M224.96,614.86 L228.64,618.54 M228.64,614.86 L224.96,618.54" stroke="#6a70b0" stroke-width="0.8"/>
<path d="M219.26,620.36 L222.94,624.04 M222.94,620.36 L219.26,624.04" stroke="#6a70b0" stroke-width="0.8"/>
<path d="M219.26,627.46 L222.94,631.14 M222.94,627.46 L219.26,631.14" stroke="#6a70b0" stroke-width="0.8"/>
<path d="M222.96,636.16 L226.64,639.84 M226.64,636.16 L222.96,639.84" stroke="#6a70b0" stroke-width="0.8"/>
<path d="M215.86,642.46 L219.54,646.14 M219.54,642.46 L215.86,646.14" stroke="#6a70b0" stroke-width="0.8"/>
<path d="M219.26,631.66 L222.94,635.34 M222.94,631.66 L219.26,635.34" stroke="#6a70b0" stroke-width="0.8"/>
<line x1="250.00" y1="602.50" x2="250.00" y2="636.30" stroke="#111" stroke-width="0.95"/>
<line x1="245.50" y1="602.50" x2="254.50" y2="602.50" stroke="#111" stroke-width="0.95"/>
<line x1="245.50" y1="636.30" x2="254.50" y2="636.30" stroke="#111" stroke-width="0.95"/>
<line x1="240.00" y1="619.50" x2="260.00" y2="619.50" stroke="#111" stroke-width="1.1"/>
<circle cx="253.25" cy="598.00" r="2.80" fill="#e8a840" stroke="#2a1a10" stroke-width="0.95"/>
<circle cx="245.75" cy="605.50" r="2.80" fill="#e8a840" stroke="#2a1a10" stroke-width="0.95"/>
<circle cx="245.75" cy="626.25" r="2.80" fill="#e8a840" stroke="#2a1a10" stroke-width="0.95"/>
<circle cx="253.75" cy="628.00" r="2.80" fill="#e8a840" stroke="#2a1a10" stroke-width="0.95"/>
<circle cx="250.00" cy="639.50" r="2.80" fill="#e8a840" stroke="#2a1a10" stroke-width="0.95"/>
<path d="M273.10,668.25 L275.75,663.62 L270.46,663.62Z" fill="#2a3a6a" stroke="#111" stroke-width="0.6"/>
<path d="M277.10,668.25 L279.75,663.62 L274.46,663.62Z" fill="#2a3a6a" stroke="#111" stroke-width="0.6"/>
<path d="M281.10,668.25 L283.75,663.62 L278.46,663.62Z" fill="#2a3a6a" stroke="#111" stroke-width="0.6"/>
<path d="M284.60,668.25 L287.25,663.62 L281.96,663.62Z" fill="#2a3a6a" stroke="#111" stroke-width="0.6"/>
<line x1="269.60" y1="663.70" x2="288.10" y2="663.70" stroke="#111" stroke-width="1.1"/>
<path d="M279.10,653.05L279.10,655.35M280.10,653.62L278.10,654.78M280.10,654.78L278.10,653.62" stroke="#222" stroke-width="0.6"/>
<path d="M302.00,660.74 L304.76,665.57 L299.24,665.57Z" fill="#6a1432" stroke="#2a0a14" stroke-width="0.6"/>
<path d="M313.50,660.24 L316.26,665.07 L310.74,665.07Z" fill="#6a1432" stroke="#2a0a14" stroke-width="0.6"/>
<path d="M306.50,659.24 L309.26,664.07 L303.74,664.07Z" fill="#6a1432" stroke="#2a0a14" stroke-width="0.6"/>
<path d="M311.00,659.24 L313.76,664.07 L308.24,664.07Z" fill="#6a1432" stroke="#2a0a14" stroke-width="0.6"/>
<path d="M304.50,652.24 L307.26,657.07 L301.74,657.07Z" fill="#6a1432" stroke="#2a0a14" stroke-width="0.6"/>
<path d="M311.50,652.24 L314.26,657.07 L308.74,657.07Z" fill="#6a1432" stroke="#2a0a14" stroke-width="0.6"/>
<path d="M307.70,649.24 L310.46,654.07 L304.94,654.07Z" fill="#6a1432" stroke="#2a0a14" stroke-width="0.6"/>
<line x1="298.40" y1="658.60" x2="317.50" y2="658.60" stroke="#111" stroke-width="1.1"/>
<path d="M307.90,639.05L307.90,641.35M308.90,639.62L306.90,640.78M308.90,640.78L306.90,639.62" stroke="#222" stroke-width="0.6"/>
<path d="M273.30,586.10 L276.50,589.30 M276.50,586.10 L273.30,589.30" stroke="#6a70b0" stroke-width="0.9"/>
<text x="280.00" y="589.70" font-size="6.3" textLength="61.10" lengthAdjust="spacingAndGlyphs" stroke-width="0.14">Before administration</text>
<circle cx="274.90" cy="596.60" r="2.60" fill="#e8a840" stroke="#2a1a10" stroke-width="0.9"/>
<text x="280.00" y="598.60" font-size="6.3" textLength="21.10" lengthAdjust="spacingAndGlyphs" stroke-width="0.14">Vehicle</text>
<path d="M274.90,607.79 L277.89,602.56 L271.91,602.56Z" fill="#2a3a6a" stroke="#111" stroke-width="0.6"/>
<text x="280.00" y="606.80" font-size="6.3" textLength="76.20" lengthAdjust="spacingAndGlyphs" stroke-width="0.14">FF-10101 10 mg/kg, b.i.d.</text>
<path d="M274.90,610.51 L277.89,615.74 L271.91,615.74Z" fill="#6a1432" stroke="#2a0a14" stroke-width="0.6"/>
<text x="280.00" y="615.50" font-size="6.3" textLength="80.30" lengthAdjust="spacingAndGlyphs" stroke-width="0.14">Quizartinib 10 mg/kg, b.i.d.</text>
<text x="383.20" y="575.40" font-size="11.2" font-weight="bold" fill="#111" stroke-width="0">I</text>
<line x1="407.90" y1="586.80" x2="407.90" y2="667.50" stroke="#111" stroke-width="1.25"/>
<line x1="407.30" y1="666.90" x2="511.60" y2="666.90" stroke="#111" stroke-width="1.25"/>
<line x1="405.10" y1="666.90" x2="407.90" y2="666.90" stroke="#111" stroke-width="0.9"/>
<text x="402.40" y="668.90" font-size="5.8" text-anchor="end" textLength="6.13" lengthAdjust="spacingAndGlyphs" stroke-width="0.22">80</text>
<line x1="405.10" y1="640.90" x2="407.90" y2="640.90" stroke="#111" stroke-width="0.9"/>
<text x="402.40" y="642.90" font-size="5.8" text-anchor="end" textLength="6.13" lengthAdjust="spacingAndGlyphs" stroke-width="0.22">90</text>
<line x1="405.10" y1="614.90" x2="407.90" y2="614.90" stroke="#111" stroke-width="0.9"/>
<text x="402.40" y="616.90" font-size="5.8" text-anchor="end" textLength="9.19" lengthAdjust="spacingAndGlyphs" stroke-width="0.22">100</text>
<line x1="405.10" y1="588.90" x2="407.90" y2="588.90" stroke="#111" stroke-width="0.9"/>
<text x="402.40" y="590.90" font-size="5.8" text-anchor="end" textLength="8.78" lengthAdjust="spacingAndGlyphs" stroke-width="0.22">110</text>
<line x1="407.90" y1="666.90" x2="407.90" y2="669.50" stroke="#111" stroke-width="0.9"/>
<text x="407.90" y="678.40" font-size="5.8" text-anchor="middle" stroke-width="0.22">0</text>
<line x1="420.50" y1="666.90" x2="420.50" y2="669.50" stroke="#111" stroke-width="0.9"/>
<text x="420.50" y="678.40" font-size="5.8" text-anchor="middle" stroke-width="0.22">2</text>
<line x1="433.10" y1="666.90" x2="433.10" y2="669.50" stroke="#111" stroke-width="0.9"/>
<text x="433.10" y="678.40" font-size="5.8" text-anchor="middle" stroke-width="0.22">4</text>
<line x1="445.70" y1="666.90" x2="445.70" y2="669.50" stroke="#111" stroke-width="0.9"/>
<text x="445.70" y="678.40" font-size="5.8" text-anchor="middle" stroke-width="0.22">6</text>
<line x1="458.30" y1="666.90" x2="458.30" y2="669.50" stroke="#111" stroke-width="0.9"/>
<text x="458.30" y="678.40" font-size="5.8" text-anchor="middle" stroke-width="0.22">8</text>
<line x1="470.90" y1="666.90" x2="470.90" y2="669.50" stroke="#111" stroke-width="0.9"/>
<text x="470.90" y="678.40" font-size="5.8" text-anchor="middle" textLength="6.13" lengthAdjust="spacingAndGlyphs" stroke-width="0.22">10</text>
<line x1="483.50" y1="666.90" x2="483.50" y2="669.50" stroke="#111" stroke-width="0.9"/>
<text x="483.50" y="678.40" font-size="5.8" text-anchor="middle" textLength="6.13" lengthAdjust="spacingAndGlyphs" stroke-width="0.22">12</text>
<line x1="496.10" y1="666.90" x2="496.10" y2="669.50" stroke="#111" stroke-width="0.9"/>
<text x="496.10" y="678.40" font-size="5.8" text-anchor="middle" textLength="6.13" lengthAdjust="spacingAndGlyphs" stroke-width="0.22">14</text>
<line x1="508.70" y1="666.90" x2="508.70" y2="669.50" stroke="#111" stroke-width="0.9"/>
<text x="508.70" y="678.40" font-size="5.8" text-anchor="middle" textLength="6.13" lengthAdjust="spacingAndGlyphs" stroke-width="0.22">16</text>
<text x="461.00" y="689.30" font-size="7.0" text-anchor="middle" textLength="66.30" lengthAdjust="spacingAndGlyphs" stroke-width="0.14">Days of administration</text>
<text x="386.30" y="624.50" font-size="6.8" text-anchor="middle" textLength="78.00" lengthAdjust="spacingAndGlyphs" transform="rotate(-90 386.30 624.50)" stroke-width="0.14">% changes in body weight</text>
<line x1="427.10" y1="615.00" x2="427.10" y2="624.00" stroke="#c9a04a" stroke-width="0.8"/>
<line x1="425.20" y1="615.00" x2="429.00" y2="615.00" stroke="#c9a04a" stroke-width="0.8"/>
<line x1="425.20" y1="624.00" x2="429.00" y2="624.00" stroke="#c9a04a" stroke-width="0.8"/>
<line x1="445.80" y1="613.80" x2="445.80" y2="634.60" stroke="#7a3a5a" stroke-width="0.8"/>
<line x1="443.90" y1="613.80" x2="447.70" y2="613.80" stroke="#7a3a5a" stroke-width="0.8"/>
<line x1="443.90" y1="634.60" x2="447.70" y2="634.60" stroke="#7a3a5a" stroke-width="0.8"/>
<line x1="465.00" y1="609.20" x2="465.00" y2="630.80" stroke="#c9a04a" stroke-width="0.8"/>
<line x1="463.10" y1="609.20" x2="466.90" y2="609.20" stroke="#c9a04a" stroke-width="0.8"/>
<line x1="463.10" y1="630.80" x2="466.90" y2="630.80" stroke="#c9a04a" stroke-width="0.8"/>
<line x1="483.80" y1="614.40" x2="483.80" y2="631.70" stroke="#4a5a8a" stroke-width="0.8"/>
<line x1="481.90" y1="614.40" x2="485.70" y2="614.40" stroke="#4a5a8a" stroke-width="0.8"/>
<line x1="481.90" y1="631.70" x2="485.70" y2="631.70" stroke="#4a5a8a" stroke-width="0.8"/>
<line x1="496.90" y1="610.60" x2="496.90" y2="633.70" stroke="#7a3a5a" stroke-width="0.8"/>
<line x1="495.00" y1="610.60" x2="498.80" y2="610.60" stroke="#7a3a5a" stroke-width="0.8"/>
<line x1="495.00" y1="633.70" x2="498.80" y2="633.70" stroke="#7a3a5a" stroke-width="0.8"/>
<line x1="427.10" y1="622.70" x2="427.10" y2="632.70" stroke="#7a1a3a" stroke-width="0.8"/>
<line x1="425.20" y1="622.70" x2="429.00" y2="622.70" stroke="#7a1a3a" stroke-width="0.8"/>
<line x1="425.20" y1="632.70" x2="429.00" y2="632.70" stroke="#7a1a3a" stroke-width="0.8"/>
<polyline points="407.90,614.60 427.10,626.50 445.80,625.50 465.00,623.50 483.80,620.20 496.90,622.10" fill="none" stroke="#34507e" stroke-width="1.7" stroke-linejoin="round"/>
<polyline points="407.90,614.60 427.10,619.60 445.80,619.20 465.00,615.40 483.80,625.00 496.90,625.00" fill="none" stroke="#d9a030" stroke-width="1.5" stroke-linejoin="round"/>
<polyline points="407.90,614.60 427.10,626.90 445.80,625.00 465.00,623.50 483.80,625.00 496.90,618.30" fill="none" stroke="#7a1030" stroke-width="1.8" stroke-linejoin="round"/>
<path d="M407.90,617.13 L410.43,612.70 L405.37,612.70Z" fill="#3f5f8e" stroke="#111" stroke-width="0.5"/>
<path d="M427.10,629.03 L429.63,624.60 L424.57,624.60Z" fill="#3f5f8e" stroke="#111" stroke-width="0.5"/>
<path d="M445.80,628.03 L448.33,623.60 L443.27,623.60Z" fill="#3f5f8e" stroke="#111" stroke-width="0.5"/>
<path d="M465.00,626.03 L467.53,621.60 L462.47,621.60Z" fill="#3f5f8e" stroke="#111" stroke-width="0.5"/>
<path d="M483.80,622.73 L486.33,618.30 L481.27,618.30Z" fill="#3f5f8e" stroke="#111" stroke-width="0.5"/>
<path d="M496.90,624.63 L499.43,620.20 L494.37,620.20Z" fill="#3f5f8e" stroke="#111" stroke-width="0.5"/>
<circle cx="407.90" cy="614.60" r="2.30" fill="#b08a3a" stroke="#2a1a10" stroke-width="0.9"/>
<circle cx="427.10" cy="619.60" r="2.30" fill="#b08a3a" stroke="#2a1a10" stroke-width="0.9"/>
<circle cx="445.80" cy="619.20" r="2.30" fill="#b08a3a" stroke="#2a1a10" stroke-width="0.9"/>
<circle cx="465.00" cy="615.40" r="2.30" fill="#b08a3a" stroke="#2a1a10" stroke-width="0.9"/>
<circle cx="483.80" cy="625.00" r="2.30" fill="#b08a3a" stroke="#2a1a10" stroke-width="0.9"/>
<circle cx="496.90" cy="625.00" r="2.30" fill="#b08a3a" stroke="#2a1a10" stroke-width="0.9"/>
<path d="M407.90,612.07 L410.43,616.50 L405.37,616.50Z" fill="#6a1432" stroke="#2a0a14" stroke-width="0.5"/>
<path d="M427.10,624.37 L429.63,628.80 L424.57,628.80Z" fill="#6a1432" stroke="#2a0a14" stroke-width="0.5"/>
<path d="M445.80,622.47 L448.33,626.90 L443.27,626.90Z" fill="#6a1432" stroke="#2a0a14" stroke-width="0.5"/>
<path d="M465.00,620.97 L467.53,625.40 L462.47,625.40Z" fill="#6a1432" stroke="#2a0a14" stroke-width="0.5"/>
<path d="M483.80,622.47 L486.33,626.90 L481.27,626.90Z" fill="#6a1432" stroke="#2a0a14" stroke-width="0.5"/>
<path d="M496.90,615.77 L499.43,620.20 L494.37,620.20Z" fill="#6a1432" stroke="#2a0a14" stroke-width="0.5"/>
<line x1="422.00" y1="584.30" x2="430.50" y2="584.30" stroke="#d9a030" stroke-width="1.5"/>
<circle cx="426.20" cy="584.30" r="2.20" fill="#b08a3a" stroke="#2a1a10" stroke-width="0.9"/>
<text x="434.20" y="586.20" font-size="6.0" textLength="20.20" lengthAdjust="spacingAndGlyphs" stroke-width="0.22">Vehicle</text>
<line x1="422.00" y1="591.40" x2="430.50" y2="591.40" stroke="#34507e" stroke-width="1.5"/>
<path d="M426.20,593.93 L428.73,589.50 L423.67,589.50Z" fill="#3f5f8e" stroke="#111" stroke-width="0.5"/>
<text x="434.20" y="593.30" font-size="6.0" textLength="74.60" lengthAdjust="spacingAndGlyphs" stroke-width="0.22">FF-10101 10 mg/kg, b.i.d.</text>
<line x1="422.00" y1="598.50" x2="430.50" y2="598.50" stroke="#7a1030" stroke-width="1.5"/>
<path d="M426.20,595.97 L428.73,600.40 L423.67,600.40Z" fill="#6a1432" stroke="#2a0a14" stroke-width="0.5"/>
<text x="434.20" y="600.40" font-size="6.0" textLength="78.80" lengthAdjust="spacingAndGlyphs" stroke-width="0.22">Quizartinib 10 mg/kg, b.i.d.</text>
<rect x="0" y="0" width="520" height="1.4" fill="#000"/>
<rect x="0" y="697.6" width="520" height="1.4" fill="#000"/>
<rect x="0" y="0" width="1.3" height="699" fill="#000"/>
<rect x="518.5" y="0" width="1.5" height="699" fill="#000"/>
</svg>
</body></html>
